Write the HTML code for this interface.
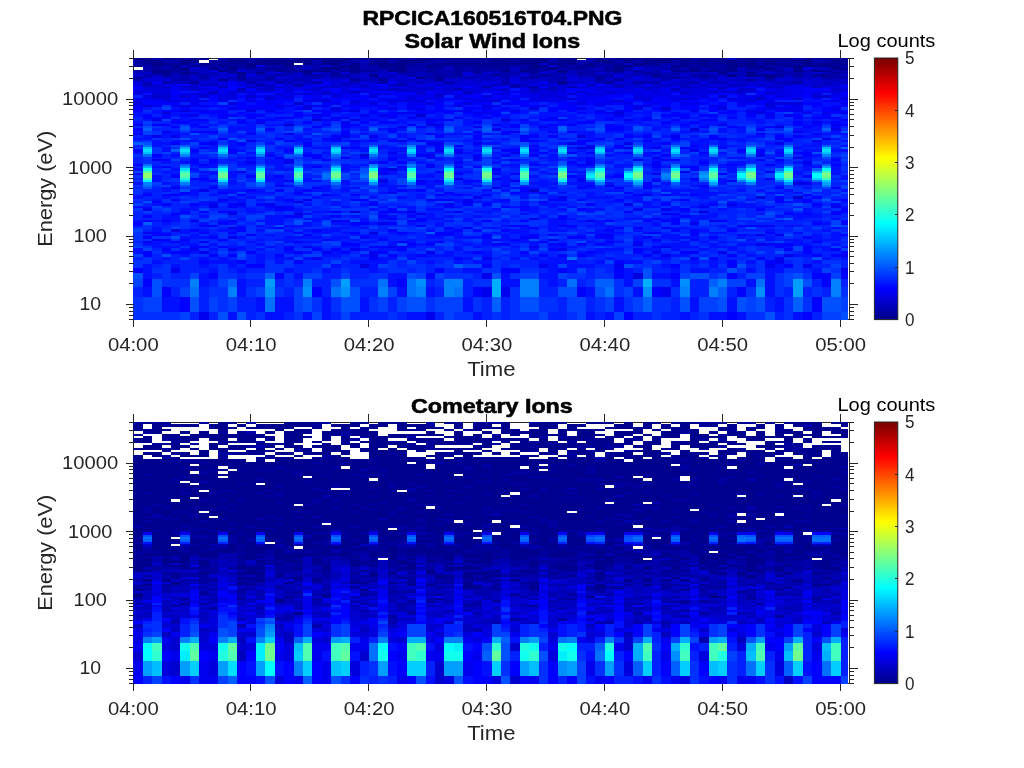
<!DOCTYPE html><html><head><meta charset="utf-8"><style>html,body{margin:0;padding:0;background:#fff;width:1024px;height:768px;overflow:hidden}svg{display:block;will-change:transform}text{font-family:"Liberation Sans",sans-serif}</style></head><body>
<svg width="1024" height="768" viewBox="0 0 1024 768">
<rect width="1024" height="768" fill="#fff"/>
<path d="M133.5 58.5H849.5V319.5H133.5z" fill="none" stroke="#262626" stroke-width="1" shape-rendering="crispEdges"/>
<g shape-rendering="crispEdges"><path fill="#00008f" d="M133 58h19v2h-19zM162 58h18v2h-18zM190 58h19v2h-19zM228 58h18v2h-18zM265 58h19v2h-19zM294 58h113v2h-113zM416 58h132v2h-132zM558 58h19v2h-19zM595 58h10v2h-10zM614 58h76v2h-76zM699 58h28v2h-28zM737 58h56v2h-56zM803 58h9v2h-9zM822 58h26v2h-26zM152 63h19v2h-19zM180 63h10v2h-10zM199 63h10v2h-10zM246 63h48v2h-48zM303 63h9v2h-9zM322 63h19v2h-19zM350 63h10v2h-10zM369 63h38v2h-38zM435 63h57v2h-57zM501 63h38v2h-38zM548 63h10v2h-10zM567 63h10v2h-10zM586 63h9v2h-9zM633 63h19v2h-19zM690 63h9v2h-9zM727 63h10v2h-10zM746 63h10v2h-10zM765 63h10v2h-10zM803 63h9v2h-9zM822 63h9v2h-9zM841 63h7v2h-7zM133 65h10v2h-10zM152 65h10v2h-10zM171 65h9v2h-9zM190 65h9v2h-9zM218 65h10v2h-10zM246 65h10v2h-10zM284 65h10v2h-10zM341 65h19v2h-19zM378 65h29v2h-29zM426 65h9v2h-9zM492 65h9v2h-9zM529 65h19v2h-19zM558 65h9v2h-9zM577 65h18v2h-18zM614 65h19v2h-19zM671 65h19v2h-19zM699 65h10v2h-10zM727 65h38v2h-38zM784 65h57v2h-57zM152 70h19v2h-19zM218 70h10v2h-10zM275 70h9v2h-9zM303 70h28v2h-28zM350 70h10v2h-10zM388 70h19v2h-19zM501 70h9v2h-9zM520 70h9v2h-9zM558 70h9v2h-9zM614 70h10v2h-10zM671 70h9v2h-9zM690 70h9v2h-9zM709 70h9v2h-9zM727 70h10v2h-10zM793 70h10v2h-10zM812 70h10v2h-10zM152 72h19v2h-19zM180 72h10v2h-10zM237 72h9v2h-9zM256 72h9v2h-9zM303 72h9v2h-9zM718 72h9v2h-9zM746 72h10v2h-10zM416 77h10v2h-10zM765 77h10v2h-10zM218 79h10v2h-10zM350 79h10v2h-10zM435 79h9v2h-9zM143 60h19v3h-19zM180 60h19v3h-19zM228 60h18v3h-18zM256 60h56v3h-56zM322 60h28v3h-28zM378 60h10v3h-10zM397 60h29v3h-29zM492 60h18v3h-18zM520 60h28v3h-28zM558 60h19v3h-19zM595 60h19v3h-19zM624 60h9v3h-9zM643 60h28v3h-28zM680 60h10v3h-10zM699 60h10v3h-10zM718 60h19v3h-19zM746 60h10v3h-10zM765 60h10v3h-10zM793 60h19v3h-19zM831 60h10v3h-10zM180 67h10v3h-10zM209 67h9v3h-9zM228 67h9v3h-9zM322 67h19v3h-19zM350 67h10v3h-10zM397 67h10v3h-10zM529 67h10v3h-10zM548 67h10v3h-10zM614 67h10v3h-10zM690 67h9v3h-9zM727 67h10v3h-10zM765 67h10v3h-10zM793 67h10v3h-10zM831 67h10v3h-10zM369 74h9v3h-9zM652 74h9v3h-9zM727 74h10v3h-10zM746 74h10v3h-10zM765 74h10v3h-10zM558 81h9v3h-9z"/><path fill="#0000af" d="M152 58h10v2h-10zM793 58h10v2h-10zM133 63h10v2h-10zM312 63h10v2h-10zM360 63h9v2h-9zM416 63h19v2h-19zM577 63h9v2h-9zM595 63h10v2h-10zM661 63h19v2h-19zM756 63h9v2h-9zM793 63h10v2h-10zM143 65h9v2h-9zM162 65h9v2h-9zM209 65h9v2h-9zM265 65h19v2h-19zM312 65h10v2h-10zM360 65h18v2h-18zM444 65h10v2h-10zM510 65h19v2h-19zM567 65h10v2h-10zM605 65h9v2h-9zM643 65h9v2h-9zM690 65h9v2h-9zM718 65h9v2h-9zM765 65h10v2h-10zM841 65h7v2h-7zM133 70h19v2h-19zM256 70h19v2h-19zM331 70h10v2h-10zM407 70h19v2h-19zM435 70h19v2h-19zM463 70h10v2h-10zM482 70h19v2h-19zM539 70h9v2h-9zM577 70h28v2h-28zM652 70h9v2h-9zM737 70h38v2h-38zM803 70h9v2h-9zM831 70h17v2h-17zM171 72h9v2h-9zM284 72h10v2h-10zM407 72h9v2h-9zM426 72h28v2h-28zM501 72h19v2h-19zM586 72h9v2h-9zM614 72h10v2h-10zM633 72h10v2h-10zM652 72h9v2h-9zM671 72h9v2h-9zM775 72h28v2h-28zM841 72h7v2h-7zM180 77h10v2h-10zM228 77h9v2h-9zM312 77h10v2h-10zM341 77h9v2h-9zM378 77h10v2h-10zM426 77h9v2h-9zM444 77h10v2h-10zM463 77h10v2h-10zM501 77h9v2h-9zM520 77h9v2h-9zM661 77h10v2h-10zM680 77h10v2h-10zM699 77h10v2h-10zM831 77h17v2h-17zM133 79h10v2h-10zM171 79h19v2h-19zM256 79h19v2h-19zM294 79h9v2h-9zM360 79h18v2h-18zM548 79h10v2h-10zM661 79h10v2h-10zM765 79h10v2h-10zM143 84h9v2h-9zM397 84h10v2h-10zM510 84h10v2h-10zM482 86h10v2h-10zM510 86h10v2h-10zM529 86h10v2h-10zM567 86h10v2h-10zM162 60h18v3h-18zM312 60h10v3h-10zM350 60h10v3h-10zM388 60h9v3h-9zM435 60h9v3h-9zM548 60h10v3h-10zM577 60h18v3h-18zM614 60h10v3h-10zM633 60h10v3h-10zM812 60h19v3h-19zM143 67h9v3h-9zM162 67h9v3h-9zM218 67h10v3h-10zM237 67h9v3h-9zM256 67h9v3h-9zM294 67h9v3h-9zM312 67h10v3h-10zM360 67h18v3h-18zM407 67h19v3h-19zM463 67h10v3h-10zM558 67h9v3h-9zM586 67h9v3h-9zM624 67h9v3h-9zM661 67h10v3h-10zM680 67h10v3h-10zM699 67h10v3h-10zM775 67h9v3h-9zM143 74h9v3h-9zM180 74h10v3h-10zM199 74h10v3h-10zM275 74h9v3h-9zM303 74h19v3h-19zM341 74h9v3h-9zM407 74h9v3h-9zM426 74h9v3h-9zM444 74h10v3h-10zM501 74h9v3h-9zM529 74h10v3h-10zM548 74h10v3h-10zM577 74h37v3h-37zM661 74h19v3h-19zM690 74h9v3h-9zM709 74h9v3h-9zM831 74h10v3h-10zM162 81h9v3h-9zM246 81h10v3h-10zM275 81h9v3h-9zM312 81h10v3h-10zM378 81h10v3h-10zM444 81h10v3h-10zM501 81h9v3h-9zM633 81h28v3h-28zM690 81h9v3h-9zM793 81h10v3h-10z"/><path fill="#00009f" d="M180 58h10v2h-10zM218 58h10v2h-10zM246 58h19v2h-19zM284 58h10v2h-10zM407 58h9v2h-9zM548 58h10v2h-10zM586 58h9v2h-9zM605 58h9v2h-9zM690 58h9v2h-9zM812 58h10v2h-10zM143 63h9v2h-9zM171 63h9v2h-9zM209 63h37v2h-37zM407 63h9v2h-9zM492 63h9v2h-9zM558 63h9v2h-9zM605 63h19v2h-19zM652 63h9v2h-9zM680 63h10v2h-10zM699 63h28v2h-28zM737 63h9v2h-9zM775 63h18v2h-18zM812 63h10v2h-10zM831 63h10v2h-10zM199 65h10v2h-10zM228 65h18v2h-18zM294 65h9v2h-9zM331 65h10v2h-10zM407 65h19v2h-19zM435 65h9v2h-9zM454 65h38v2h-38zM501 65h9v2h-9zM595 65h10v2h-10zM633 65h10v2h-10zM652 65h9v2h-9zM709 65h9v2h-9zM775 65h9v2h-9zM171 70h19v2h-19zM228 70h9v2h-9zM284 70h19v2h-19zM341 70h9v2h-9zM360 70h18v2h-18zM426 70h9v2h-9zM454 70h9v2h-9zM473 70h9v2h-9zM529 70h10v2h-10zM605 70h9v2h-9zM633 70h10v2h-10zM680 70h10v2h-10zM699 70h10v2h-10zM718 70h9v2h-9zM775 70h9v2h-9zM822 70h9v2h-9zM190 72h9v2h-9zM228 72h9v2h-9zM331 72h10v2h-10zM350 72h10v2h-10zM397 72h10v2h-10zM454 72h9v2h-9zM473 72h9v2h-9zM529 72h10v2h-10zM558 72h9v2h-9zM577 72h9v2h-9zM643 72h9v2h-9zM831 72h10v2h-10zM133 77h10v2h-10zM199 77h10v2h-10zM237 77h9v2h-9zM265 77h10v2h-10zM435 77h9v2h-9zM529 77h10v2h-10zM558 77h9v2h-9zM595 77h10v2h-10zM671 77h9v2h-9zM822 77h9v2h-9zM237 79h9v2h-9zM378 79h10v2h-10zM595 79h10v2h-10zM614 79h10v2h-10zM746 79h10v2h-10zM256 84h9v2h-9zM294 84h9v2h-9zM133 60h10v3h-10zM209 60h19v3h-19zM246 60h10v3h-10zM369 60h9v3h-9zM426 60h9v3h-9zM444 60h48v3h-48zM510 60h10v3h-10zM671 60h9v3h-9zM690 60h9v3h-9zM709 60h9v3h-9zM737 60h9v3h-9zM756 60h9v3h-9zM775 60h18v3h-18zM841 60h7v3h-7zM152 67h10v3h-10zM171 67h9v3h-9zM246 67h10v3h-10zM265 67h29v3h-29zM341 67h9v3h-9zM378 67h19v3h-19zM426 67h18v3h-18zM454 67h9v3h-9zM473 67h37v3h-37zM520 67h9v3h-9zM539 67h9v3h-9zM567 67h19v3h-19zM605 67h9v3h-9zM671 67h9v3h-9zM709 67h18v3h-18zM746 67h19v3h-19zM841 67h7v3h-7zM162 74h9v3h-9zM237 74h9v3h-9zM331 74h10v3h-10zM435 74h9v3h-9zM454 74h9v3h-9zM492 74h9v3h-9zM539 74h9v3h-9zM699 74h10v3h-10zM756 74h9v3h-9zM775 74h9v3h-9zM793 74h10v3h-10zM812 74h19v3h-19zM190 81h9v3h-9zM605 81h9v3h-9z"/><path fill="#0000bf" d="M727 58h10v2h-10zM190 63h9v2h-9zM341 63h9v2h-9zM624 63h9v2h-9zM180 65h10v2h-10zM303 65h9v2h-9zM661 65h10v2h-10zM190 70h19v2h-19zM246 70h10v2h-10zM378 70h10v2h-10zM510 70h10v2h-10zM548 70h10v2h-10zM567 70h10v2h-10zM624 70h9v2h-9zM643 70h9v2h-9zM784 70h9v2h-9zM133 72h10v2h-10zM199 72h19v2h-19zM246 72h10v2h-10zM294 72h9v2h-9zM322 72h9v2h-9zM360 72h28v2h-28zM416 72h10v2h-10zM492 72h9v2h-9zM520 72h9v2h-9zM548 72h10v2h-10zM567 72h10v2h-10zM605 72h9v2h-9zM661 72h10v2h-10zM680 72h29v2h-29zM727 72h19v2h-19zM756 72h9v2h-9zM803 72h9v2h-9zM822 72h9v2h-9zM171 77h9v2h-9zM246 77h10v2h-10zM294 77h18v2h-18zM331 77h10v2h-10zM350 77h10v2h-10zM369 77h9v2h-9zM454 77h9v2h-9zM473 77h19v2h-19zM548 77h10v2h-10zM605 77h28v2h-28zM652 77h9v2h-9zM690 77h9v2h-9zM709 77h9v2h-9zM775 77h9v2h-9zM793 77h19v2h-19zM190 79h19v2h-19zM246 79h10v2h-10zM275 79h19v2h-19zM303 79h9v2h-9zM407 79h9v2h-9zM426 79h9v2h-9zM482 79h28v2h-28zM520 79h9v2h-9zM539 79h9v2h-9zM558 79h9v2h-9zM699 79h19v2h-19zM727 79h19v2h-19zM756 79h9v2h-9zM793 79h10v2h-10zM831 79h10v2h-10zM199 84h19v2h-19zM341 84h9v2h-9zM388 84h9v2h-9zM492 84h18v2h-18zM520 84h9v2h-9zM558 84h9v2h-9zM586 84h9v2h-9zM614 84h10v2h-10zM680 84h10v2h-10zM727 84h19v2h-19zM756 84h9v2h-9zM822 84h9v2h-9zM218 86h10v2h-10zM246 86h10v2h-10zM265 86h10v2h-10zM548 86h10v2h-10zM614 86h10v2h-10zM680 86h10v2h-10zM812 86h10v2h-10zM209 91h9v2h-9zM350 91h10v2h-10zM463 91h10v2h-10zM709 91h9v2h-9zM727 91h10v2h-10zM756 98h9v2h-9zM360 60h9v3h-9zM199 67h10v3h-10zM303 67h9v3h-9zM444 67h10v3h-10zM510 67h10v3h-10zM595 67h10v3h-10zM643 67h18v3h-18zM737 67h9v3h-9zM784 67h9v3h-9zM812 67h19v3h-19zM152 74h10v3h-10zM171 74h9v3h-9zM190 74h9v3h-9zM209 74h9v3h-9zM256 74h19v3h-19zM284 74h10v3h-10zM322 74h9v3h-9zM350 74h10v3h-10zM388 74h9v3h-9zM416 74h10v3h-10zM473 74h19v3h-19zM510 74h10v3h-10zM558 74h9v3h-9zM624 74h28v3h-28zM718 74h9v3h-9zM737 74h9v3h-9zM784 74h9v3h-9zM803 74h9v3h-9zM841 74h7v3h-7zM143 81h9v3h-9zM171 81h19v3h-19zM284 81h10v3h-10zM303 81h9v3h-9zM350 81h10v3h-10zM397 81h10v3h-10zM416 81h10v3h-10zM548 81h10v3h-10zM567 81h10v3h-10zM595 81h10v3h-10zM680 81h10v3h-10zM709 81h18v3h-18zM775 81h18v3h-18zM822 81h9v3h-9zM841 81h7v3h-7zM237 88h9v3h-9zM265 88h10v3h-10zM388 88h9v3h-9zM454 88h9v3h-9zM529 88h10v3h-10zM548 88h10v3h-10zM671 88h9v3h-9z"/><path fill="#0000cf" d="M539 63h9v2h-9zM322 65h9v2h-9zM548 65h10v2h-10zM661 70h10v2h-10zM143 72h9v2h-9zM218 72h10v2h-10zM265 72h19v2h-19zM312 72h10v2h-10zM341 72h9v2h-9zM482 72h10v2h-10zM539 72h9v2h-9zM595 72h10v2h-10zM624 72h9v2h-9zM709 72h9v2h-9zM765 72h10v2h-10zM812 72h10v2h-10zM143 77h9v2h-9zM162 77h9v2h-9zM190 77h9v2h-9zM209 77h19v2h-19zM256 77h9v2h-9zM284 77h10v2h-10zM322 77h9v2h-9zM360 77h9v2h-9zM388 77h19v2h-19zM539 77h9v2h-9zM577 77h18v2h-18zM643 77h9v2h-9zM727 77h38v2h-38zM812 77h10v2h-10zM152 79h10v2h-10zM228 79h9v2h-9zM322 79h19v2h-19zM388 79h19v2h-19zM416 79h10v2h-10zM454 79h28v2h-28zM529 79h10v2h-10zM577 79h18v2h-18zM605 79h9v2h-9zM633 79h28v2h-28zM680 79h10v2h-10zM718 79h9v2h-9zM784 79h9v2h-9zM803 79h28v2h-28zM841 79h7v2h-7zM190 84h9v2h-9zM265 84h10v2h-10zM284 84h10v2h-10zM331 84h10v2h-10zM360 84h9v2h-9zM435 84h19v2h-19zM463 84h10v2h-10zM539 84h9v2h-9zM624 84h19v2h-19zM652 84h28v2h-28zM699 84h10v2h-10zM775 84h18v2h-18zM803 84h19v2h-19zM831 84h10v2h-10zM143 86h28v2h-28zM180 86h19v2h-19zM275 86h9v2h-9zM294 86h9v2h-9zM322 86h19v2h-19zM360 86h9v2h-9zM407 86h9v2h-9zM426 86h9v2h-9zM520 86h9v2h-9zM633 86h38v2h-38zM690 86h47v2h-47zM765 86h19v2h-19zM228 91h18v2h-18zM322 91h9v2h-9zM416 91h10v2h-10zM529 91h10v2h-10zM577 91h9v2h-9zM605 91h9v2h-9zM680 91h10v2h-10zM737 91h9v2h-9zM831 91h10v2h-10zM152 93h10v2h-10zM209 93h9v2h-9zM275 93h9v2h-9zM303 93h9v2h-9zM322 93h9v2h-9zM416 93h10v2h-10zM435 93h9v2h-9zM463 93h10v2h-10zM539 93h9v2h-9zM567 93h10v2h-10zM586 93h9v2h-9zM680 93h10v2h-10zM765 93h10v2h-10zM265 98h10v2h-10zM567 98h10v2h-10zM680 98h10v2h-10zM793 98h10v2h-10zM322 100h9v2h-9zM492 100h9v2h-9zM614 100h10v2h-10zM143 105h9v2h-9zM765 105h10v2h-10zM312 119h10v2h-10zM501 119h9v2h-9zM284 124h10v2h-10zM190 67h9v3h-9zM133 74h10v3h-10zM218 74h10v3h-10zM294 74h9v3h-9zM360 74h9v3h-9zM378 74h10v3h-10zM397 74h10v3h-10zM463 74h10v3h-10zM520 74h9v3h-9zM567 74h10v3h-10zM680 74h10v3h-10zM209 81h9v3h-9zM256 81h9v3h-9zM294 81h9v3h-9zM341 81h9v3h-9zM369 81h9v3h-9zM407 81h9v3h-9zM426 81h18v3h-18zM454 81h9v3h-9zM473 81h9v3h-9zM520 81h19v3h-19zM577 81h9v3h-9zM624 81h9v3h-9zM671 81h9v3h-9zM737 81h19v3h-19zM765 81h10v3h-10zM812 81h10v3h-10zM831 81h10v3h-10zM190 88h9v3h-9zM256 88h9v3h-9zM312 88h10v3h-10zM397 88h38v3h-38zM444 88h10v3h-10zM501 88h9v3h-9zM539 88h9v3h-9zM643 88h9v3h-9zM718 88h9v3h-9zM737 88h19v3h-19zM831 88h10v3h-10zM152 95h19v3h-19zM180 95h10v3h-10zM199 95h10v3h-10zM246 95h10v3h-10zM435 95h9v3h-9zM718 95h9v3h-9zM812 95h19v3h-19zM294 102h9v3h-9zM661 107h10v3h-10zM416 114h10v3h-10zM529 189h10v3h-10zM793 196h10v3h-10z"/><path fill="#0000df" d="M256 65h9v2h-9zM209 70h9v2h-9zM237 70h9v2h-9zM388 72h9v2h-9zM463 72h10v2h-10zM152 77h10v2h-10zM275 77h9v2h-9zM407 77h9v2h-9zM492 77h9v2h-9zM510 77h10v2h-10zM567 77h10v2h-10zM718 77h9v2h-9zM784 77h9v2h-9zM143 79h9v2h-9zM162 79h9v2h-9zM209 79h9v2h-9zM444 79h10v2h-10zM510 79h10v2h-10zM567 79h10v2h-10zM624 79h9v2h-9zM671 79h9v2h-9zM690 79h9v2h-9zM775 79h9v2h-9zM133 84h10v2h-10zM152 84h10v2h-10zM218 84h10v2h-10zM237 84h19v2h-19zM303 84h9v2h-9zM350 84h10v2h-10zM407 84h19v2h-19zM454 84h9v2h-9zM473 84h19v2h-19zM548 84h10v2h-10zM605 84h9v2h-9zM690 84h9v2h-9zM709 84h18v2h-18zM746 84h10v2h-10zM765 84h10v2h-10zM793 84h10v2h-10zM256 86h9v2h-9zM284 86h10v2h-10zM312 86h10v2h-10zM341 86h19v2h-19zM369 86h9v2h-9zM388 86h19v2h-19zM416 86h10v2h-10zM444 86h19v2h-19zM473 86h9v2h-9zM558 86h9v2h-9zM577 86h37v2h-37zM624 86h9v2h-9zM737 86h9v2h-9zM822 86h19v2h-19zM133 91h10v2h-10zM152 91h19v2h-19zM246 91h10v2h-10zM284 91h10v2h-10zM341 91h9v2h-9zM360 91h9v2h-9zM397 91h19v2h-19zM444 91h10v2h-10zM473 91h9v2h-9zM501 91h9v2h-9zM520 91h9v2h-9zM548 91h19v2h-19zM614 91h29v2h-29zM652 91h9v2h-9zM690 91h19v2h-19zM718 91h9v2h-9zM746 91h10v2h-10zM765 91h19v2h-19zM822 91h9v2h-9zM133 93h10v2h-10zM162 93h9v2h-9zM190 93h19v2h-19zM228 93h9v2h-9zM294 93h9v2h-9zM312 93h10v2h-10zM331 93h10v2h-10zM369 93h19v2h-19zM444 93h10v2h-10zM492 93h18v2h-18zM529 93h10v2h-10zM548 93h10v2h-10zM595 93h19v2h-19zM652 93h19v2h-19zM690 93h9v2h-9zM737 93h9v2h-9zM784 93h9v2h-9zM812 93h10v2h-10zM152 98h19v2h-19zM218 98h10v2h-10zM407 98h9v2h-9zM426 98h9v2h-9zM463 98h10v2h-10zM529 98h19v2h-19zM558 98h9v2h-9zM633 98h19v2h-19zM671 98h9v2h-9zM690 98h9v2h-9zM727 98h10v2h-10zM746 98h10v2h-10zM841 98h7v2h-7zM162 100h28v2h-28zM199 100h10v2h-10zM246 100h10v2h-10zM303 100h19v2h-19zM350 100h10v2h-10zM388 100h38v2h-38zM473 100h19v2h-19zM548 100h10v2h-10zM643 100h9v2h-9zM746 100h10v2h-10zM831 100h10v2h-10zM180 105h10v2h-10zM275 105h9v2h-9zM303 105h9v2h-9zM454 105h9v2h-9zM482 105h10v2h-10zM643 105h9v2h-9zM180 110h10v2h-10zM246 110h10v2h-10zM350 110h10v2h-10zM162 112h9v2h-9zM614 112h10v2h-10zM756 112h9v2h-9zM152 119h10v2h-10zM350 119h10v2h-10zM426 124h9v2h-9zM775 126h9v2h-9zM577 147h18v2h-18zM378 180h10v2h-10zM294 201h9v2h-9zM350 211h10v2h-10zM699 211h10v2h-10zM228 213h9v2h-9zM294 213h9v2h-9zM369 232h9v2h-9zM633 67h10v3h-10zM803 67h9v3h-9zM228 74h9v3h-9zM246 74h10v3h-10zM614 74h10v3h-10zM133 81h10v3h-10zM199 81h10v3h-10zM218 81h10v3h-10zM237 81h9v3h-9zM265 81h10v3h-10zM331 81h10v3h-10zM360 81h9v3h-9zM463 81h10v3h-10zM482 81h19v3h-19zM510 81h10v3h-10zM586 81h9v3h-9zM614 81h10v3h-10zM661 81h10v3h-10zM699 81h10v3h-10zM727 81h10v3h-10zM756 81h9v3h-9zM803 81h9v3h-9zM143 88h28v3h-28zM180 88h10v3h-10zM199 88h10v3h-10zM284 88h10v3h-10zM303 88h9v3h-9zM341 88h9v3h-9zM369 88h19v3h-19zM435 88h9v3h-9zM463 88h38v3h-38zM558 88h9v3h-9zM595 88h10v3h-10zM624 88h9v3h-9zM652 88h9v3h-9zM680 88h29v3h-29zM775 88h9v3h-9zM841 88h7v3h-7zM143 95h9v3h-9zM218 95h19v3h-19zM265 95h10v3h-10zM284 95h10v3h-10zM331 95h10v3h-10zM369 95h9v3h-9zM407 95h9v3h-9zM454 95h9v3h-9zM482 95h10v3h-10zM539 95h28v3h-28zM633 95h19v3h-19zM699 95h10v3h-10zM756 95h9v3h-9zM775 95h9v3h-9zM133 102h10v3h-10zM228 102h9v3h-9zM350 102h10v3h-10zM369 102h9v3h-9zM426 102h9v3h-9zM463 102h10v3h-10zM577 102h9v3h-9zM765 102h38v3h-38zM303 107h9v3h-9zM331 107h10v3h-10zM529 107h10v3h-10zM633 107h10v3h-10zM718 107h9v3h-9zM690 128h9v3h-9zM577 135h9v3h-9zM360 154h9v3h-9zM388 168h9v3h-9zM793 182h10v3h-10zM756 196h9v3h-9zM171 229h9v3h-9zM360 264h9v4h-9zM633 273h10v6h-10z"/><path fill="#0000ef" d="M633 77h10v2h-10zM312 79h10v2h-10zM341 79h9v2h-9zM162 84h18v2h-18zM312 84h19v2h-19zM369 84h9v2h-9zM426 84h9v2h-9zM529 84h10v2h-10zM567 84h10v2h-10zM841 84h7v2h-7zM171 86h9v2h-9zM199 86h19v2h-19zM303 86h9v2h-9zM378 86h10v2h-10zM435 86h9v2h-9zM492 86h9v2h-9zM671 86h9v2h-9zM746 86h19v2h-19zM784 86h28v2h-28zM841 86h7v2h-7zM143 91h9v2h-9zM199 91h10v2h-10zM218 91h10v2h-10zM256 91h19v2h-19zM312 91h10v2h-10zM435 91h9v2h-9zM482 91h10v2h-10zM510 91h10v2h-10zM539 91h9v2h-9zM595 91h10v2h-10zM643 91h9v2h-9zM661 91h19v2h-19zM756 91h9v2h-9zM784 91h38v2h-38zM841 91h7v2h-7zM180 93h10v2h-10zM218 93h10v2h-10zM246 93h10v2h-10zM284 93h10v2h-10zM341 93h19v2h-19zM388 93h9v2h-9zM426 93h9v2h-9zM454 93h9v2h-9zM473 93h9v2h-9zM520 93h9v2h-9zM558 93h9v2h-9zM614 93h10v2h-10zM633 93h19v2h-19zM699 93h10v2h-10zM775 93h9v2h-9zM793 93h10v2h-10zM831 93h10v2h-10zM133 98h19v2h-19zM190 98h9v2h-9zM228 98h9v2h-9zM246 98h10v2h-10zM275 98h19v2h-19zM312 98h19v2h-19zM378 98h29v2h-29zM416 98h10v2h-10zM435 98h9v2h-9zM454 98h9v2h-9zM473 98h47v2h-47zM548 98h10v2h-10zM577 98h18v2h-18zM661 98h10v2h-10zM709 98h9v2h-9zM737 98h9v2h-9zM765 98h10v2h-10zM133 100h10v2h-10zM190 100h9v2h-9zM218 100h10v2h-10zM360 100h9v2h-9zM378 100h10v2h-10zM435 100h9v2h-9zM529 100h19v2h-19zM558 100h9v2h-9zM577 100h9v2h-9zM605 100h9v2h-9zM671 100h9v2h-9zM727 100h19v2h-19zM765 100h10v2h-10zM152 105h10v2h-10zM171 105h9v2h-9zM199 105h10v2h-10zM284 105h10v2h-10zM312 105h19v2h-19zM378 105h10v2h-10zM407 105h9v2h-9zM492 105h9v2h-9zM539 105h9v2h-9zM595 105h10v2h-10zM633 105h10v2h-10zM709 105h18v2h-18zM793 105h10v2h-10zM199 110h10v2h-10zM265 110h10v2h-10zM331 110h10v2h-10zM454 110h19v2h-19zM510 110h10v2h-10zM595 110h10v2h-10zM614 110h10v2h-10zM690 110h9v2h-9zM746 110h19v2h-19zM784 110h19v2h-19zM397 112h19v2h-19zM473 112h19v2h-19zM605 112h9v2h-9zM746 112h10v2h-10zM803 112h9v2h-9zM822 112h9v2h-9zM841 112h7v2h-7zM331 117h10v2h-10zM407 117h9v2h-9zM426 119h9v2h-9zM558 119h9v2h-9zM624 119h9v2h-9zM133 124h10v2h-10zM435 124h9v2h-9zM492 124h9v2h-9zM718 124h9v2h-9zM831 124h10v2h-10zM397 126h10v2h-10zM473 126h9v2h-9zM539 126h9v2h-9zM162 131h9v2h-9zM510 131h10v2h-10zM793 131h10v2h-10zM331 138h10v2h-10zM520 138h9v2h-9zM775 138h9v2h-9zM822 138h9v2h-9zM246 140h10v2h-10zM397 140h10v2h-10zM812 140h10v2h-10zM624 147h9v2h-9zM652 147h9v2h-9zM388 152h9v2h-9zM454 152h9v2h-9zM510 152h10v2h-10zM473 157h9v2h-9zM652 157h9v2h-9zM793 157h10v2h-10zM152 159h10v2h-10zM284 159h10v2h-10zM633 159h10v2h-10zM652 164h9v2h-9zM426 166h9v2h-9zM237 171h9v2h-9zM680 171h10v2h-10zM378 173h10v2h-10zM652 173h9v2h-9zM454 178h9v2h-9zM416 180h10v2h-10zM510 180h10v2h-10zM577 180h9v2h-9zM605 185h9v2h-9zM171 187h9v2h-9zM492 187h9v2h-9zM388 192h9v2h-9zM643 194h9v2h-9zM218 199h10v2h-10zM303 199h9v2h-9zM426 199h9v2h-9zM463 199h10v2h-10zM463 201h10v2h-10zM209 206h9v2h-9zM275 206h9v2h-9zM699 206h10v2h-10zM831 206h10v2h-10zM407 211h9v2h-9zM416 213h10v2h-10zM529 218h10v2h-10zM190 220h9v2h-9zM331 220h10v2h-10zM586 220h9v2h-9zM709 220h9v2h-9zM228 227h9v2h-9zM143 232h9v2h-9zM605 234h9v2h-9zM756 234h9v2h-9zM775 234h9v2h-9zM152 239h10v2h-10zM548 239h10v2h-10zM143 241h9v2h-9zM303 246h9v2h-9zM388 246h9v2h-9zM529 246h10v2h-10zM661 246h10v2h-10zM152 81h10v3h-10zM228 81h9v3h-9zM322 81h9v3h-9zM388 81h9v3h-9zM539 81h9v3h-9zM133 88h10v3h-10zM171 88h9v3h-9zM209 88h19v3h-19zM275 88h9v3h-9zM294 88h9v3h-9zM322 88h9v3h-9zM360 88h9v3h-9zM520 88h9v3h-9zM577 88h18v3h-18zM605 88h19v3h-19zM633 88h10v3h-10zM661 88h10v3h-10zM709 88h9v3h-9zM765 88h10v3h-10zM784 88h19v3h-19zM171 95h9v3h-9zM190 95h9v3h-9zM256 95h9v3h-9zM275 95h9v3h-9zM312 95h10v3h-10zM341 95h19v3h-19zM397 95h10v3h-10zM416 95h19v3h-19zM501 95h9v3h-9zM520 95h19v3h-19zM577 95h28v3h-28zM652 95h47v3h-47zM737 95h19v3h-19zM784 95h19v3h-19zM831 95h17v3h-17zM190 102h9v3h-9zM265 102h10v3h-10zM331 102h10v3h-10zM388 102h9v3h-9zM407 102h19v3h-19zM501 102h9v3h-9zM567 102h10v3h-10zM595 102h19v3h-19zM624 102h9v3h-9zM652 102h9v3h-9zM680 102h19v3h-19zM737 102h9v3h-9zM841 102h7v3h-7zM228 107h9v3h-9zM246 107h19v3h-19zM388 107h9v3h-9zM407 107h19v3h-19zM482 107h10v3h-10zM577 107h9v3h-9zM765 107h38v3h-38zM831 107h10v3h-10zM190 114h9v3h-9zM312 114h10v3h-10zM360 114h9v3h-9zM378 114h10v3h-10zM614 114h10v3h-10zM765 114h10v3h-10zM784 114h9v3h-9zM256 121h9v3h-9zM341 121h9v3h-9zM812 121h10v3h-10zM492 128h9v3h-9zM831 128h10v3h-10zM152 135h10v3h-10zM171 135h9v3h-9zM341 135h9v3h-9zM369 135h9v3h-9zM671 135h9v3h-9zM209 142h9v3h-9zM426 142h18v3h-18zM473 142h9v3h-9zM567 142h10v3h-10zM624 142h9v3h-9zM775 142h9v3h-9zM435 149h9v3h-9zM690 149h9v3h-9zM426 154h9v3h-9zM756 154h9v3h-9zM246 161h10v3h-10zM284 161h10v3h-10zM586 161h9v3h-9zM803 161h9v3h-9zM803 182h9v3h-9zM199 189h10v3h-10zM473 196h9v3h-9zM558 196h9v3h-9zM209 203h9v3h-9zM237 203h9v3h-9zM265 203h10v3h-10zM444 203h10v3h-10zM624 203h9v3h-9zM727 203h10v3h-10zM143 208h9v3h-9zM633 208h10v3h-10zM661 208h10v3h-10zM378 222h10v3h-10zM690 222h9v3h-9zM228 236h9v3h-9zM633 243h10v3h-10zM756 243h9v3h-9zM190 248h9v3h-9zM228 248h9v3h-9zM350 248h10v3h-10zM558 248h9v3h-9zM199 251h10v3h-10zM322 251h9v3h-9zM369 251h9v3h-9zM426 251h9v3h-9zM652 251h9v3h-9zM718 251h9v3h-9zM369 254h9v3h-9zM661 254h10v3h-10zM784 254h9v3h-9zM841 254h7v3h-7zM312 257h10v3h-10zM482 257h10v3h-10zM775 257h9v3h-9zM775 260h9v4h-9zM539 264h9v4h-9zM614 264h10v4h-10zM765 264h10v4h-10zM803 264h9v4h-9zM171 268h9v5h-9zM841 268h7v5h-7zM482 273h10v6h-10zM482 287h10v10h-10zM501 287h9v10h-9zM661 287h10v10h-10zM199 312h10v8h-10zM426 312h9v8h-9z"/><path fill="#0000ff" d="M180 84h10v2h-10zM228 84h9v2h-9zM275 84h9v2h-9zM378 84h10v2h-10zM577 84h9v2h-9zM595 84h10v2h-10zM643 84h9v2h-9zM133 86h10v2h-10zM228 86h18v2h-18zM463 86h10v2h-10zM501 86h9v2h-9zM539 86h9v2h-9zM171 91h9v2h-9zM275 91h9v2h-9zM303 91h9v2h-9zM331 91h10v2h-10zM369 91h28v2h-28zM426 91h9v2h-9zM454 91h9v2h-9zM492 91h9v2h-9zM567 91h10v2h-10zM586 91h9v2h-9zM171 93h9v2h-9zM397 93h19v2h-19zM577 93h9v2h-9zM624 93h9v2h-9zM709 93h28v2h-28zM756 93h9v2h-9zM803 93h9v2h-9zM841 93h7v2h-7zM171 98h19v2h-19zM209 98h9v2h-9zM303 98h9v2h-9zM331 98h38v2h-38zM444 98h10v2h-10zM595 98h19v2h-19zM624 98h9v2h-9zM652 98h9v2h-9zM699 98h10v2h-10zM775 98h18v2h-18zM812 98h10v2h-10zM831 98h10v2h-10zM143 100h19v2h-19zM209 100h9v2h-9zM256 100h38v2h-38zM331 100h10v2h-10zM369 100h9v2h-9zM463 100h10v2h-10zM510 100h19v2h-19zM586 100h19v2h-19zM624 100h19v2h-19zM652 100h19v2h-19zM680 100h19v2h-19zM709 100h9v2h-9zM756 100h9v2h-9zM822 100h9v2h-9zM841 100h7v2h-7zM133 105h10v2h-10zM190 105h9v2h-9zM209 105h19v2h-19zM237 105h38v2h-38zM341 105h37v2h-37zM416 105h10v2h-10zM435 105h9v2h-9zM520 105h19v2h-19zM558 105h19v2h-19zM624 105h9v2h-9zM661 105h10v2h-10zM680 105h19v2h-19zM737 105h9v2h-9zM784 105h9v2h-9zM812 105h10v2h-10zM831 105h17v2h-17zM133 110h10v2h-10zM162 110h18v2h-18zM190 110h9v2h-9zM209 110h19v2h-19zM312 110h19v2h-19zM341 110h9v2h-9zM369 110h9v2h-9zM416 110h38v2h-38zM482 110h19v2h-19zM548 110h10v2h-10zM567 110h10v2h-10zM624 110h9v2h-9zM661 110h10v2h-10zM709 110h9v2h-9zM727 110h10v2h-10zM775 110h9v2h-9zM822 110h26v2h-26zM199 112h29v2h-29zM237 112h9v2h-9zM275 112h9v2h-9zM294 112h9v2h-9zM322 112h9v2h-9zM369 112h9v2h-9zM388 112h9v2h-9zM416 112h19v2h-19zM444 112h10v2h-10zM463 112h10v2h-10zM492 112h9v2h-9zM510 112h10v2h-10zM577 112h9v2h-9zM595 112h10v2h-10zM671 112h9v2h-9zM718 112h19v2h-19zM765 112h10v2h-10zM831 112h10v2h-10zM143 117h28v2h-28zM218 117h10v2h-10zM246 117h10v2h-10zM275 117h19v2h-19zM312 117h10v2h-10zM341 117h9v2h-9zM388 117h9v2h-9zM454 117h9v2h-9zM482 117h10v2h-10zM548 117h10v2h-10zM605 117h9v2h-9zM643 117h9v2h-9zM680 117h10v2h-10zM727 117h10v2h-10zM765 117h10v2h-10zM793 117h10v2h-10zM812 117h29v2h-29zM171 119h9v2h-9zM190 119h19v2h-19zM237 119h9v2h-9zM256 119h19v2h-19zM322 119h19v2h-19zM369 119h9v2h-9zM435 119h19v2h-19zM520 119h9v2h-9zM539 119h19v2h-19zM605 119h9v2h-9zM643 119h9v2h-9zM671 119h9v2h-9zM699 119h19v2h-19zM841 119h7v2h-7zM152 124h19v2h-19zM190 124h9v2h-9zM322 124h9v2h-9zM341 124h19v2h-19zM407 124h9v2h-9zM510 124h10v2h-10zM548 124h10v2h-10zM567 124h10v2h-10zM605 124h9v2h-9zM680 124h10v2h-10zM793 124h10v2h-10zM812 124h10v2h-10zM841 124h7v2h-7zM171 126h9v2h-9zM199 126h10v2h-10zM312 126h10v2h-10zM341 126h9v2h-9zM416 126h10v2h-10zM435 126h9v2h-9zM510 126h10v2h-10zM605 126h19v2h-19zM699 126h10v2h-10zM727 126h10v2h-10zM765 126h10v2h-10zM803 126h9v2h-9zM831 126h10v2h-10zM190 131h28v2h-28zM341 131h9v2h-9zM388 131h9v2h-9zM473 131h9v2h-9zM501 131h9v2h-9zM548 131h10v2h-10zM567 131h10v2h-10zM133 133h10v2h-10zM246 133h10v2h-10zM284 133h10v2h-10zM341 133h9v2h-9zM426 133h9v2h-9zM501 133h9v2h-9zM756 133h9v2h-9zM812 133h10v2h-10zM218 138h10v2h-10zM275 138h9v2h-9zM322 138h9v2h-9zM407 138h9v2h-9zM473 138h9v2h-9zM595 138h10v2h-10zM614 138h10v2h-10zM671 138h9v2h-9zM709 138h18v2h-18zM784 138h9v2h-9zM284 140h10v2h-10zM331 140h10v2h-10zM350 140h10v2h-10zM369 140h9v2h-9zM388 140h9v2h-9zM416 140h10v2h-10zM520 140h19v2h-19zM577 140h18v2h-18zM643 140h9v2h-9zM784 140h9v2h-9zM303 145h9v2h-9zM435 145h9v2h-9zM454 145h9v2h-9zM529 145h10v2h-10zM586 145h9v2h-9zM614 145h10v2h-10zM690 145h9v2h-9zM199 147h10v2h-10zM341 147h19v2h-19zM435 147h9v2h-9zM614 147h10v2h-10zM680 147h10v2h-10zM718 147h9v2h-9zM228 152h9v2h-9zM539 152h9v2h-9zM567 152h10v2h-10zM586 152h9v2h-9zM624 152h9v2h-9zM652 152h9v2h-9zM699 152h10v2h-10zM756 152h9v2h-9zM775 152h9v2h-9zM793 152h19v2h-19zM246 157h10v2h-10zM275 157h9v2h-9zM312 157h10v2h-10zM341 157h9v2h-9zM360 157h9v2h-9zM388 157h9v2h-9zM426 157h9v2h-9zM586 157h9v2h-9zM162 159h9v2h-9zM190 159h9v2h-9zM209 159h9v2h-9zM322 159h9v2h-9zM388 159h9v2h-9zM473 159h9v2h-9zM510 159h10v2h-10zM586 159h9v2h-9zM661 159h19v2h-19zM756 159h9v2h-9zM775 159h9v2h-9zM831 159h10v2h-10zM133 164h10v2h-10zM199 164h10v2h-10zM426 164h9v2h-9zM529 164h10v2h-10zM577 164h18v2h-18zM727 164h10v2h-10zM765 164h10v2h-10zM803 164h9v2h-9zM831 164h10v2h-10zM162 166h9v2h-9zM312 166h10v2h-10zM397 166h10v2h-10zM454 166h9v2h-9zM473 166h9v2h-9zM652 166h9v2h-9zM680 166h19v2h-19zM378 171h10v2h-10zM435 171h9v2h-9zM765 171h10v2h-10zM454 173h9v2h-9zM492 173h9v2h-9zM510 173h10v2h-10zM718 173h9v2h-9zM190 178h19v2h-19zM492 178h9v2h-9zM577 178h9v2h-9zM690 178h9v2h-9zM765 178h10v2h-10zM209 180h9v2h-9zM284 180h10v2h-10zM435 180h9v2h-9zM463 180h19v2h-19zM652 180h9v2h-9zM727 180h10v2h-10zM275 185h9v2h-9zM501 185h9v2h-9zM586 185h9v2h-9zM643 185h9v2h-9zM699 185h10v2h-10zM209 187h9v2h-9zM312 187h10v2h-10zM520 187h9v2h-9zM577 187h9v2h-9zM614 187h10v2h-10zM643 187h9v2h-9zM775 187h9v2h-9zM831 187h10v2h-10zM180 192h10v2h-10zM218 192h10v2h-10zM294 192h9v2h-9zM444 192h10v2h-10zM510 192h10v2h-10zM539 192h9v2h-9zM624 192h9v2h-9zM143 194h9v2h-9zM162 194h18v2h-18zM237 194h9v2h-9zM322 194h9v2h-9zM350 194h10v2h-10zM435 194h9v2h-9zM454 194h9v2h-9zM482 194h10v2h-10zM633 194h10v2h-10zM661 194h10v2h-10zM690 194h9v2h-9zM803 194h9v2h-9zM171 199h9v2h-9zM284 199h10v2h-10zM350 199h19v2h-19zM435 199h19v2h-19zM501 199h9v2h-9zM548 199h19v2h-19zM577 199h9v2h-9zM614 199h10v2h-10zM680 199h10v2h-10zM775 199h9v2h-9zM803 199h9v2h-9zM841 199h7v2h-7zM152 201h10v2h-10zM369 201h9v2h-9zM539 201h9v2h-9zM775 201h9v2h-9zM803 201h9v2h-9zM228 206h9v2h-9zM265 206h10v2h-10zM284 206h10v2h-10zM444 206h10v2h-10zM501 206h9v2h-9zM520 206h9v2h-9zM180 211h10v2h-10zM199 211h10v2h-10zM218 211h19v2h-19zM331 211h10v2h-10zM378 211h29v2h-29zM454 211h9v2h-9zM624 211h9v2h-9zM831 211h17v2h-17zM171 213h9v2h-9zM661 213h19v2h-19zM784 213h9v2h-9zM803 213h9v2h-9zM831 213h10v2h-10zM388 218h9v2h-9zM416 218h10v2h-10zM558 218h9v2h-9zM652 218h9v2h-9zM671 218h9v2h-9zM143 220h9v2h-9zM162 220h9v2h-9zM228 220h9v2h-9zM341 220h9v2h-9zM407 220h19v2h-19zM482 220h10v2h-10zM520 220h9v2h-9zM605 220h9v2h-9zM643 220h9v2h-9zM661 220h19v2h-19zM718 220h9v2h-9zM841 220h7v2h-7zM199 225h19v2h-19zM416 225h10v2h-10zM510 225h19v2h-19zM558 225h19v2h-19zM737 225h38v2h-38zM237 227h9v2h-9zM275 227h9v2h-9zM444 227h10v2h-10zM463 227h10v2h-10zM529 227h10v2h-10zM614 227h10v2h-10zM633 227h10v2h-10zM661 227h10v2h-10zM152 232h10v2h-10zM199 232h10v2h-10zM228 232h9v2h-9zM294 232h9v2h-9zM350 232h10v2h-10zM397 232h10v2h-10zM435 232h19v2h-19zM643 232h18v2h-18zM690 232h9v2h-9zM765 232h10v2h-10zM152 234h19v2h-19zM246 234h10v2h-10zM303 234h9v2h-9zM435 234h19v2h-19zM482 234h10v2h-10zM529 234h10v2h-10zM548 234h10v2h-10zM595 234h10v2h-10zM690 234h9v2h-9zM737 234h9v2h-9zM841 234h7v2h-7zM162 239h9v2h-9zM180 239h10v2h-10zM218 239h10v2h-10zM322 239h9v2h-9zM378 239h10v2h-10zM492 239h9v2h-9zM510 239h10v2h-10zM652 239h9v2h-9zM690 239h9v2h-9zM171 241h9v2h-9zM199 241h10v2h-10zM294 241h9v2h-9zM397 241h10v2h-10zM435 241h9v2h-9zM539 241h9v2h-9zM605 241h9v2h-9zM633 241h10v2h-10zM812 241h10v2h-10zM190 246h19v2h-19zM218 246h10v2h-10zM284 246h10v2h-10zM369 246h19v2h-19zM397 246h10v2h-10zM652 246h9v2h-9zM775 246h9v2h-9zM803 246h9v2h-9zM228 88h9v3h-9zM246 88h10v3h-10zM331 88h10v3h-10zM350 88h10v3h-10zM567 88h10v3h-10zM727 88h10v3h-10zM803 88h28v3h-28zM209 95h9v3h-9zM237 95h9v3h-9zM303 95h9v3h-9zM360 95h9v3h-9zM463 95h19v3h-19zM492 95h9v3h-9zM510 95h10v3h-10zM605 95h19v3h-19zM765 95h10v3h-10zM803 95h9v3h-9zM143 102h37v3h-37zM237 102h9v3h-9zM256 102h9v3h-9zM275 102h9v3h-9zM322 102h9v3h-9zM360 102h9v3h-9zM435 102h9v3h-9zM454 102h9v3h-9zM473 102h19v3h-19zM510 102h19v3h-19zM558 102h9v3h-9zM586 102h9v3h-9zM614 102h10v3h-10zM643 102h9v3h-9zM661 102h10v3h-10zM699 102h10v3h-10zM718 102h9v3h-9zM746 102h19v3h-19zM803 102h19v3h-19zM133 107h10v3h-10zM180 107h10v3h-10zM237 107h9v3h-9zM265 107h19v3h-19zM294 107h9v3h-9zM350 107h10v3h-10zM378 107h10v3h-10zM435 107h9v3h-9zM463 107h19v3h-19zM501 107h9v3h-9zM548 107h29v3h-29zM624 107h9v3h-9zM652 107h9v3h-9zM680 107h19v3h-19zM709 107h9v3h-9zM756 107h9v3h-9zM822 107h9v3h-9zM143 114h9v3h-9zM162 114h9v3h-9zM180 114h10v3h-10zM218 114h19v3h-19zM246 114h19v3h-19zM294 114h9v3h-9zM322 114h9v3h-9zM388 114h9v3h-9zM473 114h9v3h-9zM492 114h9v3h-9zM661 114h29v3h-29zM699 114h19v3h-19zM746 114h10v3h-10zM793 114h10v3h-10zM822 114h9v3h-9zM171 121h19v3h-19zM237 121h9v3h-9zM303 121h9v3h-9zM360 121h9v3h-9zM378 121h19v3h-19zM426 121h9v3h-9zM473 121h9v3h-9zM577 121h18v3h-18zM661 121h10v3h-10zM690 121h9v3h-9zM793 121h10v3h-10zM831 121h10v3h-10zM133 128h10v3h-10zM265 128h10v3h-10zM388 128h9v3h-9zM605 128h19v3h-19zM756 128h9v3h-9zM331 135h10v3h-10zM435 135h9v3h-9zM473 135h9v3h-9zM520 135h19v3h-19zM548 135h10v3h-10zM624 135h9v3h-9zM643 135h9v3h-9zM709 135h9v3h-9zM775 135h9v3h-9zM793 135h10v3h-10zM171 142h9v3h-9zM199 142h10v3h-10zM237 142h9v3h-9zM303 142h9v3h-9zM577 142h9v3h-9zM661 142h10v3h-10zM133 149h10v3h-10zM190 149h9v3h-9zM228 149h9v3h-9zM284 149h10v3h-10zM454 149h9v3h-9zM501 149h19v3h-19zM529 149h10v3h-10zM737 149h9v3h-9zM756 149h9v3h-9zM152 154h10v3h-10zM265 154h10v3h-10zM303 154h19v3h-19zM416 154h10v3h-10zM473 154h9v3h-9zM501 154h9v3h-9zM529 154h10v3h-10zM661 154h10v3h-10zM803 154h9v3h-9zM190 161h9v3h-9zM209 161h9v3h-9zM378 161h10v3h-10zM397 161h10v3h-10zM454 161h9v3h-9zM567 161h10v3h-10zM652 161h9v3h-9zM699 161h10v3h-10zM378 168h10v3h-10zM492 168h9v3h-9zM690 168h9v3h-9zM171 175h9v3h-9zM246 175h10v3h-10zM275 175h9v3h-9zM567 175h10v3h-10zM614 175h10v3h-10zM803 175h9v3h-9zM416 182h10v3h-10zM643 182h9v3h-9zM246 189h10v3h-10zM275 189h9v3h-9zM303 189h9v3h-9zM397 189h10v3h-10zM416 189h10v3h-10zM520 189h9v3h-9zM775 196h9v3h-9zM812 196h10v3h-10zM162 203h9v3h-9zM190 203h9v3h-9zM228 203h9v3h-9zM256 203h9v3h-9zM369 203h9v3h-9zM463 203h10v3h-10zM482 203h10v3h-10zM586 203h9v3h-9zM661 203h10v3h-10zM709 203h9v3h-9zM812 203h10v3h-10zM831 203h10v3h-10zM275 208h19v3h-19zM388 208h9v3h-9zM520 208h9v3h-9zM577 208h9v3h-9zM680 208h10v3h-10zM756 208h9v3h-9zM841 208h7v3h-7zM143 215h9v3h-9zM284 215h19v3h-19zM331 215h10v3h-10zM378 215h10v3h-10zM407 215h9v3h-9zM558 215h9v3h-9zM680 215h10v3h-10zM133 222h10v3h-10zM218 222h10v3h-10zM350 222h19v3h-19zM388 222h9v3h-9zM671 222h9v3h-9zM812 222h10v3h-10zM841 222h7v3h-7zM190 229h9v3h-9zM237 229h9v3h-9zM312 229h10v3h-10zM388 229h9v3h-9zM454 229h9v3h-9zM473 229h9v3h-9zM501 229h9v3h-9zM605 229h9v3h-9zM671 229h9v3h-9zM690 229h9v3h-9zM727 229h10v3h-10zM143 236h9v3h-9zM209 236h9v3h-9zM360 236h9v3h-9zM482 236h10v3h-10zM520 236h19v3h-19zM567 236h19v3h-19zM595 236h19v3h-19zM643 236h9v3h-9zM709 236h9v3h-9zM803 236h9v3h-9zM341 243h19v3h-19zM407 243h9v3h-9zM426 243h9v3h-9zM492 243h18v3h-18zM548 243h19v3h-19zM577 243h9v3h-9zM595 243h10v3h-10zM765 243h28v3h-28zM162 248h9v3h-9zM284 248h10v3h-10zM312 248h10v3h-10zM331 248h10v3h-10zM397 248h10v3h-10zM548 248h10v3h-10zM633 248h10v3h-10zM784 248h9v3h-9zM803 248h9v3h-9zM831 248h10v3h-10zM143 251h9v3h-9zM171 251h19v3h-19zM246 251h10v3h-10zM294 251h9v3h-9zM341 251h9v3h-9zM378 251h10v3h-10zM473 251h9v3h-9zM520 251h9v3h-9zM586 251h9v3h-9zM633 251h10v3h-10zM680 251h19v3h-19zM803 251h9v3h-9zM841 251h7v3h-7zM143 254h9v3h-9zM209 254h9v3h-9zM228 254h9v3h-9zM275 254h9v3h-9zM388 254h9v3h-9zM416 254h10v3h-10zM539 254h9v3h-9zM558 254h9v3h-9zM577 254h9v3h-9zM643 254h9v3h-9zM727 254h10v3h-10zM812 254h10v3h-10zM831 254h10v3h-10zM369 257h9v3h-9zM454 257h9v3h-9zM690 257h9v3h-9zM709 257h9v3h-9zM756 257h9v3h-9zM199 260h10v4h-10zM237 260h9v4h-9zM294 260h9v4h-9zM614 260h10v4h-10zM727 260h10v4h-10zM765 260h10v4h-10zM246 264h19v4h-19zM482 264h10v4h-10zM671 264h9v4h-9zM727 264h10v4h-10zM784 264h9v4h-9zM133 268h10v5h-10zM435 268h9v5h-9zM501 268h19v5h-19zM558 268h9v5h-9zM614 268h10v5h-10zM209 273h9v6h-9zM275 273h9v6h-9zM426 273h9v6h-9zM614 273h10v6h-10zM671 273h9v6h-9zM727 273h10v6h-10zM812 273h19v6h-19zM841 273h7v6h-7zM143 279h9v8h-9zM397 279h10v8h-10zM822 279h9v8h-9zM624 312h9v8h-9zM727 312h10v8h-10zM803 312h9v8h-9zM162 287h9v10h-9zM312 287h10v10h-10zM473 287h9v10h-9zM577 287h9v10h-9zM652 287h9v10h-9zM737 287h9v10h-9zM180 297h10v15h-10zM812 297h10v15h-10z"/><path fill="#0010ff" d="M510 88h10v3h-10zM756 88h9v3h-9zM294 95h9v3h-9zM322 95h9v3h-9zM378 95h19v3h-19zM567 95h10v3h-10zM624 95h9v3h-9zM709 95h9v3h-9zM727 95h10v3h-10zM199 102h19v3h-19zM246 102h10v3h-10zM284 102h10v3h-10zM303 102h9v3h-9zM341 102h9v3h-9zM378 102h10v3h-10zM397 102h10v3h-10zM529 102h10v3h-10zM548 102h10v3h-10zM671 102h9v3h-9zM709 102h9v3h-9zM822 102h19v3h-19zM143 107h9v3h-9zM171 107h9v3h-9zM190 107h19v3h-19zM218 107h10v3h-10zM284 107h10v3h-10zM322 107h9v3h-9zM341 107h9v3h-9zM360 107h18v3h-18zM397 107h10v3h-10zM426 107h9v3h-9zM492 107h9v3h-9zM510 107h10v3h-10zM586 107h9v3h-9zM605 107h9v3h-9zM671 107h9v3h-9zM699 107h10v3h-10zM746 107h10v3h-10zM812 107h10v3h-10zM133 114h10v3h-10zM171 114h9v3h-9zM209 114h9v3h-9zM237 114h9v3h-9zM303 114h9v3h-9zM341 114h19v3h-19zM369 114h9v3h-9zM397 114h19v3h-19zM435 114h9v3h-9zM463 114h10v3h-10zM482 114h10v3h-10zM501 114h9v3h-9zM539 114h38v3h-38zM595 114h19v3h-19zM624 114h9v3h-9zM643 114h9v3h-9zM727 114h10v3h-10zM812 114h10v3h-10zM133 121h10v3h-10zM190 121h19v3h-19zM218 121h10v3h-10zM246 121h10v3h-10zM284 121h10v3h-10zM322 121h9v3h-9zM397 121h10v3h-10zM435 121h9v3h-9zM463 121h10v3h-10zM501 121h9v3h-9zM520 121h19v3h-19zM558 121h19v3h-19zM624 121h19v3h-19zM671 121h19v3h-19zM699 121h28v3h-28zM756 121h9v3h-9zM803 121h9v3h-9zM822 121h9v3h-9zM841 121h7v3h-7zM228 128h28v3h-28zM303 128h9v3h-9zM341 128h9v3h-9zM360 128h9v3h-9zM378 128h10v3h-10zM397 128h10v3h-10zM435 128h9v3h-9zM539 128h19v3h-19zM624 128h9v3h-9zM652 128h9v3h-9zM718 128h9v3h-9zM737 128h9v3h-9zM793 128h29v3h-29zM143 135h9v3h-9zM162 135h9v3h-9zM237 135h9v3h-9zM294 135h9v3h-9zM350 135h10v3h-10zM397 135h10v3h-10zM586 135h9v3h-9zM633 135h10v3h-10zM661 135h10v3h-10zM690 135h9v3h-9zM746 135h19v3h-19zM803 135h19v3h-19zM152 142h19v3h-19zM228 142h9v3h-9zM265 142h10v3h-10zM350 142h10v3h-10zM482 142h19v3h-19zM558 142h9v3h-9zM643 142h18v3h-18zM690 142h19v3h-19zM718 142h9v3h-9zM765 142h10v3h-10zM812 142h10v3h-10zM162 149h9v3h-9zM237 149h9v3h-9zM360 149h9v3h-9zM388 149h19v3h-19zM416 149h10v3h-10zM473 149h9v3h-9zM548 149h10v3h-10zM577 149h9v3h-9zM605 149h9v3h-9zM661 149h10v3h-10zM775 149h9v3h-9zM803 149h19v3h-19zM831 149h17v3h-17zM171 154h9v3h-9zM388 154h19v3h-19zM548 154h10v3h-10zM605 154h9v3h-9zM643 154h9v3h-9zM699 154h10v3h-10zM775 154h9v3h-9zM812 154h10v3h-10zM162 161h9v3h-9zM180 161h10v3h-10zM237 161h9v3h-9zM265 161h19v3h-19zM369 161h9v3h-9zM416 161h10v3h-10zM492 161h9v3h-9zM529 161h10v3h-10zM605 161h9v3h-9zM727 161h19v3h-19zM775 161h9v3h-9zM793 161h10v3h-10zM831 161h10v3h-10zM133 168h10v3h-10zM171 168h9v3h-9zM190 168h9v3h-9zM275 168h19v3h-19zM341 168h9v3h-9zM397 168h10v3h-10zM529 168h10v3h-10zM652 168h9v3h-9zM727 168h10v3h-10zM803 168h9v3h-9zM831 168h10v3h-10zM152 175h10v3h-10zM199 175h10v3h-10zM228 175h9v3h-9zM265 175h10v3h-10zM416 175h19v3h-19zM501 175h9v3h-9zM529 175h10v3h-10zM577 175h9v3h-9zM605 175h9v3h-9zM841 175h7v3h-7zM133 182h10v3h-10zM162 182h9v3h-9zM228 182h9v3h-9zM275 182h9v3h-9zM341 182h9v3h-9zM378 182h10v3h-10zM426 182h18v3h-18zM463 182h10v3h-10zM501 182h9v3h-9zM529 182h29v3h-29zM567 182h28v3h-28zM605 182h9v3h-9zM661 182h10v3h-10zM718 182h9v3h-9zM162 189h9v3h-9zM190 189h9v3h-9zM218 189h28v3h-28zM256 189h9v3h-9zM294 189h9v3h-9zM312 189h19v3h-19zM341 189h9v3h-9zM388 189h9v3h-9zM407 189h9v3h-9zM435 189h9v3h-9zM482 189h10v3h-10zM501 189h9v3h-9zM605 189h19v3h-19zM661 189h48v3h-48zM737 189h9v3h-9zM756 189h9v3h-9zM784 189h9v3h-9zM841 189h7v3h-7zM133 196h10v3h-10zM162 196h9v3h-9zM228 196h9v3h-9zM246 196h10v3h-10zM275 196h9v3h-9zM312 196h10v3h-10zM369 196h9v3h-9zM397 196h10v3h-10zM416 196h10v3h-10zM520 196h9v3h-9zM548 196h10v3h-10zM586 196h28v3h-28zM624 196h19v3h-19zM699 196h10v3h-10zM152 203h10v3h-10zM199 203h10v3h-10zM303 203h9v3h-9zM331 203h10v3h-10zM360 203h9v3h-9zM435 203h9v3h-9zM520 203h9v3h-9zM539 203h28v3h-28zM643 203h9v3h-9zM699 203h10v3h-10zM737 203h19v3h-19zM180 208h19v3h-19zM246 208h10v3h-10zM265 208h10v3h-10zM294 208h9v3h-9zM369 208h9v3h-9zM407 208h9v3h-9zM426 208h18v3h-18zM492 208h9v3h-9zM529 208h10v3h-10zM558 208h9v3h-9zM586 208h19v3h-19zM671 208h9v3h-9zM718 208h9v3h-9zM803 208h9v3h-9zM162 215h18v3h-18zM199 215h10v3h-10zM265 215h19v3h-19zM322 215h9v3h-9zM350 215h10v3h-10zM388 215h9v3h-9zM426 215h9v3h-9zM444 215h10v3h-10zM473 215h9v3h-9zM539 215h9v3h-9zM671 215h9v3h-9zM690 215h28v3h-28zM775 215h9v3h-9zM793 215h29v3h-29zM162 222h9v3h-9zM199 222h10v3h-10zM228 222h9v3h-9zM265 222h19v3h-19zM303 222h9v3h-9zM331 222h19v3h-19zM369 222h9v3h-9zM407 222h9v3h-9zM435 222h9v3h-9zM473 222h9v3h-9zM548 222h19v3h-19zM595 222h10v3h-10zM652 222h9v3h-9zM822 222h9v3h-9zM152 229h10v3h-10zM180 229h10v3h-10zM199 229h10v3h-10zM218 229h19v3h-19zM256 229h9v3h-9zM284 229h10v3h-10zM303 229h9v3h-9zM322 229h19v3h-19zM426 229h9v3h-9zM444 229h10v3h-10zM510 229h19v3h-19zM548 229h19v3h-19zM595 229h10v3h-10zM633 229h10v3h-10zM699 229h10v3h-10zM765 229h10v3h-10zM822 229h9v3h-9zM180 236h29v3h-29zM237 236h9v3h-9zM284 236h38v3h-38zM331 236h19v3h-19zM369 236h19v3h-19zM426 236h18v3h-18zM454 236h28v3h-28zM501 236h9v3h-9zM633 236h10v3h-10zM661 236h38v3h-38zM737 236h9v3h-9zM765 236h10v3h-10zM812 236h10v3h-10zM831 236h10v3h-10zM143 243h19v3h-19zM180 243h19v3h-19zM209 243h9v3h-9zM256 243h9v3h-9zM388 243h9v3h-9zM416 243h10v3h-10zM463 243h10v3h-10zM482 243h10v3h-10zM529 243h10v3h-10zM605 243h9v3h-9zM661 243h29v3h-29zM709 243h9v3h-9zM737 243h19v3h-19zM793 243h19v3h-19zM831 243h10v3h-10zM133 248h10v3h-10zM180 248h10v3h-10zM209 248h9v3h-9zM237 248h9v3h-9zM256 248h9v3h-9zM360 248h9v3h-9zM378 248h19v3h-19zM454 248h9v3h-9zM529 248h10v3h-10zM595 248h29v3h-29zM643 248h18v3h-18zM671 248h9v3h-9zM699 248h10v3h-10zM727 248h10v3h-10zM822 248h9v3h-9zM133 251h10v3h-10zM162 251h9v3h-9zM190 251h9v3h-9zM284 251h10v3h-10zM303 251h9v3h-9zM331 251h10v3h-10zM444 251h10v3h-10zM463 251h10v3h-10zM482 251h10v3h-10zM577 251h9v3h-9zM595 251h10v3h-10zM737 251h9v3h-9zM180 254h10v3h-10zM256 254h9v3h-9zM322 254h19v3h-19zM360 254h9v3h-9zM407 254h9v3h-9zM426 254h28v3h-28zM482 254h10v3h-10zM520 254h9v3h-9zM586 254h9v3h-9zM671 254h19v3h-19zM746 254h10v3h-10zM793 254h19v3h-19zM162 257h9v3h-9zM199 257h10v3h-10zM218 257h10v3h-10zM256 257h9v3h-9zM275 257h19v3h-19zM303 257h9v3h-9zM378 257h19v3h-19zM407 257h9v3h-9zM463 257h10v3h-10zM510 257h10v3h-10zM529 257h10v3h-10zM548 257h19v3h-19zM605 257h9v3h-9zM652 257h19v3h-19zM822 257h9v3h-9zM841 257h7v3h-7zM180 91h19v2h-19zM294 91h9v2h-9zM143 93h9v2h-9zM237 93h9v2h-9zM256 93h19v2h-19zM510 93h10v2h-10zM671 93h9v2h-9zM237 98h9v2h-9zM256 98h9v2h-9zM369 98h9v2h-9zM614 98h10v2h-10zM718 98h9v2h-9zM803 98h9v2h-9zM237 100h9v2h-9zM341 100h9v2h-9zM426 100h9v2h-9zM444 100h19v2h-19zM567 100h10v2h-10zM699 100h10v2h-10zM803 100h19v2h-19zM228 105h9v2h-9zM294 105h9v2h-9zM388 105h19v2h-19zM426 105h9v2h-9zM444 105h10v2h-10zM463 105h19v2h-19zM577 105h18v2h-18zM652 105h9v2h-9zM671 105h9v2h-9zM756 105h9v2h-9zM775 105h9v2h-9zM822 105h9v2h-9zM152 110h10v2h-10zM275 110h19v2h-19zM388 110h9v2h-9zM407 110h9v2h-9zM473 110h9v2h-9zM501 110h9v2h-9zM520 110h9v2h-9zM577 110h18v2h-18zM643 110h18v2h-18zM718 110h9v2h-9zM737 110h9v2h-9zM765 110h10v2h-10zM803 110h19v2h-19zM133 112h10v2h-10zM152 112h10v2h-10zM171 112h28v2h-28zM246 112h10v2h-10zM265 112h10v2h-10zM284 112h10v2h-10zM331 112h10v2h-10zM350 112h10v2h-10zM378 112h10v2h-10zM435 112h9v2h-9zM520 112h9v2h-9zM539 112h28v2h-28zM586 112h9v2h-9zM624 112h28v2h-28zM680 112h19v2h-19zM793 112h10v2h-10zM180 117h10v2h-10zM265 117h10v2h-10zM294 117h9v2h-9zM360 117h28v2h-28zM416 117h28v2h-28zM473 117h9v2h-9zM501 117h9v2h-9zM529 117h19v2h-19zM567 117h19v2h-19zM595 117h10v2h-10zM614 117h10v2h-10zM633 117h10v2h-10zM661 117h10v2h-10zM690 117h9v2h-9zM709 117h9v2h-9zM746 117h10v2h-10zM803 117h9v2h-9zM143 119h9v2h-9zM180 119h10v2h-10zM228 119h9v2h-9zM275 119h9v2h-9zM360 119h9v2h-9zM378 119h10v2h-10zM397 119h29v2h-29zM463 119h19v2h-19zM510 119h10v2h-10zM567 119h10v2h-10zM586 119h19v2h-19zM614 119h10v2h-10zM633 119h10v2h-10zM652 119h9v2h-9zM746 119h19v2h-19zM793 119h10v2h-10zM812 119h10v2h-10zM831 119h10v2h-10zM209 124h9v2h-9zM246 124h10v2h-10zM265 124h19v2h-19zM369 124h9v2h-9zM463 124h10v2h-10zM501 124h9v2h-9zM529 124h19v2h-19zM558 124h9v2h-9zM614 124h10v2h-10zM643 124h9v2h-9zM661 124h10v2h-10zM699 124h19v2h-19zM775 124h9v2h-9zM803 124h9v2h-9zM190 126h9v2h-9zM228 126h28v2h-28zM350 126h19v2h-19zM501 126h9v2h-9zM548 126h10v2h-10zM624 126h9v2h-9zM652 126h19v2h-19zM680 126h10v2h-10zM737 126h9v2h-9zM756 126h9v2h-9zM812 126h10v2h-10zM133 131h10v2h-10zM171 131h9v2h-9zM228 131h9v2h-9zM246 131h10v2h-10zM577 131h18v2h-18zM605 131h19v2h-19zM680 131h29v2h-29zM718 131h9v2h-9zM737 131h9v2h-9zM803 131h9v2h-9zM831 131h10v2h-10zM162 133h28v2h-28zM209 133h9v2h-9zM303 133h9v2h-9zM360 133h9v2h-9zM397 133h10v2h-10zM435 133h57v2h-57zM529 133h10v2h-10zM577 133h18v2h-18zM624 133h9v2h-9zM643 133h9v2h-9zM671 133h9v2h-9zM775 133h9v2h-9zM822 133h26v2h-26zM133 138h19v2h-19zM294 138h18v2h-18zM369 138h28v2h-28zM482 138h10v2h-10zM501 138h9v2h-9zM558 138h9v2h-9zM586 138h9v2h-9zM643 138h18v2h-18zM680 138h10v2h-10zM699 138h10v2h-10zM727 138h19v2h-19zM831 138h10v2h-10zM152 140h10v2h-10zM171 140h28v2h-28zM209 140h9v2h-9zM228 140h9v2h-9zM294 140h18v2h-18zM322 140h9v2h-9zM341 140h9v2h-9zM360 140h9v2h-9zM426 140h18v2h-18zM463 140h19v2h-19zM539 140h9v2h-9zM671 140h9v2h-9zM690 140h19v2h-19zM718 140h9v2h-9zM737 140h9v2h-9zM841 140h7v2h-7zM152 145h10v2h-10zM209 145h9v2h-9zM228 145h18v2h-18zM350 145h10v2h-10zM378 145h10v2h-10zM416 145h19v2h-19zM473 145h9v2h-9zM643 145h18v2h-18zM699 145h10v2h-10zM718 145h19v2h-19zM803 145h19v2h-19zM841 145h7v2h-7zM162 147h9v2h-9zM209 147h9v2h-9zM228 147h9v2h-9zM275 147h19v2h-19zM312 147h19v2h-19zM360 147h9v2h-9zM378 147h29v2h-29zM416 147h10v2h-10zM492 147h9v2h-9zM510 147h10v2h-10zM529 147h19v2h-19zM567 147h10v2h-10zM643 147h9v2h-9zM690 147h19v2h-19zM793 147h10v2h-10zM133 152h10v2h-10zM190 152h9v2h-9zM246 152h10v2h-10zM265 152h10v2h-10zM284 152h10v2h-10zM303 152h9v2h-9zM322 152h9v2h-9zM416 152h28v2h-28zM463 152h10v2h-10zM492 152h9v2h-9zM529 152h10v2h-10zM614 152h10v2h-10zM643 152h9v2h-9zM718 152h9v2h-9zM737 152h9v2h-9zM152 157h10v2h-10zM190 157h19v2h-19zM237 157h9v2h-9zM397 157h10v2h-10zM435 157h9v2h-9zM454 157h9v2h-9zM492 157h9v2h-9zM539 157h19v2h-19zM567 157h19v2h-19zM727 157h19v2h-19zM765 157h10v2h-10zM803 157h9v2h-9zM831 157h10v2h-10zM228 159h9v2h-9zM246 159h10v2h-10zM265 159h19v2h-19zM407 159h9v2h-9zM435 159h9v2h-9zM454 159h9v2h-9zM501 159h9v2h-9zM548 159h10v2h-10zM577 159h9v2h-9zM652 159h9v2h-9zM699 159h10v2h-10zM803 159h9v2h-9zM190 164h9v2h-9zM209 164h9v2h-9zM237 164h19v2h-19zM275 164h9v2h-9zM303 164h19v2h-19zM341 164h9v2h-9zM360 164h9v2h-9zM454 164h9v2h-9zM501 164h19v2h-19zM539 164h9v2h-9zM567 164h10v2h-10zM614 164h19v2h-19zM643 164h9v2h-9zM699 164h10v2h-10zM718 164h9v2h-9zM737 164h9v2h-9zM152 166h10v2h-10zM199 166h19v2h-19zM275 166h9v2h-9zM303 166h9v2h-9zM341 166h19v2h-19zM510 166h10v2h-10zM577 166h9v2h-9zM614 166h10v2h-10zM661 166h10v2h-10zM718 166h19v2h-19zM803 166h19v2h-19zM831 166h10v2h-10zM162 171h9v2h-9zM199 171h19v2h-19zM228 171h9v2h-9zM388 171h9v2h-9zM454 171h19v2h-19zM492 171h9v2h-9zM539 171h9v2h-9zM567 171h19v2h-19zM727 171h10v2h-10zM793 171h10v2h-10zM831 171h10v2h-10zM133 173h10v2h-10zM171 173h9v2h-9zM209 173h9v2h-9zM228 173h9v2h-9zM388 173h9v2h-9zM426 173h9v2h-9zM548 173h10v2h-10zM614 173h10v2h-10zM793 173h10v2h-10zM831 173h10v2h-10zM152 178h10v2h-10zM265 178h19v2h-19zM303 178h9v2h-9zM378 178h10v2h-10zM501 178h9v2h-9zM652 178h9v2h-9zM718 178h9v2h-9zM841 178h7v2h-7zM152 180h10v2h-10zM199 180h10v2h-10zM228 180h9v2h-9zM265 180h19v2h-19zM303 180h19v2h-19zM341 180h9v2h-9zM426 180h9v2h-9zM501 180h9v2h-9zM539 180h9v2h-9zM690 180h9v2h-9zM718 180h9v2h-9zM793 180h10v2h-10zM171 185h9v2h-9zM209 185h9v2h-9zM284 185h10v2h-10zM322 185h9v2h-9zM378 185h29v2h-29zM426 185h9v2h-9zM473 185h9v2h-9zM539 185h9v2h-9zM577 185h9v2h-9zM652 185h9v2h-9zM690 185h9v2h-9zM775 185h9v2h-9zM162 187h9v2h-9zM322 187h9v2h-9zM341 187h19v2h-19zM388 187h9v2h-9zM426 187h9v2h-9zM463 187h10v2h-10zM510 187h10v2h-10zM529 187h10v2h-10zM548 187h10v2h-10zM586 187h9v2h-9zM699 187h10v2h-10zM803 187h9v2h-9zM143 192h9v2h-9zM190 192h9v2h-9zM228 192h9v2h-9zM246 192h29v2h-29zM378 192h10v2h-10zM520 192h19v2h-19zM558 192h9v2h-9zM586 192h9v2h-9zM643 192h9v2h-9zM671 192h9v2h-9zM690 192h37v2h-37zM765 192h19v2h-19zM793 192h10v2h-10zM180 194h19v2h-19zM209 194h9v2h-9zM294 194h18v2h-18zM331 194h10v2h-10zM416 194h10v2h-10zM444 194h10v2h-10zM463 194h10v2h-10zM520 194h9v2h-9zM586 194h9v2h-9zM671 194h19v2h-19zM699 194h19v2h-19zM152 199h10v2h-10zM228 199h18v2h-18zM256 199h9v2h-9zM275 199h9v2h-9zM454 199h9v2h-9zM492 199h9v2h-9zM633 199h10v2h-10zM652 199h9v2h-9zM671 199h9v2h-9zM746 199h10v2h-10zM793 199h10v2h-10zM831 199h10v2h-10zM199 201h29v2h-29zM237 201h9v2h-9zM284 201h10v2h-10zM331 201h10v2h-10zM454 201h9v2h-9zM473 201h37v2h-37zM520 201h9v2h-9zM605 201h19v2h-19zM633 201h19v2h-19zM661 201h10v2h-10zM709 201h9v2h-9zM727 201h10v2h-10zM784 201h19v2h-19zM841 201h7v2h-7zM133 206h19v2h-19zM190 206h9v2h-9zM237 206h9v2h-9zM341 206h9v2h-9zM378 206h10v2h-10zM397 206h19v2h-19zM454 206h9v2h-9zM510 206h10v2h-10zM529 206h10v2h-10zM548 206h10v2h-10zM567 206h10v2h-10zM643 206h18v2h-18zM671 206h9v2h-9zM690 206h9v2h-9zM727 206h48v2h-48zM812 206h10v2h-10zM841 206h7v2h-7zM246 211h19v2h-19zM294 211h9v2h-9zM312 211h19v2h-19zM444 211h10v2h-10zM473 211h19v2h-19zM529 211h10v2h-10zM586 211h9v2h-9zM680 211h10v2h-10zM784 211h9v2h-9zM803 211h9v2h-9zM180 213h10v2h-10zM303 213h9v2h-9zM378 213h10v2h-10zM407 213h9v2h-9zM426 213h9v2h-9zM520 213h9v2h-9zM709 213h9v2h-9zM756 213h9v2h-9zM793 213h10v2h-10zM812 213h10v2h-10zM162 218h18v2h-18zM237 218h9v2h-9zM265 218h19v2h-19zM303 218h28v2h-28zM360 218h9v2h-9zM378 218h10v2h-10zM426 218h18v2h-18zM463 218h10v2h-10zM548 218h10v2h-10zM567 218h10v2h-10zM624 218h28v2h-28zM661 218h10v2h-10zM690 218h19v2h-19zM793 218h10v2h-10zM831 218h10v2h-10zM133 220h10v2h-10zM152 220h10v2h-10zM171 220h9v2h-9zM218 220h10v2h-10zM256 220h28v2h-28zM312 220h10v2h-10zM360 220h9v2h-9zM444 220h10v2h-10zM463 220h10v2h-10zM501 220h9v2h-9zM548 220h19v2h-19zM577 220h9v2h-9zM595 220h10v2h-10zM690 220h9v2h-9zM775 220h9v2h-9zM812 220h10v2h-10zM133 225h10v2h-10zM237 225h9v2h-9zM256 225h9v2h-9zM284 225h28v2h-28zM350 225h10v2h-10zM435 225h9v2h-9zM501 225h9v2h-9zM548 225h10v2h-10zM586 225h28v2h-28zM652 225h9v2h-9zM718 225h9v2h-9zM784 225h19v2h-19zM152 227h10v2h-10zM265 227h10v2h-10zM331 227h19v2h-19zM360 227h9v2h-9zM482 227h19v2h-19zM520 227h9v2h-9zM548 227h10v2h-10zM567 227h10v2h-10zM605 227h9v2h-9zM671 227h19v2h-19zM727 227h10v2h-10zM831 227h10v2h-10zM162 232h9v2h-9zM180 232h10v2h-10zM312 232h19v2h-19zM341 232h9v2h-9zM388 232h9v2h-9zM407 232h9v2h-9zM454 232h9v2h-9zM492 232h9v2h-9zM510 232h19v2h-19zM586 232h38v2h-38zM709 232h18v2h-18zM793 232h10v2h-10zM831 232h10v2h-10zM190 234h9v2h-9zM209 234h9v2h-9zM265 234h10v2h-10zM350 234h28v2h-28zM397 234h10v2h-10zM426 234h9v2h-9zM454 234h9v2h-9zM501 234h9v2h-9zM520 234h9v2h-9zM577 234h9v2h-9zM661 234h19v2h-19zM746 234h10v2h-10zM812 234h10v2h-10zM831 234h10v2h-10zM256 239h9v2h-9zM275 239h19v2h-19zM331 239h10v2h-10zM350 239h10v2h-10zM407 239h9v2h-9zM482 239h10v2h-10zM501 239h9v2h-9zM520 239h9v2h-9zM605 239h9v2h-9zM633 239h10v2h-10zM671 239h9v2h-9zM709 239h9v2h-9zM746 239h10v2h-10zM765 239h10v2h-10zM784 239h19v2h-19zM812 239h29v2h-29zM152 241h19v2h-19zM180 241h10v2h-10zM246 241h10v2h-10zM284 241h10v2h-10zM303 241h19v2h-19zM341 241h9v2h-9zM360 241h18v2h-18zM388 241h9v2h-9zM407 241h9v2h-9zM426 241h9v2h-9zM454 241h9v2h-9zM482 241h10v2h-10zM510 241h29v2h-29zM586 241h9v2h-9zM614 241h10v2h-10zM652 241h9v2h-9zM680 241h10v2h-10zM699 241h10v2h-10zM718 241h9v2h-9zM793 241h10v2h-10zM152 246h28v2h-28zM228 246h18v2h-18zM265 246h10v2h-10zM312 246h10v2h-10zM341 246h19v2h-19zM407 246h9v2h-9zM454 246h9v2h-9zM473 246h9v2h-9zM510 246h10v2h-10zM548 246h29v2h-29zM671 246h28v2h-28zM709 246h28v2h-28zM784 246h9v2h-9zM812 246h19v2h-19zM841 246h7v2h-7zM152 260h10v4h-10zM209 260h28v4h-28zM256 260h9v4h-9zM275 260h9v4h-9zM350 260h38v4h-38zM426 260h9v4h-9zM454 260h9v4h-9zM473 260h19v4h-19zM539 260h38v4h-38zM595 260h10v4h-10zM624 260h19v4h-19zM690 260h9v4h-9zM709 260h9v4h-9zM746 260h10v4h-10zM812 260h10v4h-10zM143 264h9v4h-9zM171 264h9v4h-9zM199 264h10v4h-10zM228 264h9v4h-9zM331 264h10v4h-10zM369 264h9v4h-9zM548 264h10v4h-10zM567 264h28v4h-28zM661 264h10v4h-10zM709 264h9v4h-9zM775 264h9v4h-9zM143 268h9v5h-9zM209 268h9v5h-9zM237 268h9v5h-9zM284 268h10v5h-10zM322 268h9v5h-9zM369 268h9v5h-9zM463 268h19v5h-19zM548 268h10v5h-10zM567 268h10v5h-10zM624 268h9v5h-9zM671 268h9v5h-9zM690 268h19v5h-19zM746 268h10v5h-10zM765 268h19v5h-19zM812 268h10v5h-10zM143 273h9v6h-9zM199 273h10v6h-10zM294 273h9v6h-9zM388 273h19v6h-19zM501 273h9v6h-9zM539 273h19v6h-19zM624 273h9v6h-9zM652 273h19v6h-19zM765 273h10v6h-10zM199 279h10v8h-10zM237 279h9v8h-9zM388 279h9v8h-9zM501 279h19v8h-19zM548 279h10v8h-10zM624 279h9v8h-9zM671 279h9v8h-9zM746 279h10v8h-10zM765 279h10v8h-10zM228 312h9v8h-9zM265 312h19v8h-19zM303 312h9v8h-9zM322 312h9v8h-9zM407 312h19v8h-19zM473 312h9v8h-9zM586 312h9v8h-9zM605 312h9v8h-9zM680 312h10v8h-10zM709 312h18v8h-18zM737 312h9v8h-9zM793 312h10v8h-10zM143 287h9v10h-9zM237 287h9v10h-9zM397 287h10v10h-10zM426 287h9v10h-9zM586 287h9v10h-9zM633 287h10v10h-10zM765 287h10v10h-10zM162 297h18v15h-18zM256 297h9v15h-9zM275 297h19v15h-19zM322 297h9v15h-9zM360 297h9v15h-9zM463 297h10v15h-10zM614 297h10v15h-10zM690 297h9v15h-9zM727 297h10v15h-10zM775 297h9v15h-9z"/><path fill="#0020ff" d="M360 93h9v2h-9zM482 93h10v2h-10zM822 93h9v2h-9zM199 98h10v2h-10zM294 98h9v2h-9zM520 98h9v2h-9zM822 98h9v2h-9zM294 100h9v2h-9zM501 100h9v2h-9zM718 100h9v2h-9zM775 100h28v2h-28zM501 105h19v2h-19zM548 105h10v2h-10zM605 105h19v2h-19zM699 105h10v2h-10zM727 105h10v2h-10zM746 105h10v2h-10zM803 105h9v2h-9zM228 110h18v2h-18zM256 110h9v2h-9zM294 110h9v2h-9zM360 110h9v2h-9zM529 110h10v2h-10zM558 110h9v2h-9zM605 110h9v2h-9zM633 110h10v2h-10zM671 110h19v2h-19zM143 112h9v2h-9zM228 112h9v2h-9zM256 112h9v2h-9zM303 112h19v2h-19zM341 112h9v2h-9zM360 112h9v2h-9zM567 112h10v2h-10zM661 112h10v2h-10zM699 112h10v2h-10zM737 112h9v2h-9zM812 112h10v2h-10zM133 117h10v2h-10zM190 117h9v2h-9zM209 117h9v2h-9zM256 117h9v2h-9zM322 117h9v2h-9zM350 117h10v2h-10zM397 117h10v2h-10zM463 117h10v2h-10zM492 117h9v2h-9zM510 117h10v2h-10zM624 117h9v2h-9zM671 117h9v2h-9zM699 117h10v2h-10zM737 117h9v2h-9zM756 117h9v2h-9zM775 117h9v2h-9zM841 117h7v2h-7zM133 119h10v2h-10zM209 119h19v2h-19zM246 119h10v2h-10zM284 119h10v2h-10zM303 119h9v2h-9zM492 119h9v2h-9zM577 119h9v2h-9zM661 119h10v2h-10zM680 119h19v2h-19zM727 119h19v2h-19zM765 119h10v2h-10zM784 119h9v2h-9zM803 119h9v2h-9zM822 119h9v2h-9zM171 124h9v2h-9zM199 124h10v2h-10zM228 124h18v2h-18zM294 124h28v2h-28zM360 124h9v2h-9zM378 124h29v2h-29zM473 124h9v2h-9zM577 124h9v2h-9zM624 124h19v2h-19zM652 124h9v2h-9zM671 124h9v2h-9zM690 124h9v2h-9zM727 124h10v2h-10zM756 124h9v2h-9zM784 124h9v2h-9zM133 126h10v2h-10zM162 126h9v2h-9zM265 126h10v2h-10zM284 126h10v2h-10zM322 126h9v2h-9zM388 126h9v2h-9zM426 126h9v2h-9zM454 126h19v2h-19zM492 126h9v2h-9zM529 126h10v2h-10zM567 126h28v2h-28zM690 126h9v2h-9zM793 126h10v2h-10zM841 126h7v2h-7zM265 131h10v2h-10zM303 131h28v2h-28zM360 131h9v2h-9zM416 131h10v2h-10zM435 131h9v2h-9zM454 131h9v2h-9zM529 131h19v2h-19zM624 131h9v2h-9zM643 131h9v2h-9zM661 131h10v2h-10zM727 131h10v2h-10zM812 131h10v2h-10zM199 133h10v2h-10zM228 133h18v2h-18zM275 133h9v2h-9zM294 133h9v2h-9zM331 133h10v2h-10zM350 133h10v2h-10zM369 133h19v2h-19zM407 133h19v2h-19zM492 133h9v2h-9zM510 133h10v2h-10zM539 133h28v2h-28zM595 133h19v2h-19zM633 133h10v2h-10zM661 133h10v2h-10zM680 133h10v2h-10zM727 133h19v2h-19zM765 133h10v2h-10zM793 133h19v2h-19zM162 138h9v2h-9zM190 138h9v2h-9zM246 138h10v2h-10zM265 138h10v2h-10zM284 138h10v2h-10zM341 138h9v2h-9zM463 138h10v2h-10zM492 138h9v2h-9zM529 138h19v2h-19zM567 138h19v2h-19zM624 138h9v2h-9zM690 138h9v2h-9zM746 138h10v2h-10zM793 138h19v2h-19zM133 140h10v2h-10zM162 140h9v2h-9zM199 140h10v2h-10zM256 140h19v2h-19zM312 140h10v2h-10zM407 140h9v2h-9zM444 140h19v2h-19zM492 140h18v2h-18zM595 140h48v2h-48zM652 140h19v2h-19zM709 140h9v2h-9zM727 140h10v2h-10zM746 140h38v2h-38zM793 140h10v2h-10zM822 140h9v2h-9zM133 145h10v2h-10zM162 145h9v2h-9zM199 145h10v2h-10zM275 145h19v2h-19zM312 145h19v2h-19zM388 145h9v2h-9zM501 145h19v2h-19zM577 145h9v2h-9zM737 145h9v2h-9zM765 145h19v2h-19zM793 145h10v2h-10zM190 147h9v2h-9zM237 147h19v2h-19zM303 147h9v2h-9zM454 147h9v2h-9zM473 147h9v2h-9zM501 147h9v2h-9zM605 147h9v2h-9zM661 147h10v2h-10zM737 147h9v2h-9zM756 147h19v2h-19zM803 147h19v2h-19zM831 147h10v2h-10zM171 152h9v2h-9zM341 152h9v2h-9zM378 152h10v2h-10zM397 152h10v2h-10zM473 152h9v2h-9zM501 152h9v2h-9zM548 152h10v2h-10zM577 152h9v2h-9zM661 152h10v2h-10zM680 152h10v2h-10zM831 152h10v2h-10zM133 157h10v2h-10zM162 157h18v2h-18zM209 157h9v2h-9zM228 157h9v2h-9zM265 157h10v2h-10zM303 157h9v2h-9zM322 157h9v2h-9zM350 157h10v2h-10zM378 157h10v2h-10zM407 157h9v2h-9zM444 157h10v2h-10zM463 157h10v2h-10zM614 157h19v2h-19zM661 157h10v2h-10zM690 157h28v2h-28zM812 157h10v2h-10zM133 159h10v2h-10zM180 159h10v2h-10zM218 159h10v2h-10zM237 159h9v2h-9zM303 159h19v2h-19zM350 159h19v2h-19zM378 159h10v2h-10zM397 159h10v2h-10zM416 159h10v2h-10zM444 159h10v2h-10zM492 159h9v2h-9zM520 159h9v2h-9zM539 159h9v2h-9zM558 159h19v2h-19zM605 159h19v2h-19zM643 159h9v2h-9zM690 159h9v2h-9zM709 159h9v2h-9zM746 159h10v2h-10zM812 159h10v2h-10zM152 164h10v2h-10zM171 164h9v2h-9zM265 164h10v2h-10zM322 164h9v2h-9zM350 164h10v2h-10zM388 164h9v2h-9zM435 164h9v2h-9zM463 164h19v2h-19zM548 164h10v2h-10zM661 164h10v2h-10zM680 164h19v2h-19zM756 164h9v2h-9zM775 164h9v2h-9zM812 164h10v2h-10zM841 164h7v2h-7zM133 166h10v2h-10zM171 166h9v2h-9zM190 166h9v2h-9zM237 166h19v2h-19zM284 166h10v2h-10zM322 166h9v2h-9zM378 166h10v2h-10zM416 166h10v2h-10zM435 166h9v2h-9zM501 166h9v2h-9zM539 166h9v2h-9zM567 166h10v2h-10zM586 166h9v2h-9zM624 166h9v2h-9zM643 166h9v2h-9zM756 166h28v2h-28zM793 166h10v2h-10zM152 171h10v2h-10zM171 171h9v2h-9zM190 171h9v2h-9zM341 171h9v2h-9zM501 171h19v2h-19zM614 171h10v2h-10zM643 171h18v2h-18zM803 171h9v2h-9zM841 171h7v2h-7zM162 173h9v2h-9zM199 173h10v2h-10zM237 173h19v2h-19zM265 173h10v2h-10zM284 173h10v2h-10zM303 173h9v2h-9zM350 173h10v2h-10zM397 173h10v2h-10zM416 173h10v2h-10zM435 173h9v2h-9zM463 173h10v2h-10zM501 173h9v2h-9zM539 173h9v2h-9zM577 173h9v2h-9zM605 173h9v2h-9zM643 173h9v2h-9zM690 173h9v2h-9zM756 173h9v2h-9zM133 178h10v2h-10zM162 178h9v2h-9zM209 178h9v2h-9zM228 178h9v2h-9zM246 178h10v2h-10zM284 178h10v2h-10zM350 178h10v2h-10zM416 178h28v2h-28zM463 178h10v2h-10zM510 178h10v2h-10zM529 178h29v2h-29zM567 178h10v2h-10zM605 178h9v2h-9zM680 178h10v2h-10zM756 178h9v2h-9zM831 178h10v2h-10zM190 180h9v2h-9zM246 180h10v2h-10zM388 180h9v2h-9zM454 180h9v2h-9zM492 180h9v2h-9zM529 180h10v2h-10zM548 180h10v2h-10zM567 180h10v2h-10zM756 180h19v2h-19zM803 180h9v2h-9zM190 185h19v2h-19zM228 185h18v2h-18zM312 185h10v2h-10zM341 185h9v2h-9zM416 185h10v2h-10zM492 185h9v2h-9zM520 185h19v2h-19zM548 185h10v2h-10zM614 185h19v2h-19zM661 185h10v2h-10zM727 185h19v2h-19zM756 185h9v2h-9zM793 185h19v2h-19zM831 185h10v2h-10zM133 187h10v2h-10zM152 187h10v2h-10zM199 187h10v2h-10zM228 187h18v2h-18zM265 187h10v2h-10zM294 187h9v2h-9zM378 187h10v2h-10zM435 187h9v2h-9zM454 187h9v2h-9zM501 187h9v2h-9zM539 187h9v2h-9zM567 187h10v2h-10zM595 187h19v2h-19zM652 187h19v2h-19zM680 187h10v2h-10zM709 187h18v2h-18zM737 187h9v2h-9zM765 187h10v2h-10zM152 192h10v2h-10zM171 192h9v2h-9zM209 192h9v2h-9zM284 192h10v2h-10zM331 192h38v2h-38zM407 192h28v2h-28zM454 192h47v2h-47zM577 192h9v2h-9zM595 192h10v2h-10zM633 192h10v2h-10zM652 192h9v2h-9zM727 192h10v2h-10zM784 192h9v2h-9zM812 192h29v2h-29zM133 194h10v2h-10zM152 194h10v2h-10zM218 194h10v2h-10zM246 194h29v2h-29zM284 194h10v2h-10zM360 194h18v2h-18zM407 194h9v2h-9zM473 194h9v2h-9zM510 194h10v2h-10zM539 194h19v2h-19zM567 194h10v2h-10zM595 194h38v2h-38zM652 194h9v2h-9zM737 194h19v2h-19zM765 194h10v2h-10zM784 194h9v2h-9zM822 194h9v2h-9zM841 194h7v2h-7zM143 199h9v2h-9zM180 199h10v2h-10zM265 199h10v2h-10zM294 199h9v2h-9zM322 199h9v2h-9zM341 199h9v2h-9zM378 199h10v2h-10zM397 199h19v2h-19zM473 199h9v2h-9zM586 199h28v2h-28zM624 199h9v2h-9zM699 199h28v2h-28zM765 199h10v2h-10zM133 201h10v2h-10zM171 201h9v2h-9zM228 201h9v2h-9zM256 201h9v2h-9zM275 201h9v2h-9zM303 201h9v2h-9zM322 201h9v2h-9zM341 201h9v2h-9zM360 201h9v2h-9zM426 201h9v2h-9zM529 201h10v2h-10zM548 201h29v2h-29zM595 201h10v2h-10zM652 201h9v2h-9zM680 201h29v2h-29zM737 201h9v2h-9zM756 201h9v2h-9zM812 201h10v2h-10zM162 206h28v2h-28zM199 206h10v2h-10zM218 206h10v2h-10zM246 206h19v2h-19zM294 206h9v2h-9zM312 206h10v2h-10zM350 206h19v2h-19zM426 206h18v2h-18zM482 206h10v2h-10zM595 206h10v2h-10zM614 206h29v2h-29zM793 206h10v2h-10zM133 211h10v2h-10zM152 211h10v2h-10zM171 211h9v2h-9zM237 211h9v2h-9zM275 211h9v2h-9zM341 211h9v2h-9zM360 211h9v2h-9zM416 211h28v2h-28zM492 211h9v2h-9zM520 211h9v2h-9zM548 211h19v2h-19zM643 211h37v2h-37zM690 211h9v2h-9zM709 211h56v2h-56zM793 211h10v2h-10zM812 211h10v2h-10zM133 213h38v2h-38zM190 213h19v2h-19zM246 213h10v2h-10zM275 213h9v2h-9zM312 213h10v2h-10zM397 213h10v2h-10zM435 213h9v2h-9zM463 213h10v2h-10zM482 213h10v2h-10zM501 213h9v2h-9zM529 213h29v2h-29zM567 213h10v2h-10zM605 213h9v2h-9zM624 213h9v2h-9zM643 213h9v2h-9zM680 213h10v2h-10zM699 213h10v2h-10zM718 213h19v2h-19zM746 213h10v2h-10zM822 213h9v2h-9zM841 213h7v2h-7zM133 218h29v2h-29zM190 218h9v2h-9zM218 218h10v2h-10zM284 218h10v2h-10zM397 218h10v2h-10zM501 218h9v2h-9zM520 218h9v2h-9zM539 218h9v2h-9zM586 218h9v2h-9zM605 218h19v2h-19zM709 218h28v2h-28zM756 218h19v2h-19zM803 218h19v2h-19zM209 220h9v2h-9zM237 220h9v2h-9zM284 220h10v2h-10zM378 220h19v2h-19zM426 220h18v2h-18zM473 220h9v2h-9zM510 220h10v2h-10zM567 220h10v2h-10zM614 220h10v2h-10zM652 220h9v2h-9zM727 220h29v2h-29zM784 220h28v2h-28zM822 220h9v2h-9zM152 225h19v2h-19zM190 225h9v2h-9zM265 225h10v2h-10zM312 225h10v2h-10zM341 225h9v2h-9zM360 225h9v2h-9zM378 225h38v2h-38zM454 225h9v2h-9zM473 225h9v2h-9zM539 225h9v2h-9zM577 225h9v2h-9zM614 225h38v2h-38zM690 225h9v2h-9zM709 225h9v2h-9zM775 225h9v2h-9zM803 225h28v2h-28zM162 227h9v2h-9zM190 227h19v2h-19zM218 227h10v2h-10zM256 227h9v2h-9zM284 227h19v2h-19zM322 227h9v2h-9zM350 227h10v2h-10zM378 227h10v2h-10zM426 227h9v2h-9zM454 227h9v2h-9zM501 227h9v2h-9zM539 227h9v2h-9zM558 227h9v2h-9zM586 227h19v2h-19zM643 227h9v2h-9zM690 227h19v2h-19zM718 227h9v2h-9zM737 227h9v2h-9zM756 227h19v2h-19zM784 227h9v2h-9zM803 227h9v2h-9zM822 227h9v2h-9zM841 227h7v2h-7zM171 232h9v2h-9zM190 232h9v2h-9zM209 232h9v2h-9zM256 232h9v2h-9zM275 232h19v2h-19zM303 232h9v2h-9zM331 232h10v2h-10zM416 232h10v2h-10zM482 232h10v2h-10zM501 232h9v2h-9zM529 232h10v2h-10zM577 232h9v2h-9zM624 232h9v2h-9zM661 232h10v2h-10zM680 232h10v2h-10zM699 232h10v2h-10zM727 232h10v2h-10zM775 232h9v2h-9zM812 232h10v2h-10zM143 234h9v2h-9zM171 234h9v2h-9zM228 234h9v2h-9zM256 234h9v2h-9zM275 234h19v2h-19zM312 234h10v2h-10zM331 234h19v2h-19zM378 234h19v2h-19zM407 234h19v2h-19zM510 234h10v2h-10zM539 234h9v2h-9zM558 234h19v2h-19zM614 234h10v2h-10zM633 234h10v2h-10zM709 234h9v2h-9zM727 234h10v2h-10zM765 234h10v2h-10zM793 234h10v2h-10zM822 234h9v2h-9zM190 239h9v2h-9zM209 239h9v2h-9zM237 239h19v2h-19zM265 239h10v2h-10zM294 239h28v2h-28zM341 239h9v2h-9zM369 239h9v2h-9zM388 239h19v2h-19zM416 239h47v2h-47zM539 239h9v2h-9zM558 239h9v2h-9zM577 239h18v2h-18zM614 239h10v2h-10zM643 239h9v2h-9zM661 239h10v2h-10zM699 239h10v2h-10zM718 239h9v2h-9zM775 239h9v2h-9zM803 239h9v2h-9zM133 241h10v2h-10zM190 241h9v2h-9zM218 241h19v2h-19zM256 241h9v2h-9zM350 241h10v2h-10zM463 241h10v2h-10zM501 241h9v2h-9zM558 241h9v2h-9zM595 241h10v2h-10zM643 241h9v2h-9zM671 241h9v2h-9zM727 241h38v2h-38zM784 241h9v2h-9zM803 241h9v2h-9zM822 241h26v2h-26zM209 246h9v2h-9zM246 246h10v2h-10zM275 246h9v2h-9zM294 246h9v2h-9zM331 246h10v2h-10zM416 246h28v2h-28zM482 246h19v2h-19zM577 246h9v2h-9zM614 246h38v2h-38zM737 246h9v2h-9zM756 246h19v2h-19zM133 95h10v3h-10zM444 95h10v3h-10zM180 102h10v3h-10zM444 102h10v3h-10zM539 102h9v3h-9zM633 102h10v3h-10zM727 102h10v3h-10zM152 107h10v3h-10zM209 107h9v3h-9zM312 107h10v3h-10zM444 107h10v3h-10zM520 107h9v3h-9zM595 107h10v3h-10zM614 107h10v3h-10zM643 107h9v3h-9zM727 107h19v3h-19zM803 107h9v3h-9zM152 114h10v3h-10zM199 114h10v3h-10zM265 114h29v3h-29zM331 114h10v3h-10zM426 114h9v3h-9zM454 114h9v3h-9zM510 114h10v3h-10zM529 114h10v3h-10zM577 114h18v3h-18zM633 114h10v3h-10zM690 114h9v3h-9zM718 114h9v3h-9zM737 114h9v3h-9zM756 114h9v3h-9zM775 114h9v3h-9zM841 114h7v3h-7zM152 121h19v3h-19zM265 121h19v3h-19zM294 121h9v3h-9zM312 121h10v3h-10zM350 121h10v3h-10zM369 121h9v3h-9zM407 121h19v3h-19zM492 121h9v3h-9zM510 121h10v3h-10zM539 121h19v3h-19zM614 121h10v3h-10zM643 121h18v3h-18zM727 121h29v3h-29zM765 121h28v3h-28zM152 128h28v3h-28zM190 128h28v3h-28zM284 128h10v3h-10zM312 128h10v3h-10zM350 128h10v3h-10zM416 128h10v3h-10zM454 128h19v3h-19zM501 128h19v3h-19zM567 128h19v3h-19zM661 128h10v3h-10zM680 128h10v3h-10zM699 128h10v3h-10zM727 128h10v3h-10zM775 128h9v3h-9zM133 135h10v3h-10zM180 135h29v3h-29zM218 135h19v3h-19zM246 135h19v3h-19zM275 135h19v3h-19zM312 135h19v3h-19zM378 135h10v3h-10zM407 135h9v3h-9zM444 135h19v3h-19zM510 135h10v3h-10zM539 135h9v3h-9zM595 135h19v3h-19zM718 135h9v3h-9zM737 135h9v3h-9zM784 135h9v3h-9zM822 135h9v3h-9zM841 135h7v3h-7zM180 142h10v3h-10zM246 142h10v3h-10zM294 142h9v3h-9zM322 142h9v3h-9zM360 142h9v3h-9zM397 142h10v3h-10zM463 142h10v3h-10zM529 142h10v3h-10zM548 142h10v3h-10zM614 142h10v3h-10zM709 142h9v3h-9zM737 142h9v3h-9zM793 142h19v3h-19zM822 142h19v3h-19zM209 149h9v3h-9zM275 149h9v3h-9zM303 149h9v3h-9zM322 149h9v3h-9zM350 149h10v3h-10zM378 149h10v3h-10zM463 149h10v3h-10zM567 149h10v3h-10zM586 149h9v3h-9zM680 149h10v3h-10zM699 149h10v3h-10zM793 149h10v3h-10zM162 154h9v3h-9zM190 154h19v3h-19zM237 154h19v3h-19zM275 154h9v3h-9zM322 154h9v3h-9zM350 154h10v3h-10zM454 154h19v3h-19zM492 154h9v3h-9zM510 154h10v3h-10zM577 154h18v3h-18zM614 154h19v3h-19zM652 154h9v3h-9zM690 154h9v3h-9zM718 154h9v3h-9zM765 154h10v3h-10zM793 154h10v3h-10zM133 161h10v3h-10zM152 161h10v3h-10zM171 161h9v3h-9zM199 161h10v3h-10zM218 161h19v3h-19zM388 161h9v3h-9zM426 161h9v3h-9zM463 161h10v3h-10zM510 161h10v3h-10zM548 161h10v3h-10zM577 161h9v3h-9zM624 161h9v3h-9zM643 161h9v3h-9zM690 161h9v3h-9zM746 161h29v3h-29zM822 161h9v3h-9zM152 168h10v3h-10zM246 168h10v3h-10zM265 168h10v3h-10zM303 168h9v3h-9zM350 168h10v3h-10zM416 168h10v3h-10zM454 168h19v3h-19zM510 168h10v3h-10zM548 168h10v3h-10zM567 168h10v3h-10zM605 168h19v3h-19zM756 168h9v3h-9zM793 168h10v3h-10zM162 175h9v3h-9zM284 175h10v3h-10zM303 175h19v3h-19zM397 175h10v3h-10zM435 175h9v3h-9zM454 175h9v3h-9zM727 175h10v3h-10zM793 175h10v3h-10zM171 182h9v3h-9zM190 182h19v3h-19zM237 182h9v3h-9zM350 182h19v3h-19zM388 182h9v3h-9zM454 182h9v3h-9zM473 182h9v3h-9zM492 182h9v3h-9zM680 182h29v3h-29zM756 182h19v3h-19zM812 182h10v3h-10zM831 182h17v3h-17zM143 189h19v3h-19zM171 189h9v3h-9zM209 189h9v3h-9zM331 189h10v3h-10zM360 189h9v3h-9zM378 189h10v3h-10zM548 189h57v3h-57zM633 189h19v3h-19zM718 189h19v3h-19zM775 189h9v3h-9zM822 189h9v3h-9zM143 196h19v3h-19zM171 196h9v3h-9zM190 196h9v3h-9zM218 196h10v3h-10zM237 196h9v3h-9zM284 196h10v3h-10zM322 196h38v3h-38zM407 196h9v3h-9zM435 196h28v3h-28zM482 196h10v3h-10zM539 196h9v3h-9zM567 196h19v3h-19zM614 196h10v3h-10zM690 196h9v3h-9zM718 196h19v3h-19zM746 196h10v3h-10zM765 196h10v3h-10zM784 196h9v3h-9zM803 196h9v3h-9zM831 196h17v3h-17zM143 203h9v3h-9zM171 203h19v3h-19zM275 203h19v3h-19zM322 203h9v3h-9zM341 203h9v3h-9zM378 203h29v3h-29zM454 203h9v3h-9zM501 203h9v3h-9zM567 203h19v3h-19zM595 203h19v3h-19zM652 203h9v3h-9zM680 203h19v3h-19zM756 203h9v3h-9zM775 203h9v3h-9zM822 203h9v3h-9zM841 203h7v3h-7zM171 208h9v3h-9zM209 208h37v3h-37zM256 208h9v3h-9zM303 208h28v3h-28zM378 208h10v3h-10zM463 208h29v3h-29zM539 208h19v3h-19zM614 208h10v3h-10zM699 208h19v3h-19zM727 208h10v3h-10zM746 208h10v3h-10zM765 208h28v3h-28zM812 208h19v3h-19zM133 215h10v3h-10zM152 215h10v3h-10zM228 215h18v3h-18zM312 215h10v3h-10zM341 215h9v3h-9zM360 215h9v3h-9zM416 215h10v3h-10zM435 215h9v3h-9zM454 215h19v3h-19zM482 215h19v3h-19zM510 215h10v3h-10zM567 215h19v3h-19zM595 215h10v3h-10zM624 215h19v3h-19zM652 215h19v3h-19zM727 215h10v3h-10zM746 215h10v3h-10zM784 215h9v3h-9zM822 215h26v3h-26zM152 222h10v3h-10zM171 222h9v3h-9zM190 222h9v3h-9zM246 222h10v3h-10zM312 222h10v3h-10zM416 222h19v3h-19zM492 222h18v3h-18zM567 222h28v3h-28zM633 222h19v3h-19zM727 222h10v3h-10zM746 222h57v3h-57zM143 229h9v3h-9zM209 229h9v3h-9zM341 229h19v3h-19zM369 229h19v3h-19zM529 229h10v3h-10zM567 229h19v3h-19zM614 229h10v3h-10zM643 229h18v3h-18zM680 229h10v3h-10zM737 229h28v3h-28zM775 229h18v3h-18zM803 229h19v3h-19zM841 229h7v3h-7zM256 236h28v3h-28zM322 236h9v3h-9zM388 236h19v3h-19zM416 236h10v3h-10zM510 236h10v3h-10zM586 236h9v3h-9zM652 236h9v3h-9zM699 236h10v3h-10zM718 236h9v3h-9zM746 236h19v3h-19zM775 236h9v3h-9zM793 236h10v3h-10zM822 236h9v3h-9zM841 236h7v3h-7zM162 243h18v3h-18zM228 243h9v3h-9zM246 243h10v3h-10zM275 243h9v3h-9zM294 243h18v3h-18zM360 243h9v3h-9zM454 243h9v3h-9zM473 243h9v3h-9zM510 243h10v3h-10zM586 243h9v3h-9zM652 243h9v3h-9zM699 243h10v3h-10zM718 243h9v3h-9zM812 243h10v3h-10zM152 248h10v3h-10zM246 248h10v3h-10zM275 248h9v3h-9zM322 248h9v3h-9zM341 248h9v3h-9zM369 248h9v3h-9zM416 248h10v3h-10zM435 248h9v3h-9zM482 248h10v3h-10zM501 248h19v3h-19zM567 248h10v3h-10zM586 248h9v3h-9zM680 248h19v3h-19zM709 248h9v3h-9zM737 248h9v3h-9zM756 248h19v3h-19zM812 248h10v3h-10zM209 251h9v3h-9zM228 251h9v3h-9zM256 251h28v3h-28zM350 251h10v3h-10zM397 251h19v3h-19zM454 251h9v3h-9zM510 251h10v3h-10zM539 251h19v3h-19zM605 251h19v3h-19zM643 251h9v3h-9zM661 251h10v3h-10zM709 251h9v3h-9zM746 251h10v3h-10zM765 251h10v3h-10zM793 251h10v3h-10zM812 251h29v3h-29zM152 254h10v3h-10zM171 254h9v3h-9zM246 254h10v3h-10zM265 254h10v3h-10zM294 254h9v3h-9zM341 254h9v3h-9zM397 254h10v3h-10zM454 254h28v3h-28zM501 254h19v3h-19zM529 254h10v3h-10zM548 254h10v3h-10zM595 254h10v3h-10zM614 254h29v3h-29zM652 254h9v3h-9zM699 254h10v3h-10zM718 254h9v3h-9zM756 254h28v3h-28zM822 254h9v3h-9zM133 257h10v3h-10zM152 257h10v3h-10zM171 257h9v3h-9zM190 257h9v3h-9zM209 257h9v3h-9zM228 257h9v3h-9zM246 257h10v3h-10zM265 257h10v3h-10zM322 257h19v3h-19zM350 257h19v3h-19zM416 257h38v3h-38zM492 257h9v3h-9zM539 257h9v3h-9zM577 257h9v3h-9zM595 257h10v3h-10zM614 257h19v3h-19zM643 257h9v3h-9zM718 257h28v3h-28zM765 257h10v3h-10zM803 257h9v3h-9zM831 257h10v3h-10zM162 260h37v4h-37zM246 260h10v4h-10zM303 260h28v4h-28zM341 260h9v4h-9zM397 260h10v4h-10zM416 260h10v4h-10zM435 260h9v4h-9zM463 260h10v4h-10zM501 260h38v4h-38zM577 260h18v4h-18zM661 260h10v4h-10zM680 260h10v4h-10zM699 260h10v4h-10zM718 260h9v4h-9zM784 260h9v4h-9zM803 260h9v4h-9zM841 260h7v4h-7zM152 264h10v4h-10zM180 264h19v4h-19zM209 264h9v4h-9zM237 264h9v4h-9zM294 264h28v4h-28zM341 264h19v4h-19zM397 264h10v4h-10zM426 264h9v4h-9zM501 264h9v4h-9zM520 264h19v4h-19zM595 264h19v4h-19zM652 264h9v4h-9zM690 264h9v4h-9zM746 264h10v4h-10zM812 264h19v4h-19zM841 264h7v4h-7zM180 268h29v5h-29zM228 268h9v5h-9zM246 268h19v5h-19zM294 268h18v5h-18zM331 268h10v5h-10zM350 268h19v5h-19zM378 268h10v5h-10zM407 268h9v5h-9zM426 268h9v5h-9zM444 268h19v5h-19zM539 268h9v5h-9zM586 268h9v5h-9zM605 268h9v5h-9zM633 268h10v5h-10zM652 268h19v5h-19zM709 268h18v5h-18zM803 268h9v5h-9zM152 273h10v6h-10zM171 273h19v6h-19zM237 273h9v6h-9zM322 273h19v6h-19zM350 273h19v6h-19zM473 273h9v6h-9zM586 273h9v6h-9zM737 273h9v6h-9zM209 279h9v8h-9zM246 279h19v8h-19zM275 279h9v8h-9zM294 279h9v8h-9zM312 279h19v8h-19zM426 279h9v8h-9zM463 279h10v8h-10zM539 279h9v8h-9zM558 279h9v8h-9zM577 279h9v8h-9zM690 279h19v8h-19zM812 279h10v8h-10zM841 279h7v8h-7zM190 312h9v8h-9zM209 312h9v8h-9zM246 312h10v8h-10zM284 312h10v8h-10zM331 312h10v8h-10zM350 312h38v8h-38zM397 312h10v8h-10zM435 312h9v8h-9zM482 312h10v8h-10zM501 312h9v8h-9zM548 312h19v8h-19zM595 312h10v8h-10zM633 312h19v8h-19zM661 312h19v8h-19zM690 312h9v8h-9zM775 312h9v8h-9zM812 312h10v8h-10zM133 287h10v10h-10zM171 287h9v10h-9zM199 287h10v10h-10zM284 287h10v10h-10zM322 287h9v10h-9zM360 287h18v10h-18zM435 287h9v10h-9zM463 287h10v10h-10zM539 287h19v10h-19zM690 287h19v10h-19zM727 287h10v10h-10zM784 287h9v10h-9zM803 287h9v10h-9zM822 287h9v10h-9zM199 297h10v15h-10zM237 297h19v15h-19zM388 297h9v15h-9zM482 297h10v15h-10zM501 297h9v15h-9zM558 297h9v15h-9zM586 297h9v15h-9zM671 297h9v15h-9zM765 297h10v15h-10z"/><path fill="#0030ff" d="M746 93h10v2h-10zM228 100h9v2h-9zM162 105h9v2h-9zM331 105h10v2h-10zM143 110h9v2h-9zM378 110h10v2h-10zM397 110h10v2h-10zM539 110h9v2h-9zM699 110h10v2h-10zM454 112h9v2h-9zM652 112h9v2h-9zM775 112h9v2h-9zM171 117h9v2h-9zM199 117h10v2h-10zM237 117h9v2h-9zM303 117h9v2h-9zM444 117h10v2h-10zM520 117h9v2h-9zM586 117h9v2h-9zM718 117h9v2h-9zM784 117h9v2h-9zM294 119h9v2h-9zM341 119h9v2h-9zM388 119h9v2h-9zM454 119h9v2h-9zM482 119h10v2h-10zM529 119h10v2h-10zM718 119h9v2h-9zM775 119h9v2h-9zM143 124h9v2h-9zM180 124h10v2h-10zM218 124h10v2h-10zM256 124h9v2h-9zM416 124h10v2h-10zM444 124h19v2h-19zM586 124h9v2h-9zM737 124h19v2h-19zM765 124h10v2h-10zM822 124h9v2h-9zM152 126h10v2h-10zM209 126h9v2h-9zM275 126h9v2h-9zM303 126h9v2h-9zM378 126h10v2h-10zM643 126h9v2h-9zM718 126h9v2h-9zM152 131h10v2h-10zM180 131h10v2h-10zM275 131h9v2h-9zM331 131h10v2h-10zM369 131h19v2h-19zM397 131h10v2h-10zM426 131h9v2h-9zM633 131h10v2h-10zM652 131h9v2h-9zM671 131h9v2h-9zM756 131h9v2h-9zM822 131h9v2h-9zM152 133h10v2h-10zM218 133h10v2h-10zM256 133h19v2h-19zM322 133h9v2h-9zM388 133h9v2h-9zM567 133h10v2h-10zM614 133h10v2h-10zM652 133h9v2h-9zM690 133h9v2h-9zM718 133h9v2h-9zM746 133h10v2h-10zM784 133h9v2h-9zM152 138h10v2h-10zM171 138h9v2h-9zM199 138h19v2h-19zM237 138h9v2h-9zM256 138h9v2h-9zM312 138h10v2h-10zM350 138h19v2h-19zM397 138h10v2h-10zM416 138h10v2h-10zM435 138h28v2h-28zM510 138h10v2h-10zM548 138h10v2h-10zM605 138h9v2h-9zM661 138h10v2h-10zM756 138h9v2h-9zM841 138h7v2h-7zM143 140h9v2h-9zM218 140h10v2h-10zM275 140h9v2h-9zM378 140h10v2h-10zM482 140h10v2h-10zM510 140h10v2h-10zM548 140h29v2h-29zM680 140h10v2h-10zM803 140h9v2h-9zM831 140h10v2h-10zM190 145h9v2h-9zM246 145h10v2h-10zM265 145h10v2h-10zM341 145h9v2h-9zM360 145h9v2h-9zM463 145h10v2h-10zM539 145h19v2h-19zM567 145h10v2h-10zM605 145h9v2h-9zM624 145h9v2h-9zM661 145h10v2h-10zM831 145h10v2h-10zM133 147h10v2h-10zM152 147h10v2h-10zM171 147h9v2h-9zM265 147h10v2h-10zM426 147h9v2h-9zM463 147h10v2h-10zM548 147h10v2h-10zM727 147h10v2h-10zM775 147h9v2h-9zM152 152h10v2h-10zM275 152h9v2h-9zM312 152h10v2h-10zM360 152h9v2h-9zM605 152h9v2h-9zM841 152h7v2h-7zM143 157h9v2h-9zM180 157h10v2h-10zM256 157h9v2h-9zM294 157h9v2h-9zM416 157h10v2h-10zM482 157h10v2h-10zM510 157h10v2h-10zM529 157h10v2h-10zM558 157h9v2h-9zM605 157h9v2h-9zM633 157h19v2h-19zM680 157h10v2h-10zM718 157h9v2h-9zM746 157h19v2h-19zM841 157h7v2h-7zM143 159h9v2h-9zM199 159h10v2h-10zM256 159h9v2h-9zM331 159h19v2h-19zM369 159h9v2h-9zM529 159h10v2h-10zM595 159h10v2h-10zM624 159h9v2h-9zM680 159h10v2h-10zM737 159h9v2h-9zM765 159h10v2h-10zM784 159h19v2h-19zM822 159h9v2h-9zM162 164h9v2h-9zM228 164h9v2h-9zM284 164h10v2h-10zM378 164h10v2h-10zM397 164h10v2h-10zM416 164h10v2h-10zM492 164h9v2h-9zM605 164h9v2h-9zM793 164h10v2h-10zM228 166h9v2h-9zM265 166h10v2h-10zM360 166h9v2h-9zM492 166h9v2h-9zM529 166h10v2h-10zM605 166h9v2h-9zM699 166h10v2h-10zM737 166h9v2h-9zM841 166h7v2h-7zM246 171h10v2h-10zM265 171h10v2h-10zM284 171h10v2h-10zM312 171h10v2h-10zM397 171h10v2h-10zM416 171h19v2h-19zM473 171h9v2h-9zM529 171h10v2h-10zM548 171h10v2h-10zM605 171h9v2h-9zM756 171h9v2h-9zM152 173h10v2h-10zM275 173h9v2h-9zM473 173h9v2h-9zM529 173h10v2h-10zM680 173h10v2h-10zM727 173h10v2h-10zM803 173h9v2h-9zM841 173h7v2h-7zM171 178h9v2h-9zM237 178h9v2h-9zM388 178h9v2h-9zM473 178h9v2h-9zM614 178h10v2h-10zM643 178h9v2h-9zM727 178h10v2h-10zM793 178h10v2h-10zM133 180h10v2h-10zM162 180h18v2h-18zM322 180h9v2h-9zM614 180h10v2h-10zM643 180h9v2h-9zM680 180h10v2h-10zM831 180h10v2h-10zM133 185h10v2h-10zM152 185h10v2h-10zM265 185h10v2h-10zM303 185h9v2h-9zM350 185h19v2h-19zM454 185h19v2h-19zM558 185h19v2h-19zM595 185h10v2h-10zM680 185h10v2h-10zM718 185h9v2h-9zM746 185h10v2h-10zM765 185h10v2h-10zM812 185h10v2h-10zM180 187h19v2h-19zM246 187h19v2h-19zM275 187h19v2h-19zM303 187h9v2h-9zM369 187h9v2h-9zM397 187h10v2h-10zM416 187h10v2h-10zM558 187h9v2h-9zM624 187h9v2h-9zM671 187h9v2h-9zM690 187h9v2h-9zM727 187h10v2h-10zM746 187h19v2h-19zM793 187h10v2h-10zM812 187h10v2h-10zM133 192h10v2h-10zM162 192h9v2h-9zM199 192h10v2h-10zM275 192h9v2h-9zM303 192h9v2h-9zM322 192h9v2h-9zM369 192h9v2h-9zM397 192h10v2h-10zM435 192h9v2h-9zM567 192h10v2h-10zM680 192h10v2h-10zM737 192h28v2h-28zM199 194h10v2h-10zM275 194h9v2h-9zM312 194h10v2h-10zM341 194h9v2h-9zM378 194h10v2h-10zM397 194h10v2h-10zM426 194h9v2h-9zM492 194h9v2h-9zM558 194h9v2h-9zM577 194h9v2h-9zM727 194h10v2h-10zM793 194h10v2h-10zM812 194h10v2h-10zM133 199h10v2h-10zM162 199h9v2h-9zM190 199h9v2h-9zM209 199h9v2h-9zM246 199h10v2h-10zM312 199h10v2h-10zM416 199h10v2h-10zM482 199h10v2h-10zM520 199h9v2h-9zM567 199h10v2h-10zM690 199h9v2h-9zM737 199h9v2h-9zM756 199h9v2h-9zM812 199h10v2h-10zM162 201h9v2h-9zM190 201h9v2h-9zM246 201h10v2h-10zM265 201h10v2h-10zM312 201h10v2h-10zM388 201h28v2h-28zM510 201h10v2h-10zM586 201h9v2h-9zM624 201h9v2h-9zM671 201h9v2h-9zM822 201h9v2h-9zM303 206h9v2h-9zM322 206h9v2h-9zM388 206h9v2h-9zM416 206h10v2h-10zM463 206h19v2h-19zM539 206h9v2h-9zM558 206h9v2h-9zM577 206h18v2h-18zM605 206h9v2h-9zM661 206h10v2h-10zM680 206h10v2h-10zM709 206h9v2h-9zM775 206h18v2h-18zM803 206h9v2h-9zM162 211h9v2h-9zM190 211h9v2h-9zM209 211h9v2h-9zM265 211h10v2h-10zM284 211h10v2h-10zM303 211h9v2h-9zM463 211h10v2h-10zM501 211h19v2h-19zM539 211h9v2h-9zM567 211h19v2h-19zM605 211h19v2h-19zM633 211h10v2h-10zM775 211h9v2h-9zM209 213h19v2h-19zM237 213h9v2h-9zM256 213h9v2h-9zM284 213h10v2h-10zM322 213h19v2h-19zM360 213h18v2h-18zM388 213h9v2h-9zM444 213h19v2h-19zM473 213h9v2h-9zM492 213h9v2h-9zM510 213h10v2h-10zM614 213h10v2h-10zM633 213h10v2h-10zM737 213h9v2h-9zM775 213h9v2h-9zM180 218h10v2h-10zM199 218h10v2h-10zM228 218h9v2h-9zM256 218h9v2h-9zM294 218h9v2h-9zM331 218h29v2h-29zM407 218h9v2h-9zM444 218h10v2h-10zM473 218h19v2h-19zM510 218h10v2h-10zM577 218h9v2h-9zM595 218h10v2h-10zM680 218h10v2h-10zM822 218h9v2h-9zM841 218h7v2h-7zM180 220h10v2h-10zM246 220h10v2h-10zM369 220h9v2h-9zM454 220h9v2h-9zM492 220h9v2h-9zM529 220h19v2h-19zM624 220h9v2h-9zM765 220h10v2h-10zM143 225h9v2h-9zM171 225h19v2h-19zM218 225h19v2h-19zM246 225h10v2h-10zM331 225h10v2h-10zM369 225h9v2h-9zM426 225h9v2h-9zM444 225h10v2h-10zM463 225h10v2h-10zM482 225h19v2h-19zM529 225h10v2h-10zM661 225h29v2h-29zM699 225h10v2h-10zM727 225h10v2h-10zM133 227h19v2h-19zM180 227h10v2h-10zM209 227h9v2h-9zM246 227h10v2h-10zM303 227h19v2h-19zM407 227h9v2h-9zM435 227h9v2h-9zM510 227h10v2h-10zM577 227h9v2h-9zM652 227h9v2h-9zM709 227h9v2h-9zM775 227h9v2h-9zM133 232h10v2h-10zM218 232h10v2h-10zM237 232h19v2h-19zM265 232h10v2h-10zM360 232h9v2h-9zM378 232h10v2h-10zM473 232h9v2h-9zM539 232h28v2h-28zM633 232h10v2h-10zM671 232h9v2h-9zM737 232h28v2h-28zM784 232h9v2h-9zM803 232h9v2h-9zM822 232h9v2h-9zM841 232h7v2h-7zM133 234h10v2h-10zM180 234h10v2h-10zM199 234h10v2h-10zM218 234h10v2h-10zM237 234h9v2h-9zM463 234h19v2h-19zM492 234h9v2h-9zM624 234h9v2h-9zM718 234h9v2h-9zM803 234h9v2h-9zM133 239h19v2h-19zM171 239h9v2h-9zM199 239h10v2h-10zM228 239h9v2h-9zM360 239h9v2h-9zM463 239h10v2h-10zM567 239h10v2h-10zM595 239h10v2h-10zM680 239h10v2h-10zM727 239h10v2h-10zM841 239h7v2h-7zM209 241h9v2h-9zM237 241h9v2h-9zM265 241h10v2h-10zM378 241h10v2h-10zM416 241h10v2h-10zM444 241h10v2h-10zM473 241h9v2h-9zM548 241h10v2h-10zM567 241h10v2h-10zM624 241h9v2h-9zM661 241h10v2h-10zM690 241h9v2h-9zM709 241h9v2h-9zM765 241h10v2h-10zM143 246h9v2h-9zM180 246h10v2h-10zM256 246h9v2h-9zM322 246h9v2h-9zM360 246h9v2h-9zM444 246h10v2h-10zM463 246h10v2h-10zM501 246h9v2h-9zM520 246h9v2h-9zM539 246h9v2h-9zM586 246h9v2h-9zM605 246h9v2h-9zM699 246h10v2h-10zM746 246h10v2h-10zM312 102h10v3h-10zM492 102h9v3h-9zM454 107h9v3h-9zM539 107h9v3h-9zM841 107h7v3h-7zM444 114h10v3h-10zM520 114h9v3h-9zM652 114h9v3h-9zM803 114h9v3h-9zM831 114h10v3h-10zM209 121h9v3h-9zM228 121h9v3h-9zM331 121h10v3h-10zM444 121h19v3h-19zM482 121h10v3h-10zM595 121h19v3h-19zM275 128h9v3h-9zM426 128h9v3h-9zM473 128h9v3h-9zM529 128h10v3h-10zM643 128h9v3h-9zM765 128h10v3h-10zM841 128h7v3h-7zM265 135h10v3h-10zM303 135h9v3h-9zM416 135h10v3h-10zM463 135h10v3h-10zM492 135h18v3h-18zM558 135h19v3h-19zM614 135h10v3h-10zM680 135h10v3h-10zM699 135h10v3h-10zM727 135h10v3h-10zM765 135h10v3h-10zM218 142h10v3h-10zM284 142h10v3h-10zM312 142h10v3h-10zM331 142h10v3h-10zM369 142h28v3h-28zM501 142h9v3h-9zM539 142h9v3h-9zM586 142h19v3h-19zM671 142h9v3h-9zM727 142h10v3h-10zM756 142h9v3h-9zM784 142h9v3h-9zM841 142h7v3h-7zM152 149h10v3h-10zM199 149h10v3h-10zM246 149h10v3h-10zM265 149h10v3h-10zM312 149h10v3h-10zM341 149h9v3h-9zM492 149h9v3h-9zM539 149h9v3h-9zM624 149h9v3h-9zM643 149h9v3h-9zM727 149h10v3h-10zM765 149h10v3h-10zM133 154h10v3h-10zM209 154h9v3h-9zM228 154h9v3h-9zM341 154h9v3h-9zM378 154h10v3h-10zM539 154h9v3h-9zM727 154h19v3h-19zM831 154h10v3h-10zM143 161h9v3h-9zM256 161h9v3h-9zM303 161h9v3h-9zM322 161h9v3h-9zM341 161h28v3h-28zM435 161h19v3h-19zM473 161h9v3h-9zM520 161h9v3h-9zM539 161h9v3h-9zM595 161h10v3h-10zM614 161h10v3h-10zM661 161h29v3h-29zM709 161h18v3h-18zM784 161h9v3h-9zM841 161h7v3h-7zM162 168h9v3h-9zM228 168h9v3h-9zM312 168h19v3h-19zM426 168h18v3h-18zM501 168h9v3h-9zM539 168h9v3h-9zM577 168h9v3h-9zM643 168h9v3h-9zM699 168h10v3h-10zM718 168h9v3h-9zM765 168h10v3h-10zM841 168h7v3h-7zM133 175h10v3h-10zM209 175h9v3h-9zM237 175h9v3h-9zM350 175h10v3h-10zM378 175h19v3h-19zM463 175h19v3h-19zM492 175h9v3h-9zM510 175h10v3h-10zM539 175h9v3h-9zM643 175h18v3h-18zM680 175h19v3h-19zM756 175h9v3h-9zM831 175h10v3h-10zM209 182h9v3h-9zM265 182h10v3h-10zM284 182h10v3h-10zM303 182h28v3h-28zM510 182h10v3h-10zM614 182h19v3h-19zM775 182h9v3h-9zM133 189h10v3h-10zM265 189h10v3h-10zM284 189h10v3h-10zM350 189h10v3h-10zM426 189h9v3h-9zM444 189h38v3h-38zM539 189h9v3h-9zM624 189h9v3h-9zM709 189h9v3h-9zM746 189h10v3h-10zM765 189h10v3h-10zM793 189h19v3h-19zM831 189h10v3h-10zM180 196h10v3h-10zM199 196h19v3h-19zM256 196h9v3h-9zM294 196h18v3h-18zM378 196h19v3h-19zM463 196h10v3h-10zM492 196h9v3h-9zM529 196h10v3h-10zM652 196h9v3h-9zM680 196h10v3h-10zM709 196h9v3h-9zM822 196h9v3h-9zM218 203h10v3h-10zM246 203h10v3h-10zM294 203h9v3h-9zM312 203h10v3h-10zM350 203h10v3h-10zM407 203h9v3h-9zM426 203h9v3h-9zM510 203h10v3h-10zM529 203h10v3h-10zM614 203h10v3h-10zM718 203h9v3h-9zM765 203h10v3h-10zM784 203h9v3h-9zM803 203h9v3h-9zM133 208h10v3h-10zM152 208h10v3h-10zM331 208h38v3h-38zM416 208h10v3h-10zM444 208h19v3h-19zM510 208h10v3h-10zM605 208h9v3h-9zM624 208h9v3h-9zM643 208h18v3h-18zM690 208h9v3h-9zM737 208h9v3h-9zM831 208h10v3h-10zM190 215h9v3h-9zM397 215h10v3h-10zM520 215h19v3h-19zM548 215h10v3h-10zM586 215h9v3h-9zM605 215h19v3h-19zM718 215h9v3h-9zM737 215h9v3h-9zM180 222h10v3h-10zM209 222h9v3h-9zM237 222h9v3h-9zM284 222h10v3h-10zM444 222h29v3h-29zM482 222h10v3h-10zM510 222h38v3h-38zM614 222h19v3h-19zM661 222h10v3h-10zM680 222h10v3h-10zM709 222h18v3h-18zM737 222h9v3h-9zM803 222h9v3h-9zM162 229h9v3h-9zM246 229h10v3h-10zM294 229h9v3h-9zM360 229h9v3h-9zM397 229h29v3h-29zM435 229h9v3h-9zM463 229h10v3h-10zM492 229h9v3h-9zM539 229h9v3h-9zM586 229h9v3h-9zM661 229h10v3h-10zM709 229h18v3h-18zM793 229h10v3h-10zM831 229h10v3h-10zM133 236h10v3h-10zM152 236h19v3h-19zM218 236h10v3h-10zM246 236h10v3h-10zM407 236h9v3h-9zM444 236h10v3h-10zM539 236h9v3h-9zM558 236h9v3h-9zM614 236h19v3h-19zM727 236h10v3h-10zM784 236h9v3h-9zM133 243h10v3h-10zM199 243h10v3h-10zM218 243h10v3h-10zM237 243h9v3h-9zM265 243h10v3h-10zM284 243h10v3h-10zM312 243h19v3h-19zM369 243h19v3h-19zM520 243h9v3h-9zM539 243h9v3h-9zM567 243h10v3h-10zM614 243h19v3h-19zM643 243h9v3h-9zM690 243h9v3h-9zM727 243h10v3h-10zM822 243h9v3h-9zM841 243h7v3h-7zM171 248h9v3h-9zM199 248h10v3h-10zM218 248h10v3h-10zM265 248h10v3h-10zM294 248h18v3h-18zM407 248h9v3h-9zM444 248h10v3h-10zM463 248h19v3h-19zM577 248h9v3h-9zM624 248h9v3h-9zM661 248h10v3h-10zM718 248h9v3h-9zM746 248h10v3h-10zM775 248h9v3h-9zM152 251h10v3h-10zM312 251h10v3h-10zM388 251h9v3h-9zM416 251h10v3h-10zM435 251h9v3h-9zM492 251h9v3h-9zM558 251h9v3h-9zM671 251h9v3h-9zM699 251h10v3h-10zM727 251h10v3h-10zM784 251h9v3h-9zM190 254h19v3h-19zM218 254h10v3h-10zM284 254h10v3h-10zM350 254h10v3h-10zM378 254h10v3h-10zM492 254h9v3h-9zM567 254h10v3h-10zM605 254h9v3h-9zM690 254h9v3h-9zM709 254h9v3h-9zM737 254h9v3h-9zM143 257h9v3h-9zM341 257h9v3h-9zM501 257h9v3h-9zM520 257h9v3h-9zM586 257h9v3h-9zM633 257h10v3h-10zM671 257h9v3h-9zM746 257h10v3h-10zM784 257h19v3h-19zM133 260h19v4h-19zM265 260h10v4h-10zM284 260h10v4h-10zM388 260h9v4h-9zM444 260h10v4h-10zM492 260h9v4h-9zM643 260h9v4h-9zM671 260h9v4h-9zM737 260h9v4h-9zM756 260h9v4h-9zM793 260h10v4h-10zM822 260h19v4h-19zM133 264h10v4h-10zM162 264h9v4h-9zM218 264h10v4h-10zM265 264h29v4h-29zM388 264h9v4h-9zM407 264h19v4h-19zM435 264h19v4h-19zM492 264h9v4h-9zM510 264h10v4h-10zM633 264h19v4h-19zM680 264h10v4h-10zM699 264h10v4h-10zM718 264h9v4h-9zM756 264h9v4h-9zM793 264h10v4h-10zM152 268h19v5h-19zM218 268h10v5h-10zM265 268h19v5h-19zM312 268h10v5h-10zM341 268h9v5h-9zM388 268h19v5h-19zM416 268h10v5h-10zM482 268h19v5h-19zM520 268h19v5h-19zM595 268h10v5h-10zM680 268h10v5h-10zM737 268h9v5h-9zM756 268h9v5h-9zM784 268h19v5h-19zM831 268h10v5h-10zM162 273h9v6h-9zM218 273h19v6h-19zM246 273h19v6h-19zM284 273h10v6h-10zM369 273h19v6h-19zM444 273h29v6h-29zM510 273h10v6h-10zM567 273h19v6h-19zM595 273h19v6h-19zM709 273h9v6h-9zM775 273h9v6h-9zM803 273h9v6h-9zM162 279h28v8h-28zM284 279h10v8h-10zM350 279h28v8h-28zM435 279h9v8h-9zM473 279h19v8h-19zM586 279h9v8h-9zM614 279h10v8h-10zM652 279h19v8h-19zM775 279h9v8h-9zM133 312h47v8h-47zM256 312h9v8h-9zM294 312h9v8h-9zM388 312h9v8h-9zM454 312h19v8h-19zM492 312h9v8h-9zM510 312h29v8h-29zM567 312h10v8h-10zM652 312h9v8h-9zM699 312h10v8h-10zM746 312h19v8h-19zM784 312h9v8h-9zM209 287h19v10h-19zM246 287h10v10h-10zM275 287h9v10h-9zM510 287h10v10h-10zM614 287h10v10h-10zM671 287h9v10h-9zM746 287h10v10h-10zM775 287h9v10h-9zM812 287h10v10h-10zM841 287h7v10h-7zM133 297h10v15h-10zM218 297h10v15h-10zM312 297h10v15h-10zM331 297h10v15h-10zM369 297h9v15h-9zM426 297h9v15h-9zM473 297h9v15h-9zM510 297h10v15h-10zM539 297h19v15h-19zM595 297h10v15h-10zM624 297h9v15h-9zM652 297h19v15h-19zM784 297h9v15h-9zM803 297h9v15h-9z"/><path fill="#0040ff" d="M218 102h10v3h-10zM162 107h9v3h-9zM143 121h9v3h-9zM322 128h9v3h-9zM586 128h9v3h-9zM209 135h9v3h-9zM360 135h9v3h-9zM388 135h9v3h-9zM426 135h9v3h-9zM482 135h10v3h-10zM652 135h9v3h-9zM831 135h10v3h-10zM190 142h9v3h-9zM256 142h9v3h-9zM275 142h9v3h-9zM341 142h9v3h-9zM407 142h19v3h-19zM444 142h19v3h-19zM510 142h10v3h-10zM605 142h9v3h-9zM633 142h10v3h-10zM680 142h10v3h-10zM746 142h10v3h-10zM426 149h9v3h-9zM614 149h10v3h-10zM652 149h9v3h-9zM718 149h9v3h-9zM435 154h9v3h-9zM841 154h7v3h-7zM312 161h10v3h-10zM331 161h10v3h-10zM407 161h9v3h-9zM482 161h10v3h-10zM501 161h9v3h-9zM812 161h10v3h-10zM199 168h10v3h-10zM473 168h9v3h-9zM661 168h10v3h-10zM190 175h9v3h-9zM341 175h9v3h-9zM548 175h10v3h-10zM718 175h9v3h-9zM765 175h10v3h-10zM152 182h10v3h-10zM246 182h10v3h-10zM397 182h10v3h-10zM652 182h9v3h-9zM727 182h19v3h-19zM492 189h9v3h-9zM510 189h10v3h-10zM652 189h9v3h-9zM265 196h10v3h-10zM360 196h9v3h-9zM426 196h9v3h-9zM501 196h19v3h-19zM643 196h9v3h-9zM661 196h19v3h-19zM737 196h9v3h-9zM133 203h10v3h-10zM416 203h10v3h-10zM473 203h9v3h-9zM492 203h9v3h-9zM633 203h10v3h-10zM671 203h9v3h-9zM162 208h9v3h-9zM199 208h10v3h-10zM397 208h10v3h-10zM501 208h9v3h-9zM567 208h10v3h-10zM209 215h19v3h-19zM246 215h19v3h-19zM303 215h9v3h-9zM501 215h9v3h-9zM643 215h9v3h-9zM756 215h19v3h-19zM256 222h9v3h-9zM397 222h10v3h-10zM605 222h9v3h-9zM699 222h10v3h-10zM831 222h10v3h-10zM133 229h10v3h-10zM265 229h19v3h-19zM482 229h10v3h-10zM624 229h9v3h-9zM350 236h10v3h-10zM548 236h10v3h-10zM331 243h10v3h-10zM435 243h19v3h-19zM143 248h9v3h-9zM426 248h9v3h-9zM492 248h9v3h-9zM520 248h9v3h-9zM539 248h9v3h-9zM793 248h10v3h-10zM841 248h7v3h-7zM218 251h10v3h-10zM237 251h9v3h-9zM360 251h9v3h-9zM501 251h9v3h-9zM529 251h10v3h-10zM567 251h10v3h-10zM624 251h9v3h-9zM756 251h9v3h-9zM133 254h10v3h-10zM303 254h19v3h-19zM180 257h10v3h-10zM237 257h9v3h-9zM294 257h9v3h-9zM397 257h10v3h-10zM473 257h9v3h-9zM680 257h10v3h-10zM303 110h9v2h-9zM501 112h9v2h-9zM529 112h10v2h-10zM709 112h9v2h-9zM784 112h9v2h-9zM228 117h9v2h-9zM558 117h9v2h-9zM652 117h9v2h-9zM162 119h9v2h-9zM331 124h10v2h-10zM482 124h10v2h-10zM520 124h9v2h-9zM595 124h10v2h-10zM218 126h10v2h-10zM256 126h9v2h-9zM331 126h10v2h-10zM369 126h9v2h-9zM407 126h9v2h-9zM520 126h9v2h-9zM595 126h10v2h-10zM671 126h9v2h-9zM709 126h9v2h-9zM746 126h10v2h-10zM784 126h9v2h-9zM822 126h9v2h-9zM143 131h9v2h-9zM218 131h10v2h-10zM237 131h9v2h-9zM256 131h9v2h-9zM284 131h19v2h-19zM350 131h10v2h-10zM407 131h9v2h-9zM463 131h10v2h-10zM492 131h9v2h-9zM520 131h9v2h-9zM558 131h9v2h-9zM595 131h10v2h-10zM709 131h9v2h-9zM746 131h10v2h-10zM765 131h28v2h-28zM143 133h9v2h-9zM520 133h9v2h-9zM699 133h19v2h-19zM426 138h9v2h-9zM633 138h10v2h-10zM765 138h10v2h-10zM812 138h10v2h-10zM171 145h9v2h-9zM397 145h10v2h-10zM492 145h9v2h-9zM680 145h10v2h-10zM756 145h9v2h-9zM162 152h9v2h-9zM199 152h10v2h-10zM237 152h9v2h-9zM350 152h10v2h-10zM690 152h9v2h-9zM727 152h10v2h-10zM218 157h10v2h-10zM284 157h10v2h-10zM369 157h9v2h-9zM501 157h9v2h-9zM520 157h9v2h-9zM671 157h9v2h-9zM775 157h9v2h-9zM822 157h9v2h-9zM171 159h9v2h-9zM294 159h9v2h-9zM426 159h9v2h-9zM463 159h10v2h-10zM482 159h10v2h-10zM718 159h19v2h-19zM841 159h7v2h-7zM482 164h10v2h-10zM388 166h9v2h-9zM463 166h10v2h-10zM548 166h10v2h-10zM133 171h10v2h-10zM275 171h9v2h-9zM303 171h9v2h-9zM350 171h10v2h-10zM690 171h9v2h-9zM718 171h9v2h-9zM312 173h10v2h-10zM567 173h10v2h-10zM765 173h10v2h-10zM312 178h10v2h-10zM341 178h9v2h-9zM397 178h10v2h-10zM803 178h9v2h-9zM237 180h9v2h-9zM350 180h19v2h-19zM397 180h10v2h-10zM605 180h9v2h-9zM661 180h10v2h-10zM841 180h7v2h-7zM162 185h9v2h-9zM246 185h10v2h-10zM294 185h9v2h-9zM331 185h10v2h-10zM369 185h9v2h-9zM407 185h9v2h-9zM435 185h19v2h-19zM482 185h10v2h-10zM510 185h10v2h-10zM671 185h9v2h-9zM784 185h9v2h-9zM841 185h7v2h-7zM218 187h10v2h-10zM331 187h10v2h-10zM360 187h9v2h-9zM407 187h9v2h-9zM444 187h10v2h-10zM473 187h19v2h-19zM633 187h10v2h-10zM784 187h9v2h-9zM822 187h9v2h-9zM841 187h7v2h-7zM237 192h9v2h-9zM312 192h10v2h-10zM501 192h9v2h-9zM548 192h10v2h-10zM605 192h19v2h-19zM803 192h9v2h-9zM841 192h7v2h-7zM228 194h9v2h-9zM388 194h9v2h-9zM529 194h10v2h-10zM718 194h9v2h-9zM831 194h10v2h-10zM199 199h10v2h-10zM331 199h10v2h-10zM369 199h9v2h-9zM510 199h10v2h-10zM539 199h9v2h-9zM643 199h9v2h-9zM661 199h10v2h-10zM727 199h10v2h-10zM784 199h9v2h-9zM180 201h10v2h-10zM350 201h10v2h-10zM378 201h10v2h-10zM416 201h10v2h-10zM435 201h19v2h-19zM577 201h9v2h-9zM746 201h10v2h-10zM765 201h10v2h-10zM831 201h10v2h-10zM152 206h10v2h-10zM331 206h10v2h-10zM369 206h9v2h-9zM492 206h9v2h-9zM718 206h9v2h-9zM822 206h9v2h-9zM143 211h9v2h-9zM369 211h9v2h-9zM595 211h10v2h-10zM765 211h10v2h-10zM822 211h9v2h-9zM265 213h10v2h-10zM341 213h19v2h-19zM558 213h9v2h-9zM586 213h19v2h-19zM652 213h9v2h-9zM690 213h9v2h-9zM209 218h9v2h-9zM246 218h10v2h-10zM369 218h9v2h-9zM454 218h9v2h-9zM492 218h9v2h-9zM737 218h19v2h-19zM775 218h9v2h-9zM199 220h10v2h-10zM303 220h9v2h-9zM322 220h9v2h-9zM397 220h10v2h-10zM633 220h10v2h-10zM699 220h10v2h-10zM756 220h9v2h-9zM831 220h10v2h-10zM322 225h9v2h-9zM841 225h7v2h-7zM171 227h9v2h-9zM369 227h9v2h-9zM388 227h19v2h-19zM416 227h10v2h-10zM473 227h9v2h-9zM624 227h9v2h-9zM793 227h10v2h-10zM812 227h10v2h-10zM463 232h10v2h-10zM567 232h10v2h-10zM294 234h9v2h-9zM322 234h9v2h-9zM586 234h9v2h-9zM643 234h18v2h-18zM680 234h10v2h-10zM699 234h10v2h-10zM473 239h9v2h-9zM624 239h9v2h-9zM756 239h9v2h-9zM275 241h9v2h-9zM322 241h19v2h-19zM492 241h9v2h-9zM775 241h9v2h-9zM133 246h10v2h-10zM595 246h10v2h-10zM793 246h10v2h-10zM831 246h10v2h-10zM331 260h10v4h-10zM407 260h9v4h-9zM605 260h9v4h-9zM652 260h9v4h-9zM322 264h9v4h-9zM378 264h10v4h-10zM463 264h19v4h-19zM558 264h9v4h-9zM831 264h10v4h-10zM577 268h9v5h-9zM822 268h9v5h-9zM190 273h9v6h-9zM303 273h19v6h-19zM341 273h9v6h-9zM416 273h10v6h-10zM435 273h9v6h-9zM520 273h19v6h-19zM558 273h9v6h-9zM680 273h10v6h-10zM718 273h9v6h-9zM746 273h19v6h-19zM784 273h9v6h-9zM831 273h10v6h-10zM133 279h10v8h-10zM218 279h10v8h-10zM633 279h10v8h-10zM727 279h19v8h-19zM784 279h9v8h-9zM180 312h10v8h-10zM312 312h10v8h-10zM341 312h9v8h-9zM444 312h10v8h-10zM539 312h9v8h-9zM577 312h9v8h-9zM614 312h10v8h-10zM822 312h19v8h-19zM180 287h10v10h-10zM256 287h9v10h-9zM294 287h9v10h-9zM388 287h9v10h-9zM624 287h9v10h-9zM143 297h19v15h-19zM209 297h9v15h-9zM228 297h9v15h-9zM294 297h9v15h-9zM378 297h10v15h-10zM397 297h10v15h-10zM435 297h28v15h-28zM567 297h19v15h-19zM605 297h9v15h-9zM633 297h10v15h-10zM699 297h19v15h-19zM746 297h10v15h-10zM841 297h7v15h-7z"/><path fill="#0050ff" d="M143 126h9v2h-9zM180 126h10v2h-10zM294 126h9v2h-9zM444 126h10v2h-10zM482 126h10v2h-10zM633 126h10v2h-10zM444 131h10v2h-10zM482 131h10v2h-10zM841 131h7v2h-7zM190 133h9v2h-9zM312 133h10v2h-10zM180 138h10v2h-10zM228 138h9v2h-9zM237 140h9v2h-9zM294 145h9v2h-9zM209 152h9v2h-9zM765 152h10v2h-10zM812 152h10v2h-10zM331 157h10v2h-10zM595 157h10v2h-10zM784 157h9v2h-9zM256 164h9v2h-9zM294 164h9v2h-9zM784 164h9v2h-9zM322 171h9v2h-9zM360 171h9v2h-9zM661 171h10v2h-10zM190 173h9v2h-9zM341 173h9v2h-9zM360 178h9v2h-9zM586 180h9v2h-9zM180 185h10v2h-10zM218 185h10v2h-10zM143 187h9v2h-9zM661 192h10v2h-10zM501 194h9v2h-9zM756 194h9v2h-9zM775 194h9v2h-9zM388 199h9v2h-9zM529 199h10v2h-10zM143 201h9v2h-9zM718 201h9v2h-9zM577 213h9v2h-9zM765 213h10v2h-10zM294 220h9v2h-9zM350 220h10v2h-10zM680 220h10v2h-10zM275 225h9v2h-9zM831 225h10v2h-10zM746 227h10v2h-10zM784 234h9v2h-9zM529 239h10v2h-10zM737 239h9v2h-9zM577 241h9v2h-9zM180 128h10v3h-10zM331 128h10v3h-10zM595 128h10v3h-10zM633 128h10v3h-10zM709 128h9v3h-9zM746 128h10v3h-10zM143 142h9v3h-9zM520 142h9v3h-9zM284 154h10v3h-10zM567 154h10v3h-10zM680 154h10v3h-10zM294 161h9v3h-9zM558 161h9v3h-9zM633 161h10v3h-10zM237 168h9v3h-9zM360 168h9v3h-9zM680 168h10v3h-10zM180 189h10v3h-10zM369 189h9v3h-9zM812 189h10v3h-10zM793 203h10v3h-10zM793 208h10v3h-10zM180 215h10v3h-10zM369 215h9v3h-9zM294 222h9v3h-9zM322 222h9v3h-9zM171 236h9v3h-9zM492 236h9v3h-9zM397 243h10v3h-10zM775 251h9v3h-9zM162 254h9v3h-9zM237 254h9v3h-9zM699 257h10v3h-10zM812 257h10v3h-10zM624 264h9v4h-9zM737 264h9v4h-9zM643 268h9v5h-9zM727 268h10v5h-10zM133 273h10v6h-10zM407 273h9v6h-9zM492 273h9v6h-9zM643 273h9v6h-9zM690 273h19v6h-19zM793 273h10v6h-10zM152 279h10v8h-10zM331 279h10v8h-10zM803 279h9v8h-9zM218 312h10v8h-10zM237 312h9v8h-9zM765 312h10v8h-10zM841 312h7v8h-7zM152 287h10v10h-10zM350 287h10v10h-10zM558 287h19v10h-19zM595 287h10v10h-10zM190 297h9v15h-9zM303 297h9v15h-9zM341 297h19v15h-19zM407 297h19v15h-19zM520 297h19v15h-19zM680 297h10v15h-10zM718 297h9v15h-9zM737 297h9v15h-9zM756 297h9v15h-9zM822 297h19v15h-19z"/><path fill="#0060ff" d="M558 126h9v2h-9zM180 145h10v2h-10zM331 145h10v2h-10zM369 145h9v2h-9zM482 145h10v2h-10zM520 145h9v2h-9zM595 145h10v2h-10zM633 145h10v2h-10zM709 145h9v2h-9zM746 145h10v2h-10zM822 145h9v2h-9zM841 147h7v2h-7zM180 164h10v2h-10zM218 164h10v2h-10zM331 164h10v2h-10zM444 164h10v2h-10zM558 164h9v2h-9zM633 164h10v2h-10zM709 164h9v2h-9zM822 164h9v2h-9zM360 173h9v2h-9zM322 178h9v2h-9zM699 180h10v2h-10zM256 185h9v2h-9zM633 185h10v2h-10zM709 185h9v2h-9zM822 199h9v2h-9zM784 218h9v2h-9zM426 232h9v2h-9zM143 128h9v3h-9zM218 128h10v3h-10zM256 128h9v3h-9zM294 128h9v3h-9zM369 128h9v3h-9zM407 128h9v3h-9zM444 128h10v3h-10zM482 128h10v3h-10zM520 128h9v3h-9zM558 128h9v3h-9zM671 128h9v3h-9zM784 128h9v3h-9zM822 128h9v3h-9zM133 142h10v3h-10zM171 149h9v3h-9zM294 154h9v3h-9zM558 154h9v3h-9zM595 154h10v3h-10zM633 154h10v3h-10zM209 168h9v3h-9zM624 168h9v3h-9zM812 168h10v3h-10zM671 182h9v3h-9zM143 222h9v3h-9zM454 264h9v4h-9zM265 273h10v6h-10zM228 279h9v8h-9zM595 279h19v8h-19zM709 279h9v8h-9zM718 287h9v10h-9zM492 297h9v15h-9zM643 297h9v15h-9zM793 297h10v15h-10z"/><path fill="#0070ff" d="M143 145h9v2h-9zM218 145h10v2h-10zM256 145h9v2h-9zM444 145h10v2h-10zM558 145h9v2h-9zM671 145h9v2h-9zM784 145h9v2h-9zM143 164h9v2h-9zM520 164h9v2h-9zM595 164h10v2h-10zM671 164h9v2h-9zM322 173h9v2h-9zM661 178h10v2h-10zM624 180h9v2h-9zM775 180h9v2h-9zM812 180h10v2h-10zM143 185h9v2h-9zM143 154h9v3h-9zM218 154h10v3h-10zM331 154h10v3h-10zM369 154h9v3h-9zM407 154h9v3h-9zM444 154h10v3h-10zM482 154h10v3h-10zM520 154h9v3h-9zM671 154h9v3h-9zM709 154h9v3h-9zM746 154h10v3h-10zM784 154h9v3h-9zM586 168h9v3h-9zM737 168h9v3h-9zM775 168h9v3h-9zM322 175h9v3h-9zM360 175h9v3h-9zM256 182h9v3h-9zM331 182h10v3h-10zM407 182h9v3h-9zM567 257h10v3h-10zM378 279h10v8h-10zM407 279h9v8h-9zM567 279h10v8h-10zM756 279h9v8h-9zM190 287h9v10h-9zM331 287h10v10h-10zM407 287h9v10h-9zM454 287h9v10h-9zM605 287h9v10h-9zM265 297h10v15h-10z"/><path fill="#0080ff" d="M407 145h9v2h-9zM369 164h9v2h-9zM407 164h9v2h-9zM746 164h10v2h-10zM407 166h9v2h-9zM699 171h10v2h-10zM661 173h10v2h-10zM699 178h10v2h-10zM737 180h9v2h-9zM822 185h9v2h-9zM180 154h10v3h-10zM256 154h9v3h-9zM822 154h9v3h-9zM661 175h10v3h-10zM143 182h9v3h-9zM180 182h10v3h-10zM218 182h10v3h-10zM294 182h9v3h-9zM482 182h10v3h-10zM558 182h9v3h-9zM595 182h10v3h-10zM746 182h10v3h-10zM190 279h9v8h-9zM303 279h9v8h-9zM444 279h19v8h-19zM520 279h19v8h-19zM718 279h9v8h-9zM831 279h10v8h-10zM228 287h9v10h-9zM378 287h10v10h-10zM416 287h10v10h-10zM444 287h10v10h-10zM520 287h19v10h-19zM680 287h10v10h-10zM709 287h9v10h-9zM831 287h10v10h-10z"/><path fill="#00bfff" d="M143 147h9v2h-9zM218 147h10v2h-10zM256 147h9v2h-9zM331 147h10v2h-10zM369 147h9v2h-9zM482 147h10v2h-10zM520 147h9v2h-9zM558 147h9v2h-9zM595 147h10v2h-10zM633 147h10v2h-10zM709 147h9v2h-9zM746 147h10v2h-10zM822 147h9v2h-9zM143 152h9v2h-9zM180 152h10v2h-10zM218 152h10v2h-10zM256 152h9v2h-9zM294 152h9v2h-9zM331 152h10v2h-10zM369 152h9v2h-9zM407 152h9v2h-9zM444 152h10v2h-10zM482 152h10v2h-10zM520 152h9v2h-9zM558 152h9v2h-9zM595 152h10v2h-10zM633 152h10v2h-10zM671 152h9v2h-9zM709 152h9v2h-9zM746 152h10v2h-10zM784 152h9v2h-9zM822 152h9v2h-9zM633 166h10v2h-10zM624 171h9v2h-9zM737 171h9v2h-9zM586 178h9v2h-9zM775 178h9v2h-9zM595 180h10v2h-10z"/><path fill="#00afff" d="M180 147h10v2h-10zM294 147h9v2h-9zM407 147h9v2h-9zM444 147h10v2h-10zM671 147h9v2h-9zM784 147h9v2h-9zM143 166h9v2h-9zM218 166h10v2h-10zM331 166h10v2h-10zM558 166h9v2h-9zM784 166h9v2h-9zM586 171h9v2h-9zM775 171h9v2h-9zM812 171h10v2h-10zM492 279h9v8h-9zM643 279h9v8h-9zM492 287h9v10h-9z"/><path fill="#00dfff" d="M143 149h9v3h-9zM180 149h10v3h-10zM218 149h10v3h-10zM256 149h9v3h-9zM294 149h9v3h-9zM331 149h10v3h-10zM369 149h9v3h-9zM407 149h9v3h-9zM444 149h10v3h-10zM482 149h10v3h-10zM520 149h9v3h-9zM558 149h9v3h-9zM595 149h10v3h-10zM633 149h10v3h-10zM671 149h9v3h-9zM709 149h9v3h-9zM746 149h10v3h-10zM784 149h9v3h-9zM822 149h9v3h-9zM180 168h10v3h-10zM586 173h9v2h-9zM218 180h10v2h-10zM256 180h9v2h-9zM369 180h9v2h-9zM444 180h10v2h-10zM482 180h10v2h-10zM671 180h9v2h-9zM709 180h9v2h-9zM746 180h10v2h-10zM784 180h9v2h-9z"/><path fill="#008fff" d="M180 166h10v2h-10zM294 166h9v2h-9zM671 166h9v2h-9zM699 173h10v2h-10zM369 182h9v3h-9zM520 182h9v3h-9zM784 182h9v3h-9zM416 279h10v8h-10zM680 279h10v8h-10zM265 287h10v10h-10zM303 287h9v10h-9zM341 287h9v10h-9zM643 287h9v10h-9zM756 287h9v10h-9z"/><path fill="#009fff" d="M256 166h9v2h-9zM369 166h9v2h-9zM444 166h10v2h-10zM482 166h10v2h-10zM520 166h9v2h-9zM595 166h10v2h-10zM709 166h9v2h-9zM746 166h10v2h-10zM822 166h9v2h-9zM699 175h10v3h-10zM444 182h10v3h-10zM633 182h10v3h-10zM709 182h9v3h-9zM822 182h9v3h-9zM265 279h10v8h-10zM341 279h9v8h-9zM793 279h10v8h-10zM793 287h10v10h-10z"/><path fill="#10ffef" d="M143 168h9v3h-9zM482 168h10v3h-10zM558 168h9v3h-9zM633 168h10v3h-10z"/><path fill="#00ffff" d="M218 168h10v3h-10zM369 168h9v3h-9zM407 168h9v3h-9zM444 168h10v3h-10zM595 168h10v3h-10zM709 168h9v3h-9zM746 168h10v3h-10zM784 168h9v3h-9zM822 168h9v3h-9zM624 175h9v3h-9zM737 175h9v3h-9zM812 175h10v3h-10zM624 173h9v2h-9zM737 173h9v2h-9zM812 173h10v2h-10z"/><path fill="#00efff" d="M256 168h9v3h-9zM294 168h9v3h-9zM331 168h10v3h-10zM520 168h9v3h-9zM671 168h9v3h-9zM586 175h9v3h-9zM775 175h9v3h-9zM775 173h9v2h-9zM143 180h9v2h-9zM558 180h9v2h-9z"/><path fill="#60ff9f" d="M143 171h9v2h-9zM369 171h9v2h-9zM180 173h10v2h-10zM256 173h9v2h-9zM294 173h9v2h-9zM407 173h9v2h-9zM520 173h9v2h-9zM595 173h10v2h-10zM709 173h9v2h-9zM256 175h9v3h-9zM709 175h9v3h-9z"/><path fill="#30ffcf" d="M180 171h10v2h-10zM294 171h9v2h-9zM407 171h9v2h-9zM595 171h10v2h-10zM218 178h10v2h-10zM256 178h9v2h-9zM331 178h10v2h-10zM444 178h10v2h-10zM520 178h9v2h-9zM558 178h9v2h-9zM671 178h9v2h-9zM709 178h9v2h-9z"/><path fill="#40ffbf" d="M218 171h10v2h-10zM256 171h9v2h-9zM520 171h9v2h-9zM709 171h9v2h-9zM369 178h9v2h-9zM482 178h10v2h-10zM633 178h10v2h-10zM746 178h10v2h-10zM784 178h9v2h-9zM822 178h9v2h-9z"/><path fill="#50ffaf" d="M331 171h10v2h-10zM444 171h10v2h-10zM482 171h10v2h-10zM558 171h9v2h-9zM633 171h10v2h-10zM671 171h9v2h-9zM746 171h10v2h-10zM784 171h9v2h-9zM822 171h9v2h-9zM143 178h9v2h-9zM180 175h10v3h-10zM294 175h9v3h-9zM407 175h9v3h-9zM520 175h9v3h-9zM595 175h10v3h-10z"/><path fill="#8fff70" d="M143 173h9v2h-9zM143 175h9v3h-9z"/><path fill="#70ff8f" d="M218 173h10v2h-10zM331 173h10v2h-10zM444 173h10v2h-10zM671 173h9v2h-9zM218 175h10v3h-10zM331 175h10v3h-10zM444 175h10v3h-10zM482 175h10v3h-10zM558 175h9v3h-9zM633 175h10v3h-10zM671 175h9v3h-9zM746 175h10v3h-10zM784 175h9v3h-9zM822 175h9v3h-9z"/><path fill="#80ff80" d="M369 173h9v2h-9zM482 173h10v2h-10zM558 173h9v2h-9zM633 173h10v2h-10zM746 173h10v2h-10zM784 173h9v2h-9zM822 173h9v2h-9zM369 175h9v3h-9z"/><path fill="#20ffdf" d="M180 178h10v2h-10zM294 178h9v2h-9zM407 178h9v2h-9zM595 178h10v2h-10z"/><path fill="#00cfff" d="M624 178h9v2h-9zM737 178h9v2h-9zM812 178h10v2h-10zM180 180h10v2h-10zM294 180h9v2h-9zM331 180h10v2h-10zM407 180h9v2h-9zM520 180h9v2h-9zM633 180h10v2h-10zM822 180h9v2h-9z"/></g>
<g stroke="#262626" stroke-width="1" fill="none" shape-rendering="crispEdges">
<path d="M849.5 58.0V319.6M133.5 319.5h-4.5M849.5 319.5h4.5M133.5 315.5h-4.5M849.5 315.5h4.5M133.5 311.5h-4.5M849.5 311.5h4.5M133.5 307.5h-4.5M849.5 307.5h4.5M133.5 304.5h-8.0M849.5 304.5h8.0M133.5 283.5h-4.5M849.5 283.5h4.5M133.5 271.5h-4.5M849.5 271.5h4.5M133.5 263.5h-4.5M849.5 263.5h4.5M133.5 256.5h-4.5M849.5 256.5h4.5M133.5 251.5h-4.5M849.5 251.5h4.5M133.5 246.5h-4.5M849.5 246.5h4.5M133.5 242.5h-4.5M849.5 242.5h4.5M133.5 239.5h-4.5M849.5 239.5h4.5M133.5 236.5h-8.0M849.5 236.5h8.0M133.5 215.5h-4.5M849.5 215.5h4.5M133.5 203.5h-4.5M849.5 203.5h4.5M133.5 194.5h-4.5M849.5 194.5h4.5M133.5 188.5h-4.5M849.5 188.5h4.5M133.5 182.5h-4.5M849.5 182.5h4.5M133.5 178.5h-4.5M849.5 178.5h4.5M133.5 174.5h-4.5M849.5 174.5h4.5M133.5 170.5h-4.5M849.5 170.5h4.5M133.5 167.5h-8.0M849.5 167.5h8.0M133.5 147.5h-4.5M849.5 147.5h4.5M133.5 135.5h-4.5M849.5 135.5h4.5M133.5 126.5h-4.5M849.5 126.5h4.5M133.5 119.5h-4.5M849.5 119.5h4.5M133.5 114.5h-4.5M849.5 114.5h4.5M133.5 109.5h-4.5M849.5 109.5h4.5M133.5 105.5h-4.5M849.5 105.5h4.5M133.5 102.5h-4.5M849.5 102.5h4.5M133.5 99.5h-8.0M849.5 99.5h8.0M133.5 78.5h-4.5M849.5 78.5h4.5M133.5 66.5h-4.5M849.5 66.5h4.5M133.5 58.5h-4.5M849.5 58.5h4.5M133.5 58.0v-8.2M133.5 319.6v7.8M250.5 58.0v-8.2M250.5 319.6v7.8M368.5 58.0v-8.2M368.5 319.6v7.8M486.5 58.0v-8.2M486.5 319.6v7.8M604.5 58.0v-8.2M604.5 319.6v7.8M722.5 58.0v-8.2M722.5 319.6v7.8M840.5 58.0v-8.2M840.5 319.6v7.8"/>
</g>
<text x="90.2" y="105.1" font-size="17.50" textLength="56.2" lengthAdjust="spacingAndGlyphs" text-anchor="middle" fill="#262626">10000</text>
<text x="90.2" y="173.6" font-size="17.50" textLength="44.2" lengthAdjust="spacingAndGlyphs" text-anchor="middle" fill="#262626">1000</text>
<text x="90.2" y="241.8" font-size="17.50" textLength="33.4" lengthAdjust="spacingAndGlyphs" text-anchor="middle" fill="#262626">100</text>
<text x="90.2" y="310.3" font-size="17.50" textLength="21.6" lengthAdjust="spacingAndGlyphs" text-anchor="middle" fill="#262626">10</text>
<text x="133.3" y="351.2" font-size="17.50" textLength="50.8" lengthAdjust="spacingAndGlyphs" text-anchor="middle" fill="#262626">04:00</text>
<text x="251.2" y="351.2" font-size="17.50" textLength="50.8" lengthAdjust="spacingAndGlyphs" text-anchor="middle" fill="#262626">04:10</text>
<text x="369.1" y="351.2" font-size="17.50" textLength="50.8" lengthAdjust="spacingAndGlyphs" text-anchor="middle" fill="#262626">04:20</text>
<text x="486.9" y="351.2" font-size="17.50" textLength="50.8" lengthAdjust="spacingAndGlyphs" text-anchor="middle" fill="#262626">04:30</text>
<text x="604.8" y="351.2" font-size="17.50" textLength="50.8" lengthAdjust="spacingAndGlyphs" text-anchor="middle" fill="#262626">04:40</text>
<text x="722.7" y="351.2" font-size="17.50" textLength="50.8" lengthAdjust="spacingAndGlyphs" text-anchor="middle" fill="#262626">04:50</text>
<text x="840.6" y="351.2" font-size="17.50" textLength="50.8" lengthAdjust="spacingAndGlyphs" text-anchor="middle" fill="#262626">05:00</text>
<text x="491.3" y="375.9" font-size="19.50" textLength="48.3" lengthAdjust="spacingAndGlyphs" text-anchor="middle" fill="#262626">Time</text>
<text x="52.2" y="188.8" font-size="19.50" textLength="116.0" lengthAdjust="spacingAndGlyphs" text-anchor="middle" fill="#262626" transform="rotate(-90 52.2 188.8)">Energy (eV)</text>
<text x="837.5" y="46.8" font-size="17.50" textLength="97.8" lengthAdjust="spacingAndGlyphs" text-anchor="start" fill="#000">Log counts</text>
<defs><linearGradient id="jet0" x1="0" y1="1" x2="0" y2="0"><stop offset="0.0078" stop-color="#00008f"/><stop offset="0.0234" stop-color="#00009f"/><stop offset="0.0391" stop-color="#0000af"/><stop offset="0.0547" stop-color="#0000bf"/><stop offset="0.0703" stop-color="#0000cf"/><stop offset="0.0859" stop-color="#0000df"/><stop offset="0.1016" stop-color="#0000ef"/><stop offset="0.1172" stop-color="#0000ff"/><stop offset="0.1328" stop-color="#0010ff"/><stop offset="0.1484" stop-color="#0020ff"/><stop offset="0.1641" stop-color="#0030ff"/><stop offset="0.1797" stop-color="#0040ff"/><stop offset="0.1953" stop-color="#0050ff"/><stop offset="0.2109" stop-color="#0060ff"/><stop offset="0.2266" stop-color="#0070ff"/><stop offset="0.2422" stop-color="#0080ff"/><stop offset="0.2578" stop-color="#008fff"/><stop offset="0.2734" stop-color="#009fff"/><stop offset="0.2891" stop-color="#00afff"/><stop offset="0.3047" stop-color="#00bfff"/><stop offset="0.3203" stop-color="#00cfff"/><stop offset="0.3359" stop-color="#00dfff"/><stop offset="0.3516" stop-color="#00efff"/><stop offset="0.3672" stop-color="#00ffff"/><stop offset="0.3828" stop-color="#10ffef"/><stop offset="0.3984" stop-color="#20ffdf"/><stop offset="0.4141" stop-color="#30ffcf"/><stop offset="0.4297" stop-color="#40ffbf"/><stop offset="0.4453" stop-color="#50ffaf"/><stop offset="0.4609" stop-color="#60ff9f"/><stop offset="0.4766" stop-color="#70ff8f"/><stop offset="0.4922" stop-color="#80ff80"/><stop offset="0.5078" stop-color="#8fff70"/><stop offset="0.5234" stop-color="#9fff60"/><stop offset="0.5391" stop-color="#afff50"/><stop offset="0.5547" stop-color="#bfff40"/><stop offset="0.5703" stop-color="#cfff30"/><stop offset="0.5859" stop-color="#dfff20"/><stop offset="0.6016" stop-color="#efff10"/><stop offset="0.6172" stop-color="#ffff00"/><stop offset="0.6328" stop-color="#ffef00"/><stop offset="0.6484" stop-color="#ffdf00"/><stop offset="0.6641" stop-color="#ffcf00"/><stop offset="0.6797" stop-color="#ffbf00"/><stop offset="0.6953" stop-color="#ffaf00"/><stop offset="0.7109" stop-color="#ff9f00"/><stop offset="0.7266" stop-color="#ff8f00"/><stop offset="0.7422" stop-color="#ff8000"/><stop offset="0.7578" stop-color="#ff7000"/><stop offset="0.7734" stop-color="#ff6000"/><stop offset="0.7891" stop-color="#ff5000"/><stop offset="0.8047" stop-color="#ff4000"/><stop offset="0.8203" stop-color="#ff3000"/><stop offset="0.8359" stop-color="#ff2000"/><stop offset="0.8516" stop-color="#ff1000"/><stop offset="0.8672" stop-color="#ff0000"/><stop offset="0.8828" stop-color="#ef0000"/><stop offset="0.8984" stop-color="#df0000"/><stop offset="0.9141" stop-color="#cf0000"/><stop offset="0.9297" stop-color="#bf0000"/><stop offset="0.9453" stop-color="#af0000"/><stop offset="0.9609" stop-color="#9f0000"/><stop offset="0.9766" stop-color="#8f0000"/><stop offset="0.9922" stop-color="#800000"/></linearGradient></defs><rect x="874.4" y="58.0" width="23.4" height="261.6" fill="url(#jet0)"/>
<rect x="874.4" y="58.0" width="23.4" height="261.6" fill="none" stroke="#262626" stroke-width="1"/>
<path d="M897.8 267.5h-3M897.8 214.5h-3M897.8 162.5h-3M897.8 110.5h-3" stroke="#262626" stroke-width="1" shape-rendering="crispEdges"/>
<text x="905.0" y="325.9" font-size="17.50" textLength="9.5" lengthAdjust="spacingAndGlyphs" text-anchor="start" fill="#262626">0</text>
<text x="905.0" y="273.6" font-size="17.50" textLength="9.5" lengthAdjust="spacingAndGlyphs" text-anchor="start" fill="#262626">1</text>
<text x="905.0" y="221.3" font-size="17.50" textLength="9.5" lengthAdjust="spacingAndGlyphs" text-anchor="start" fill="#262626">2</text>
<text x="905.0" y="168.9" font-size="17.50" textLength="9.5" lengthAdjust="spacingAndGlyphs" text-anchor="start" fill="#262626">3</text>
<text x="905.0" y="116.6" font-size="17.50" textLength="9.5" lengthAdjust="spacingAndGlyphs" text-anchor="start" fill="#262626">4</text>
<text x="905.0" y="64.3" font-size="17.50" textLength="9.5" lengthAdjust="spacingAndGlyphs" text-anchor="start" fill="#262626">5</text>
<path d="M133.5 422.5H849.5V683.5H133.5z" fill="none" stroke="#262626" stroke-width="1" shape-rendering="crispEdges"/>
<g shape-rendering="crispEdges"><path fill="#00009f" d="M133 422h10v2h-10zM152 422h10v2h-10zM199 422h10v2h-10zM246 422h10v2h-10zM322 422h9v2h-9zM426 422h9v2h-9zM482 422h19v2h-19zM529 422h10v2h-10zM699 422h19v2h-19zM746 422h10v2h-10zM463 429h10v2h-10zM727 429h10v2h-10zM775 429h9v2h-9zM341 434h9v2h-9zM492 434h9v2h-9zM718 434h9v2h-9zM171 436h9v2h-9zM360 436h9v2h-9zM539 436h9v2h-9zM558 436h9v2h-9zM171 441h9v2h-9zM218 441h10v2h-10zM256 441h9v2h-9zM341 441h9v2h-9zM388 441h9v2h-9zM426 441h9v2h-9zM501 441h9v2h-9zM529 441h10v2h-10zM567 441h10v2h-10zM152 443h10v2h-10zM190 443h9v2h-9zM407 443h9v2h-9zM492 443h9v2h-9zM548 443h10v2h-10zM784 443h9v2h-9zM162 448h9v2h-9zM294 448h9v2h-9zM426 448h9v2h-9zM737 448h9v2h-9zM784 448h19v2h-19zM294 450h9v2h-9zM529 450h10v2h-10zM586 450h9v2h-9zM624 450h9v2h-9zM162 455h9v2h-9zM218 455h10v2h-10zM322 455h9v2h-9zM520 455h9v2h-9zM567 455h10v2h-10zM718 455h9v2h-9zM756 455h9v2h-9zM162 457h9v2h-9zM218 457h10v2h-10zM265 457h10v2h-10zM322 457h9v2h-9zM435 457h9v2h-9zM671 457h9v2h-9zM699 457h10v2h-10zM199 462h10v2h-10zM312 462h10v2h-10zM341 462h9v2h-9zM727 462h10v2h-10zM756 462h9v2h-9zM454 464h9v2h-9zM482 464h10v2h-10zM548 464h10v2h-10zM567 464h10v2h-10zM680 464h10v2h-10zM756 464h9v2h-9zM209 469h9v2h-9zM237 469h9v2h-9zM256 469h19v2h-19zM284 469h10v2h-10zM312 469h10v2h-10zM378 469h10v2h-10zM463 469h10v2h-10zM548 469h10v2h-10zM586 469h9v2h-9zM680 469h19v2h-19zM143 474h9v2h-9zM294 474h9v2h-9zM322 474h9v2h-9zM350 474h38v2h-38zM416 474h10v2h-10zM482 474h10v2h-10zM501 474h9v2h-9zM643 474h9v2h-9zM756 474h9v2h-9zM180 476h10v2h-10zM360 476h9v2h-9zM463 476h10v2h-10zM529 476h19v2h-19zM727 476h10v2h-10zM812 476h10v2h-10zM303 481h9v2h-9zM444 481h10v2h-10zM473 481h19v2h-19zM718 481h9v2h-9zM803 481h9v2h-9zM237 483h9v2h-9zM331 483h10v2h-10zM388 483h9v2h-9zM407 483h9v2h-9zM510 483h19v2h-19zM595 483h10v2h-10zM614 483h19v2h-19zM643 483h9v2h-9zM690 483h9v2h-9zM718 483h9v2h-9zM775 483h9v2h-9zM180 488h19v2h-19zM312 488h10v2h-10zM369 488h9v2h-9zM520 488h9v2h-9zM539 488h9v2h-9zM595 488h10v2h-10zM793 488h19v2h-19zM841 488h7v2h-7zM218 490h19v2h-19zM265 490h10v2h-10zM322 490h9v2h-9zM388 490h9v2h-9zM407 490h9v2h-9zM426 490h9v2h-9zM444 490h19v2h-19zM501 490h9v2h-9zM539 490h9v2h-9zM558 490h9v2h-9zM643 490h9v2h-9zM812 490h10v2h-10zM265 495h19v2h-19zM369 495h9v2h-9zM426 495h9v2h-9zM444 495h10v2h-10zM661 495h10v2h-10zM775 495h9v2h-9zM162 497h9v2h-9zM322 497h9v2h-9zM407 497h9v2h-9zM463 497h10v2h-10zM558 497h28v2h-28zM605 497h9v2h-9zM812 497h10v2h-10zM275 502h9v2h-9zM312 502h10v2h-10zM378 502h10v2h-10zM454 502h9v2h-9zM501 502h9v2h-9zM152 504h10v2h-10zM228 504h9v2h-9zM303 504h9v2h-9zM350 504h10v2h-10zM369 504h9v2h-9zM416 504h19v2h-19zM520 504h9v2h-9zM605 504h9v2h-9zM709 504h9v2h-9zM803 504h9v2h-9zM841 504h7v2h-7zM143 509h9v2h-9zM209 509h9v2h-9zM228 509h9v2h-9zM369 509h9v2h-9zM397 509h10v2h-10zM482 509h38v2h-38zM577 509h9v2h-9zM652 509h9v2h-9zM671 509h9v2h-9zM746 509h10v2h-10zM803 509h9v2h-9zM822 509h9v2h-9zM143 511h9v2h-9zM171 511h19v2h-19zM294 511h18v2h-18zM350 511h10v2h-10zM388 511h9v2h-9zM416 511h10v2h-10zM520 511h9v2h-9zM699 511h10v2h-10zM775 511h9v2h-9zM143 516h9v2h-9zM162 516h9v2h-9zM190 516h9v2h-9zM265 516h10v2h-10zM294 516h9v2h-9zM397 516h10v2h-10zM463 516h10v2h-10zM529 516h10v2h-10zM586 516h9v2h-9zM624 516h9v2h-9zM671 516h9v2h-9zM709 516h9v2h-9zM727 516h10v2h-10zM746 516h10v2h-10zM775 516h9v2h-9zM803 516h9v2h-9zM841 516h7v2h-7zM162 518h18v2h-18zM218 518h10v2h-10zM275 518h9v2h-9zM416 518h10v2h-10zM435 518h19v2h-19zM539 518h9v2h-9zM605 518h19v2h-19zM643 518h9v2h-9zM690 518h9v2h-9zM228 523h9v2h-9zM275 523h9v2h-9zM294 523h9v2h-9zM435 523h9v2h-9zM463 523h10v2h-10zM482 523h10v2h-10zM548 523h10v2h-10zM614 523h10v2h-10zM822 523h9v2h-9zM190 528h19v2h-19zM228 528h9v2h-9zM265 528h10v2h-10zM331 528h10v2h-10zM397 528h29v2h-29zM510 528h10v2h-10zM529 528h10v2h-10zM595 528h10v2h-10zM633 528h10v2h-10zM652 528h38v2h-38zM709 528h9v2h-9zM737 528h19v2h-19zM803 528h9v2h-9zM831 528h10v2h-10zM152 530h10v2h-10zM171 530h9v2h-9zM190 530h9v2h-9zM209 530h19v2h-19zM407 530h9v2h-9zM444 530h10v2h-10zM520 530h9v2h-9zM558 530h28v2h-28zM595 530h10v2h-10zM633 530h10v2h-10zM652 530h19v2h-19zM746 530h29v2h-29zM784 530h9v2h-9zM812 530h19v2h-19zM190 535h9v2h-9zM228 535h9v2h-9zM435 535h9v2h-9zM454 535h9v2h-9zM577 535h9v2h-9zM690 535h9v2h-9zM718 535h9v2h-9zM765 535h10v2h-10zM803 535h9v2h-9zM841 535h7v2h-7zM133 537h10v2h-10zM162 537h9v2h-9zM190 537h28v2h-28zM228 537h9v2h-9zM246 537h10v2h-10zM303 537h9v2h-9zM341 537h9v2h-9zM378 537h10v2h-10zM416 537h19v2h-19zM548 537h10v2h-10zM614 537h10v2h-10zM727 537h10v2h-10zM765 537h10v2h-10zM133 542h10v2h-10zM171 542h9v2h-9zM199 542h10v2h-10zM228 542h9v2h-9zM312 542h19v2h-19zM378 542h29v2h-29zM416 542h19v2h-19zM492 542h9v2h-9zM510 542h10v2h-10zM727 542h10v2h-10zM756 542h9v2h-9zM190 544h9v2h-9zM237 544h9v2h-9zM322 544h9v2h-9zM388 544h9v2h-9zM426 544h9v2h-9zM454 544h9v2h-9zM473 544h19v2h-19zM529 544h10v2h-10zM643 544h9v2h-9zM661 544h10v2h-10zM680 544h10v2h-10zM699 544h10v2h-10zM737 544h28v2h-28zM143 549h9v2h-9zM180 549h10v2h-10zM199 549h19v2h-19zM265 549h10v2h-10zM284 549h10v2h-10zM303 549h19v2h-19zM341 549h9v2h-9zM369 549h9v2h-9zM397 549h10v2h-10zM444 549h10v2h-10zM463 549h10v2h-10zM482 549h28v2h-28zM548 549h10v2h-10zM567 549h10v2h-10zM586 549h9v2h-9zM605 549h9v2h-9zM633 549h38v2h-38zM680 549h10v2h-10zM709 549h9v2h-9zM784 549h9v2h-9zM822 549h9v2h-9zM841 549h7v2h-7zM133 551h29v2h-29zM180 551h10v2h-10zM237 551h9v2h-9zM265 551h10v2h-10zM294 551h18v2h-18zM350 551h19v2h-19zM378 551h10v2h-10zM463 551h19v2h-19zM501 551h9v2h-9zM539 551h9v2h-9zM577 551h9v2h-9zM614 551h10v2h-10zM643 551h9v2h-9zM661 551h29v2h-29zM699 551h10v2h-10zM718 551h9v2h-9zM803 551h28v2h-28zM143 556h9v2h-9zM162 556h9v2h-9zM312 556h19v2h-19zM341 556h9v2h-9zM397 556h19v2h-19zM426 556h18v2h-18zM501 556h9v2h-9zM529 556h19v2h-19zM567 556h19v2h-19zM614 556h29v2h-29zM680 556h10v2h-10zM709 556h9v2h-9zM756 556h19v2h-19zM784 556h19v2h-19zM831 556h17v2h-17zM133 558h10v2h-10zM209 558h9v2h-9zM237 558h9v2h-9zM294 558h9v2h-9zM341 558h19v2h-19zM369 558h9v2h-9zM426 558h18v2h-18zM463 558h19v2h-19zM492 558h9v2h-9zM529 558h10v2h-10zM558 558h47v2h-47zM614 558h19v2h-19zM671 558h9v2h-9zM718 558h28v2h-28zM765 558h10v2h-10zM784 558h9v2h-9zM803 558h9v2h-9zM822 558h9v2h-9zM841 558h7v2h-7zM162 563h9v2h-9zM180 563h10v2h-10zM209 563h9v2h-9zM237 563h9v2h-9zM256 563h19v2h-19zM294 563h9v2h-9zM322 563h9v2h-9zM369 563h9v2h-9zM388 563h9v2h-9zM473 563h28v2h-28zM510 563h19v2h-19zM548 563h10v2h-10zM567 563h10v2h-10zM633 563h10v2h-10zM671 563h19v2h-19zM784 563h9v2h-9zM803 563h9v2h-9zM831 563h10v2h-10zM162 565h9v2h-9zM246 565h19v2h-19zM275 565h28v2h-28zM426 565h9v2h-9zM510 565h10v2h-10zM605 565h9v2h-9zM643 565h28v2h-28zM680 565h19v2h-19zM775 565h9v2h-9zM793 565h10v2h-10zM841 565h7v2h-7zM199 570h19v2h-19zM256 570h9v2h-9zM275 570h28v2h-28zM312 570h19v2h-19zM444 570h10v2h-10zM482 570h10v2h-10zM510 570h10v2h-10zM539 570h9v2h-9zM558 570h19v2h-19zM633 570h10v2h-10zM671 570h9v2h-9zM793 570h10v2h-10zM831 570h10v2h-10zM143 575h9v2h-9zM180 575h29v2h-29zM294 575h9v2h-9zM322 575h9v2h-9zM360 575h9v2h-9zM482 575h10v2h-10zM501 575h9v2h-9zM520 575h9v2h-9zM539 575h9v2h-9zM595 575h19v2h-19zM661 575h10v2h-10zM680 575h19v2h-19zM737 575h9v2h-9zM171 577h9v2h-9zM199 577h10v2h-10zM256 577h9v2h-9zM284 577h10v2h-10zM312 577h10v2h-10zM407 577h9v2h-9zM444 577h10v2h-10zM473 577h9v2h-9zM548 577h19v2h-19zM586 577h9v2h-9zM633 577h19v2h-19zM699 577h10v2h-10zM199 582h10v2h-10zM246 582h10v2h-10zM407 582h9v2h-9zM435 582h19v2h-19zM520 582h9v2h-9zM586 582h9v2h-9zM718 582h9v2h-9zM765 582h10v2h-10zM831 582h10v2h-10zM162 584h18v2h-18zM237 584h19v2h-19zM492 584h9v2h-9zM529 584h10v2h-10zM624 584h9v2h-9zM661 584h19v2h-19zM699 584h10v2h-10zM746 584h10v2h-10zM162 589h9v2h-9zM209 589h9v2h-9zM237 589h9v2h-9zM322 589h9v2h-9zM492 589h9v2h-9zM529 589h10v2h-10zM586 589h19v2h-19zM699 589h10v2h-10zM746 589h10v2h-10zM775 589h9v2h-9zM237 591h9v2h-9zM294 591h9v2h-9zM388 591h28v2h-28zM595 591h10v2h-10zM284 596h10v2h-10zM671 596h9v2h-9zM746 596h10v2h-10zM822 596h9v2h-9zM180 598h10v2h-10zM237 598h9v2h-9zM275 598h9v2h-9zM312 598h10v2h-10zM435 598h9v2h-9zM558 598h19v2h-19zM746 598h10v2h-10zM812 598h10v2h-10zM180 603h10v2h-10zM199 603h10v2h-10zM397 603h10v2h-10zM473 603h9v2h-9zM633 603h10v2h-10zM756 603h9v2h-9zM171 605h9v2h-9zM463 605h10v2h-10zM529 605h10v2h-10zM680 610h10v2h-10zM162 424h9v3h-9zM312 424h10v3h-10zM426 424h9v3h-9zM699 424h10v3h-10zM143 431h9v3h-9zM218 431h10v3h-10zM341 431h9v3h-9zM680 431h10v3h-10zM162 438h9v3h-9zM350 438h10v3h-10zM492 438h9v3h-9zM586 438h9v3h-9zM633 438h10v3h-10zM699 438h10v3h-10zM718 438h9v3h-9zM246 445h10v3h-10zM426 445h9v3h-9zM529 445h10v3h-10zM577 445h18v3h-18zM605 445h19v3h-19zM718 445h9v3h-9zM784 445h19v3h-19zM218 452h19v3h-19zM388 452h9v3h-9zM444 452h10v3h-10zM567 452h10v3h-10zM605 452h9v3h-9zM661 452h10v3h-10zM171 459h28v3h-28zM369 459h9v3h-9zM426 459h9v3h-9zM454 459h9v3h-9zM595 459h10v3h-10zM680 459h10v3h-10zM737 459h9v3h-9zM180 466h10v3h-10zM275 466h9v3h-9zM331 466h10v3h-10zM369 466h9v3h-9zM463 466h10v3h-10zM482 466h10v3h-10zM586 466h9v3h-9zM680 466h10v3h-10zM718 466h9v3h-9zM841 466h7v3h-7zM199 471h10v3h-10zM294 471h9v3h-9zM510 471h19v3h-19zM586 471h9v3h-9zM746 471h10v3h-10zM841 471h7v3h-7zM171 478h9v3h-9zM256 478h9v3h-9zM501 478h9v3h-9zM548 478h10v3h-10zM577 478h28v3h-28zM671 478h9v3h-9zM690 478h9v3h-9zM718 478h9v3h-9zM831 478h10v3h-10zM275 485h9v3h-9zM331 485h10v3h-10zM388 485h9v3h-9zM416 485h10v3h-10zM463 485h10v3h-10zM614 485h10v3h-10zM633 485h10v3h-10zM680 485h10v3h-10zM775 485h9v3h-9zM831 485h10v3h-10zM143 492h9v3h-9zM180 492h10v3h-10zM209 492h9v3h-9zM256 492h9v3h-9zM275 492h9v3h-9zM341 492h9v3h-9zM482 492h10v3h-10zM567 492h10v3h-10zM624 492h9v3h-9zM690 492h9v3h-9zM737 492h9v3h-9zM756 492h9v3h-9zM812 492h10v3h-10zM199 499h10v3h-10zM218 499h10v3h-10zM237 499h9v3h-9zM312 499h10v3h-10zM331 499h10v3h-10zM407 499h9v3h-9zM605 499h9v3h-9zM671 499h19v3h-19zM143 506h9v3h-9zM162 506h9v3h-9zM190 506h9v3h-9zM218 506h10v3h-10zM331 506h10v3h-10zM360 506h9v3h-9zM397 506h10v3h-10zM435 506h9v3h-9zM482 506h10v3h-10zM595 506h10v3h-10zM643 506h18v3h-18zM727 506h10v3h-10zM775 506h9v3h-9zM793 506h10v3h-10zM152 513h10v3h-10zM190 513h9v3h-9zM388 513h9v3h-9zM444 513h10v3h-10zM482 513h10v3h-10zM614 513h19v3h-19zM709 513h9v3h-9zM727 513h10v3h-10zM746 513h10v3h-10zM143 520h9v3h-9zM199 520h10v3h-10zM322 520h9v3h-9zM416 520h10v3h-10zM444 520h10v3h-10zM510 520h10v3h-10zM539 520h19v3h-19zM595 520h10v3h-10zM633 520h10v3h-10zM661 520h10v3h-10zM690 520h9v3h-9zM727 520h10v3h-10zM793 520h19v3h-19zM133 525h10v3h-10zM180 525h10v3h-10zM246 525h10v3h-10zM312 525h10v3h-10zM350 525h10v3h-10zM388 525h19v3h-19zM416 525h10v3h-10zM482 525h10v3h-10zM520 525h9v3h-9zM548 525h10v3h-10zM671 525h9v3h-9zM718 525h9v3h-9zM765 525h10v3h-10zM171 532h9v3h-9zM237 532h9v3h-9zM312 532h19v3h-19zM341 532h9v3h-9zM360 532h9v3h-9zM388 532h19v3h-19zM426 532h9v3h-9zM454 532h19v3h-19zM529 532h10v3h-10zM643 532h9v3h-9zM718 532h19v3h-19zM831 532h17v3h-17zM228 539h9v3h-9zM246 539h10v3h-10zM275 539h9v3h-9zM322 539h9v3h-9zM350 539h10v3h-10zM397 539h10v3h-10zM529 539h10v3h-10zM548 539h10v3h-10zM605 539h9v3h-9zM690 539h9v3h-9zM765 539h10v3h-10zM803 539h9v3h-9zM831 539h10v3h-10zM171 546h19v3h-19zM209 546h19v3h-19zM237 546h9v3h-9zM275 546h19v3h-19zM350 546h10v3h-10zM369 546h19v3h-19zM397 546h19v3h-19zM426 546h9v3h-9zM454 546h9v3h-9zM473 546h28v3h-28zM520 546h9v3h-9zM539 546h9v3h-9zM558 546h9v3h-9zM577 546h9v3h-9zM595 546h19v3h-19zM624 546h9v3h-9zM643 546h9v3h-9zM756 546h19v3h-19zM784 546h19v3h-19zM133 553h10v3h-10zM190 553h9v3h-9zM237 553h9v3h-9zM256 553h19v3h-19zM350 553h10v3h-10zM397 553h10v3h-10zM416 553h10v3h-10zM454 553h9v3h-9zM492 553h18v3h-18zM539 553h9v3h-9zM671 553h9v3h-9zM690 553h9v3h-9zM727 553h10v3h-10zM756 553h19v3h-19zM803 553h9v3h-9zM822 553h19v3h-19zM237 560h9v3h-9zM265 560h19v3h-19zM322 560h9v3h-9zM360 560h9v3h-9zM388 560h9v3h-9zM407 560h9v3h-9zM435 560h19v3h-19zM510 560h19v3h-19zM539 560h28v3h-28zM614 560h19v3h-19zM661 560h10v3h-10zM709 560h9v3h-9zM737 560h9v3h-9zM784 560h19v3h-19zM812 560h10v3h-10zM831 560h10v3h-10zM152 567h10v3h-10zM180 567h38v3h-38zM228 567h9v3h-9zM275 567h19v3h-19zM426 567h9v3h-9zM529 567h10v3h-10zM548 567h10v3h-10zM605 567h9v3h-9zM624 567h9v3h-9zM709 567h9v3h-9zM737 567h9v3h-9zM756 567h19v3h-19zM793 567h29v3h-29zM162 572h18v3h-18zM275 572h9v3h-9zM322 572h9v3h-9zM350 572h10v3h-10zM407 572h9v3h-9zM492 572h9v3h-9zM510 572h29v3h-29zM624 572h9v3h-9zM643 572h9v3h-9zM661 572h19v3h-19zM709 572h9v3h-9zM756 572h9v3h-9zM822 572h9v3h-9zM199 579h19v3h-19zM237 579h19v3h-19zM294 579h9v3h-9zM350 579h10v3h-10zM369 579h9v3h-9zM407 579h9v3h-9zM444 579h10v3h-10zM463 579h38v3h-38zM595 579h10v3h-10zM699 579h10v3h-10zM812 579h10v3h-10zM831 579h10v3h-10zM133 586h10v3h-10zM275 586h9v3h-9zM350 586h10v3h-10zM435 586h9v3h-9zM492 586h9v3h-9zM586 586h9v3h-9zM605 586h19v3h-19zM661 586h10v3h-10zM709 586h18v3h-18zM784 586h9v3h-9zM199 593h10v3h-10zM322 593h9v3h-9zM360 593h9v3h-9zM435 593h9v3h-9zM510 593h10v3h-10zM567 593h10v3h-10zM709 593h9v3h-9zM775 593h9v3h-9zM407 600h9v3h-9zM426 600h9v3h-9zM492 600h9v3h-9zM680 600h10v3h-10zM699 600h10v3h-10zM209 607h9v3h-9zM407 612h9v3h-9zM633 612h10v3h-10zM699 612h10v3h-10zM388 615h9v3h-9zM775 615h9v3h-9zM510 618h10v3h-10zM558 618h9v3h-9z"/><path fill="#00008f" d="M143 422h9v2h-9zM162 422h9v2h-9zM218 422h19v2h-19zM284 422h38v2h-38zM350 422h19v2h-19zM378 422h29v2h-29zM444 422h19v2h-19zM473 422h9v2h-9zM501 422h9v2h-9zM539 422h28v2h-28zM586 422h28v2h-28zM624 422h9v2h-9zM643 422h18v2h-18zM671 422h28v2h-28zM718 422h9v2h-9zM737 422h9v2h-9zM765 422h10v2h-10zM784 422h38v2h-38zM831 422h17v2h-17zM133 427h10v2h-10zM152 427h10v2h-10zM209 427h28v2h-28zM246 427h48v2h-48zM312 427h10v2h-10zM341 427h9v2h-9zM360 427h18v2h-18zM397 427h10v2h-10zM416 427h28v2h-28zM454 427h9v2h-9zM473 427h37v2h-37zM539 427h19v2h-19zM567 427h10v2h-10zM605 427h47v2h-47zM661 427h29v2h-29zM718 427h19v2h-19zM746 427h19v2h-19zM775 427h9v2h-9zM803 427h38v2h-38zM133 429h38v2h-38zM218 429h10v2h-10zM275 429h9v2h-9zM294 429h18v2h-18zM331 429h38v2h-38zM397 429h29v2h-29zM444 429h10v2h-10zM473 429h9v2h-9zM501 429h19v2h-19zM529 429h19v2h-19zM558 429h47v2h-47zM633 429h10v2h-10zM652 429h9v2h-9zM671 429h28v2h-28zM718 429h9v2h-9zM746 429h10v2h-10zM784 429h9v2h-9zM803 429h45v2h-45zM133 434h10v2h-10zM162 434h18v2h-18zM190 434h75v2h-75zM284 434h19v2h-19zM322 434h19v2h-19zM350 434h28v2h-28zM388 434h56v2h-56zM454 434h9v2h-9zM473 434h9v2h-9zM510 434h10v2h-10zM529 434h38v2h-38zM577 434h28v2h-28zM614 434h19v2h-19zM643 434h9v2h-9zM661 434h19v2h-19zM690 434h19v2h-19zM727 434h19v2h-19zM756 434h9v2h-9zM775 434h9v2h-9zM793 434h29v2h-29zM841 434h7v2h-7zM143 436h9v2h-9zM162 436h9v2h-9zM180 436h95v2h-95zM284 436h28v2h-28zM322 436h9v2h-9zM341 436h9v2h-9zM369 436h38v2h-38zM444 436h38v2h-38zM492 436h9v2h-9zM529 436h10v2h-10zM567 436h28v2h-28zM605 436h19v2h-19zM633 436h10v2h-10zM652 436h28v2h-28zM690 436h37v2h-37zM737 436h66v2h-66zM812 436h36v2h-36zM133 441h19v2h-19zM180 441h10v2h-10zM228 441h28v2h-28zM284 441h19v2h-19zM312 441h10v2h-10zM360 441h28v2h-28zM397 441h10v2h-10zM416 441h10v2h-10zM435 441h57v2h-57zM520 441h9v2h-9zM539 441h19v2h-19zM586 441h28v2h-28zM624 441h9v2h-9zM643 441h18v2h-18zM671 441h28v2h-28zM709 441h28v2h-28zM765 441h28v2h-28zM803 441h9v2h-9zM822 441h19v2h-19zM162 443h18v2h-18zM209 443h19v2h-19zM256 443h38v2h-38zM322 443h9v2h-9zM341 443h19v2h-19zM369 443h38v2h-38zM426 443h47v2h-47zM482 443h10v2h-10zM510 443h38v2h-38zM558 443h75v2h-75zM643 443h18v2h-18zM671 443h47v2h-47zM727 443h19v2h-19zM765 443h10v2h-10zM793 443h10v2h-10zM133 448h29v2h-29zM171 448h9v2h-9zM190 448h9v2h-9zM209 448h37v2h-37zM256 448h9v2h-9zM275 448h9v2h-9zM303 448h9v2h-9zM322 448h19v2h-19zM360 448h18v2h-18zM388 448h9v2h-9zM407 448h19v2h-19zM435 448h47v2h-47zM501 448h38v2h-38zM548 448h19v2h-19zM577 448h9v2h-9zM595 448h19v2h-19zM643 448h9v2h-9zM661 448h19v2h-19zM699 448h10v2h-10zM727 448h10v2h-10zM765 448h10v2h-10zM803 448h38v2h-38zM162 450h9v2h-9zM199 450h10v2h-10zM218 450h10v2h-10zM246 450h29v2h-29zM303 450h9v2h-9zM322 450h28v2h-28zM360 450h47v2h-47zM416 450h10v2h-10zM454 450h9v2h-9zM482 450h10v2h-10zM520 450h9v2h-9zM548 450h10v2h-10zM567 450h19v2h-19zM595 450h10v2h-10zM633 450h28v2h-28zM680 450h10v2h-10zM718 450h47v2h-47zM775 450h47v2h-47zM831 450h10v2h-10zM133 455h10v2h-10zM152 455h10v2h-10zM180 455h29v2h-29zM265 455h10v2h-10zM294 455h9v2h-9zM331 455h10v2h-10zM369 455h38v2h-38zM426 455h28v2h-28zM463 455h10v2h-10zM529 455h10v2h-10zM558 455h9v2h-9zM586 455h9v2h-9zM605 455h56v2h-56zM671 455h28v2h-28zM709 455h9v2h-9zM746 455h10v2h-10zM765 455h10v2h-10zM803 455h19v2h-19zM831 455h17v2h-17zM133 457h10v2h-10zM171 457h9v2h-9zM256 457h9v2h-9zM275 457h19v2h-19zM312 457h10v2h-10zM331 457h19v2h-19zM369 457h57v2h-57zM454 457h75v2h-75zM548 457h10v2h-10zM567 457h28v2h-28zM605 457h9v2h-9zM624 457h19v2h-19zM652 457h19v2h-19zM680 457h19v2h-19zM718 457h9v2h-9zM737 457h28v2h-28zM775 457h18v2h-18zM803 457h9v2h-9zM822 457h26v2h-26zM133 462h66v2h-66zM209 462h103v2h-103zM322 462h19v2h-19zM350 462h57v2h-57zM416 462h19v2h-19zM444 462h283v2h-283zM737 462h19v2h-19zM765 462h83v2h-83zM133 464h57v2h-57zM199 464h227v2h-227zM435 464h19v2h-19zM463 464h19v2h-19zM492 464h47v2h-47zM558 464h9v2h-9zM577 464h94v2h-94zM690 464h66v2h-66zM765 464h28v2h-28zM812 464h36v2h-36zM133 469h76v2h-76zM218 469h10v2h-10zM246 469h10v2h-10zM275 469h9v2h-9zM294 469h18v2h-18zM322 469h38v2h-38zM369 469h9v2h-9zM388 469h75v2h-75zM473 469h66v2h-66zM558 469h28v2h-28zM595 469h85v2h-85zM699 469h149v2h-149zM133 474h10v2h-10zM152 474h142v2h-142zM303 474h19v2h-19zM331 474h19v2h-19zM388 474h28v2h-28zM426 474h28v2h-28zM463 474h19v2h-19zM492 474h9v2h-9zM510 474h133v2h-133zM652 474h104v2h-104zM765 474h83v2h-83zM133 476h47v2h-47zM190 476h28v2h-28zM228 476h75v2h-75zM312 476h48v2h-48zM369 476h94v2h-94zM473 476h56v2h-56zM548 476h66v2h-66zM624 476h9v2h-9zM643 476h37v2h-37zM690 476h37v2h-37zM737 476h75v2h-75zM822 476h26v2h-26zM133 481h47v2h-47zM190 481h9v2h-9zM209 481h94v2h-94zM312 481h132v2h-132zM454 481h19v2h-19zM492 481h226v2h-226zM727 481h76v2h-76zM812 481h36v2h-36zM133 483h57v2h-57zM199 483h38v2h-38zM246 483h10v2h-10zM265 483h66v2h-66zM341 483h47v2h-47zM397 483h10v2h-10zM416 483h94v2h-94zM529 483h66v2h-66zM605 483h9v2h-9zM633 483h10v2h-10zM652 483h38v2h-38zM699 483h19v2h-19zM727 483h48v2h-48zM784 483h9v2h-9zM803 483h45v2h-45zM133 488h47v2h-47zM199 488h113v2h-113zM322 488h9v2h-9zM350 488h19v2h-19zM378 488h29v2h-29zM416 488h104v2h-104zM529 488h10v2h-10zM548 488h19v2h-19zM577 488h18v2h-18zM605 488h188v2h-188zM812 488h29v2h-29zM133 490h66v2h-66zM209 490h9v2h-9zM237 490h28v2h-28zM275 490h47v2h-47zM331 490h57v2h-57zM416 490h10v2h-10zM435 490h9v2h-9zM463 490h38v2h-38zM510 490h29v2h-29zM548 490h10v2h-10zM567 490h76v2h-76zM652 490h160v2h-160zM822 490h26v2h-26zM133 495h132v2h-132zM284 495h38v2h-38zM331 495h38v2h-38zM378 495h48v2h-48zM435 495h9v2h-9zM454 495h47v2h-47zM510 495h19v2h-19zM539 495h75v2h-75zM624 495h37v2h-37zM671 495h66v2h-66zM746 495h29v2h-29zM784 495h9v2h-9zM803 495h45v2h-45zM133 497h29v2h-29zM171 497h19v2h-19zM199 497h123v2h-123zM331 497h76v2h-76zM416 497h47v2h-47zM473 497h85v2h-85zM586 497h19v2h-19zM614 497h198v2h-198zM822 497h26v2h-26zM133 502h142v2h-142zM284 502h28v2h-28zM322 502h56v2h-56zM388 502h66v2h-66zM463 502h38v2h-38zM510 502h95v2h-95zM614 502h29v2h-29zM661 502h187v2h-187zM133 504h19v2h-19zM162 504h66v2h-66zM237 504h57v2h-57zM312 504h38v2h-38zM360 504h9v2h-9zM378 504h38v2h-38zM435 504h85v2h-85zM529 504h76v2h-76zM614 504h19v2h-19zM643 504h66v2h-66zM718 504h85v2h-85zM812 504h10v2h-10zM831 504h10v2h-10zM133 509h10v2h-10zM152 509h57v2h-57zM218 509h10v2h-10zM237 509h132v2h-132zM378 509h19v2h-19zM407 509h75v2h-75zM520 509h57v2h-57zM586 509h47v2h-47zM643 509h9v2h-9zM661 509h10v2h-10zM680 509h10v2h-10zM699 509h47v2h-47zM756 509h47v2h-47zM812 509h10v2h-10zM831 509h17v2h-17zM133 511h10v2h-10zM152 511h19v2h-19zM190 511h9v2h-9zM209 511h85v2h-85zM312 511h38v2h-38zM360 511h28v2h-28zM397 511h19v2h-19zM426 511h94v2h-94zM529 511h38v2h-38zM577 511h122v2h-122zM709 511h66v2h-66zM784 511h64v2h-64zM133 516h10v2h-10zM171 516h19v2h-19zM199 516h10v2h-10zM218 516h47v2h-47zM275 516h19v2h-19zM303 516h9v2h-9zM322 516h75v2h-75zM407 516h56v2h-56zM473 516h56v2h-56zM539 516h47v2h-47zM595 516h29v2h-29zM633 516h38v2h-38zM680 516h29v2h-29zM718 516h9v2h-9zM737 516h9v2h-9zM756 516h19v2h-19zM784 516h19v2h-19zM812 516h29v2h-29zM133 518h29v2h-29zM180 518h38v2h-38zM228 518h28v2h-28zM265 518h10v2h-10zM284 518h94v2h-94zM388 518h28v2h-28zM426 518h9v2h-9zM454 518h85v2h-85zM548 518h57v2h-57zM624 518h19v2h-19zM652 518h38v2h-38zM699 518h57v2h-57zM765 518h83v2h-83zM133 523h95v2h-95zM237 523h38v2h-38zM284 523h10v2h-10zM303 523h19v2h-19zM331 523h104v2h-104zM444 523h19v2h-19zM473 523h9v2h-9zM492 523h56v2h-56zM558 523h56v2h-56zM624 523h198v2h-198zM831 523h17v2h-17zM133 528h57v2h-57zM209 528h19v2h-19zM237 528h28v2h-28zM275 528h56v2h-56zM341 528h47v2h-47zM426 528h84v2h-84zM520 528h9v2h-9zM539 528h56v2h-56zM605 528h28v2h-28zM690 528h19v2h-19zM718 528h19v2h-19zM756 528h47v2h-47zM812 528h19v2h-19zM133 530h19v2h-19zM162 530h9v2h-9zM199 530h10v2h-10zM228 530h103v2h-103zM341 530h28v2h-28zM378 530h29v2h-29zM416 530h28v2h-28zM454 530h19v2h-19zM492 530h28v2h-28zM529 530h29v2h-29zM586 530h9v2h-9zM605 530h28v2h-28zM643 530h9v2h-9zM680 530h66v2h-66zM793 530h19v2h-19zM831 530h17v2h-17zM133 535h10v2h-10zM152 535h28v2h-28zM209 535h9v2h-9zM237 535h19v2h-19zM265 535h29v2h-29zM312 535h19v2h-19zM341 535h28v2h-28zM378 535h29v2h-29zM416 535h19v2h-19zM463 535h19v2h-19zM492 535h28v2h-28zM529 535h29v2h-29zM567 535h10v2h-10zM605 535h19v2h-19zM643 535h9v2h-9zM661 535h10v2h-10zM680 535h10v2h-10zM699 535h10v2h-10zM727 535h10v2h-10zM756 535h9v2h-9zM793 535h10v2h-10zM831 535h10v2h-10zM152 537h10v2h-10zM237 537h9v2h-9zM265 537h29v2h-29zM312 537h19v2h-19zM350 537h19v2h-19zM388 537h19v2h-19zM435 537h9v2h-9zM454 537h19v2h-19zM492 537h28v2h-28zM529 537h19v2h-19zM567 537h19v2h-19zM605 537h9v2h-9zM643 537h9v2h-9zM661 537h10v2h-10zM680 537h29v2h-29zM718 537h9v2h-9zM756 537h9v2h-9zM793 537h19v2h-19zM831 537h17v2h-17zM152 542h19v2h-19zM190 542h9v2h-9zM209 542h9v2h-9zM237 542h19v2h-19zM275 542h19v2h-19zM303 542h9v2h-9zM341 542h28v2h-28zM435 542h9v2h-9zM454 542h28v2h-28zM501 542h9v2h-9zM529 542h29v2h-29zM567 542h19v2h-19zM605 542h19v2h-19zM643 542h28v2h-28zM690 542h19v2h-19zM718 542h9v2h-9zM765 542h10v2h-10zM793 542h19v2h-19zM831 542h17v2h-17zM133 544h10v2h-10zM152 544h19v2h-19zM199 544h10v2h-10zM228 544h9v2h-9zM246 544h10v2h-10zM265 544h10v2h-10zM284 544h10v2h-10zM303 544h19v2h-19zM341 544h19v2h-19zM378 544h10v2h-10zM416 544h10v2h-10zM435 544h9v2h-9zM463 544h10v2h-10zM492 544h28v2h-28zM539 544h19v2h-19zM567 544h19v2h-19zM605 544h9v2h-9zM652 544h9v2h-9zM690 544h9v2h-9zM718 544h19v2h-19zM765 544h10v2h-10zM793 544h19v2h-19zM831 544h17v2h-17zM133 549h10v2h-10zM152 549h28v2h-28zM190 549h9v2h-9zM218 549h47v2h-47zM275 549h9v2h-9zM294 549h9v2h-9zM322 549h9v2h-9zM350 549h19v2h-19zM378 549h19v2h-19zM407 549h37v2h-37zM454 549h9v2h-9zM473 549h9v2h-9zM510 549h38v2h-38zM558 549h9v2h-9zM577 549h9v2h-9zM595 549h10v2h-10zM614 549h10v2h-10zM671 549h9v2h-9zM690 549h19v2h-19zM718 549h66v2h-66zM793 549h29v2h-29zM831 549h10v2h-10zM162 551h18v2h-18zM190 551h47v2h-47zM246 551h19v2h-19zM275 551h9v2h-9zM312 551h19v2h-19zM341 551h9v2h-9zM369 551h9v2h-9zM388 551h75v2h-75zM482 551h19v2h-19zM510 551h29v2h-29zM548 551h29v2h-29zM586 551h28v2h-28zM624 551h9v2h-9zM690 551h9v2h-9zM727 551h19v2h-19zM756 551h9v2h-9zM775 551h9v2h-9zM793 551h10v2h-10zM831 551h17v2h-17zM133 556h10v2h-10zM180 556h10v2h-10zM199 556h19v2h-19zM237 556h28v2h-28zM275 556h28v2h-28zM350 556h10v2h-10zM369 556h9v2h-9zM388 556h9v2h-9zM444 556h10v2h-10zM463 556h38v2h-38zM510 556h19v2h-19zM548 556h19v2h-19zM586 556h28v2h-28zM643 556h37v2h-37zM699 556h10v2h-10zM718 556h19v2h-19zM746 556h10v2h-10zM775 556h9v2h-9zM803 556h28v2h-28zM143 558h9v2h-9zM162 558h9v2h-9zM180 558h10v2h-10zM246 558h10v2h-10zM275 558h19v2h-19zM312 558h10v2h-10zM388 558h9v2h-9zM407 558h9v2h-9zM444 558h10v2h-10zM482 558h10v2h-10zM510 558h19v2h-19zM605 558h9v2h-9zM633 558h10v2h-10zM680 558h10v2h-10zM699 558h19v2h-19zM746 558h19v2h-19zM775 558h9v2h-9zM793 558h10v2h-10zM831 558h10v2h-10zM133 563h19v2h-19zM199 563h10v2h-10zM275 563h9v2h-9zM312 563h10v2h-10zM350 563h19v2h-19zM397 563h19v2h-19zM444 563h10v2h-10zM529 563h10v2h-10zM558 563h9v2h-9zM595 563h19v2h-19zM661 563h10v2h-10zM699 563h28v2h-28zM746 563h19v2h-19zM812 563h19v2h-19zM133 565h19v2h-19zM171 565h19v2h-19zM199 565h10v2h-10zM237 565h9v2h-9zM322 565h9v2h-9zM350 565h10v2h-10zM369 565h9v2h-9zM388 565h9v2h-9zM407 565h9v2h-9zM463 565h10v2h-10zM482 565h10v2h-10zM529 565h10v2h-10zM548 565h29v2h-29zM586 565h19v2h-19zM624 565h9v2h-9zM671 565h9v2h-9zM709 565h9v2h-9zM727 565h29v2h-29zM784 565h9v2h-9zM812 565h19v2h-19zM133 570h19v2h-19zM246 570h10v2h-10zM360 570h9v2h-9zM426 570h9v2h-9zM492 570h9v2h-9zM520 570h19v2h-19zM661 570h10v2h-10zM680 570h10v2h-10zM709 570h9v2h-9zM746 570h19v2h-19zM775 570h9v2h-9zM171 575h9v2h-9zM256 575h9v2h-9zM275 575h9v2h-9zM369 575h9v2h-9zM435 575h19v2h-19zM463 575h10v2h-10zM492 575h9v2h-9zM510 575h10v2h-10zM567 575h10v2h-10zM746 575h10v2h-10zM775 575h9v2h-9zM237 577h19v2h-19zM294 577h9v2h-9zM397 577h10v2h-10zM435 577h9v2h-9zM463 577h10v2h-10zM482 577h10v2h-10zM595 577h10v2h-10zM671 577h9v2h-9zM746 577h10v2h-10zM822 577h9v2h-9zM171 582h9v2h-9zM237 582h9v2h-9zM284 582h10v2h-10zM350 582h19v2h-19zM388 582h9v2h-9zM463 582h10v2h-10zM529 582h10v2h-10zM143 584h9v2h-9zM407 584h9v2h-9zM426 584h9v2h-9zM463 584h10v2h-10zM595 584h10v2h-10zM643 584h9v2h-9zM812 584h19v2h-19zM133 589h10v2h-10zM360 589h9v2h-9zM680 589h10v2h-10zM199 591h10v2h-10zM737 591h9v2h-9zM133 596h10v2h-10zM322 596h9v2h-9zM586 596h9v2h-9zM709 596h18v2h-18zM133 424h10v3h-10zM152 424h10v3h-10zM171 424h28v3h-28zM209 424h19v3h-19zM237 424h9v3h-9zM256 424h56v3h-56zM331 424h29v3h-29zM369 424h19v3h-19zM397 424h29v3h-29zM454 424h9v3h-9zM473 424h19v3h-19zM501 424h9v3h-9zM529 424h29v3h-29zM567 424h19v3h-19zM614 424h19v3h-19zM643 424h9v3h-9zM661 424h10v3h-10zM680 424h10v3h-10zM709 424h9v3h-9zM727 424h10v3h-10zM756 424h9v3h-9zM775 424h9v3h-9zM793 424h10v3h-10zM812 424h10v3h-10zM841 424h7v3h-7zM152 431h10v3h-10zM180 431h10v3h-10zM199 431h10v3h-10zM237 431h9v3h-9zM265 431h10v3h-10zM284 431h28v3h-28zM322 431h19v3h-19zM350 431h28v3h-28zM426 431h9v3h-9zM454 431h9v3h-9zM482 431h10v3h-10zM501 431h47v3h-47zM558 431h9v3h-9zM577 431h18v3h-18zM614 431h29v3h-29zM661 431h19v3h-19zM690 431h9v3h-9zM709 431h9v3h-9zM727 431h19v3h-19zM756 431h9v3h-9zM775 431h28v3h-28zM812 431h10v3h-10zM831 431h17v3h-17zM133 438h19v3h-19zM171 438h28v3h-28zM209 438h19v3h-19zM237 438h19v3h-19zM265 438h10v3h-10zM284 438h19v3h-19zM322 438h9v3h-9zM341 438h9v3h-9zM369 438h19v3h-19zM407 438h37v3h-37zM454 438h38v3h-38zM501 438h28v3h-28zM539 438h9v3h-9zM558 438h28v3h-28zM595 438h19v3h-19zM624 438h9v3h-9zM652 438h9v3h-9zM690 438h9v3h-9zM746 438h19v3h-19zM784 438h9v3h-9zM803 438h9v3h-9zM143 445h19v3h-19zM171 445h19v3h-19zM209 445h9v3h-9zM228 445h18v3h-18zM265 445h10v3h-10zM284 445h19v3h-19zM312 445h29v3h-29zM350 445h10v3h-10zM369 445h19v3h-19zM397 445h29v3h-29zM473 445h19v3h-19zM510 445h19v3h-19zM539 445h38v3h-38zM595 445h10v3h-10zM633 445h19v3h-19zM671 445h9v3h-9zM690 445h28v3h-28zM756 445h28v3h-28zM812 445h29v3h-29zM143 452h19v3h-19zM171 452h19v3h-19zM199 452h10v3h-10zM237 452h28v3h-28zM275 452h19v3h-19zM303 452h28v3h-28zM341 452h9v3h-9zM369 452h19v3h-19zM397 452h10v3h-10zM435 452h9v3h-9zM454 452h28v3h-28zM492 452h9v3h-9zM510 452h10v3h-10zM539 452h19v3h-19zM577 452h18v3h-18zM614 452h19v3h-19zM643 452h18v3h-18zM680 452h29v3h-29zM718 452h19v3h-19zM746 452h38v3h-38zM793 452h29v3h-29zM831 452h17v3h-17zM133 459h38v3h-38zM199 459h47v3h-47zM256 459h9v3h-9zM275 459h94v3h-94zM378 459h48v3h-48zM435 459h19v3h-19zM463 459h132v3h-132zM605 459h19v3h-19zM633 459h47v3h-47zM690 459h47v3h-47zM746 459h19v3h-19zM775 459h73v3h-73zM133 466h47v3h-47zM190 466h28v3h-28zM228 466h47v3h-47zM284 466h47v3h-47zM350 466h19v3h-19zM378 466h48v3h-48zM435 466h28v3h-28zM473 466h9v3h-9zM492 466h28v3h-28zM529 466h57v3h-57zM595 466h85v3h-85zM690 466h28v3h-28zM737 466h47v3h-47zM793 466h48v3h-48zM133 471h57v3h-57zM209 471h9v3h-9zM228 471h66v3h-66zM303 471h207v3h-207zM529 471h57v3h-57zM595 471h151v3h-151zM756 471h85v3h-85zM133 478h38v3h-38zM180 478h76v3h-76zM265 478h104v3h-104zM378 478h123v3h-123zM510 478h38v3h-38zM558 478h19v3h-19zM605 478h38v3h-38zM652 478h19v3h-19zM699 478h19v3h-19zM727 478h19v3h-19zM756 478h28v3h-28zM793 478h38v3h-38zM841 478h7v3h-7zM133 485h142v3h-142zM284 485h47v3h-47zM341 485h47v3h-47zM397 485h19v3h-19zM426 485h37v3h-37zM473 485h132v3h-132zM624 485h9v3h-9zM643 485h37v3h-37zM690 485h85v3h-85zM784 485h47v3h-47zM841 485h7v3h-7zM133 492h10v3h-10zM152 492h28v3h-28zM190 492h19v3h-19zM218 492h38v3h-38zM265 492h10v3h-10zM284 492h57v3h-57zM350 492h132v3h-132zM492 492h18v3h-18zM520 492h47v3h-47zM577 492h47v3h-47zM633 492h57v3h-57zM699 492h38v3h-38zM746 492h10v3h-10zM765 492h47v3h-47zM822 492h26v3h-26zM133 499h38v3h-38zM180 499h19v3h-19zM209 499h9v3h-9zM228 499h9v3h-9zM246 499h66v3h-66zM322 499h9v3h-9zM341 499h66v3h-66zM416 499h189v3h-189zM614 499h57v3h-57zM690 499h141v3h-141zM841 499h7v3h-7zM133 506h10v3h-10zM152 506h10v3h-10zM171 506h19v3h-19zM199 506h19v3h-19zM228 506h103v3h-103zM341 506h19v3h-19zM369 506h28v3h-28zM407 506h19v3h-19zM444 506h38v3h-38zM492 506h103v3h-103zM605 506h38v3h-38zM661 506h66v3h-66zM737 506h9v3h-9zM756 506h19v3h-19zM784 506h9v3h-9zM803 506h45v3h-45zM133 513h19v3h-19zM162 513h28v3h-28zM199 513h189v3h-189zM397 513h47v3h-47zM454 513h28v3h-28zM501 513h113v3h-113zM633 513h76v3h-76zM718 513h9v3h-9zM756 513h19v3h-19zM784 513h64v3h-64zM133 520h10v3h-10zM152 520h47v3h-47zM209 520h113v3h-113zM331 520h85v3h-85zM426 520h18v3h-18zM463 520h29v3h-29zM501 520h9v3h-9zM520 520h19v3h-19zM558 520h37v3h-37zM605 520h19v3h-19zM643 520h18v3h-18zM671 520h19v3h-19zM699 520h28v3h-28zM746 520h47v3h-47zM812 520h36v3h-36zM143 525h37v3h-37zM190 525h56v3h-56zM256 525h56v3h-56zM322 525h28v3h-28zM360 525h28v3h-28zM407 525h9v3h-9zM426 525h56v3h-56zM492 525h18v3h-18zM529 525h19v3h-19zM558 525h75v3h-75zM643 525h28v3h-28zM680 525h38v3h-38zM727 525h38v3h-38zM775 525h9v3h-9zM793 525h55v3h-55zM133 532h10v3h-10zM152 532h19v3h-19zM190 532h28v3h-28zM228 532h9v3h-9zM246 532h10v3h-10zM265 532h29v3h-29zM303 532h9v3h-9zM350 532h10v3h-10zM378 532h10v3h-10zM435 532h9v3h-9zM473 532h9v3h-9zM501 532h19v3h-19zM539 532h19v3h-19zM567 532h10v3h-10zM605 532h19v3h-19zM652 532h19v3h-19zM680 532h29v3h-29zM756 532h19v3h-19zM793 532h10v3h-10zM133 539h10v3h-10zM152 539h28v3h-28zM190 539h28v3h-28zM237 539h9v3h-9zM265 539h10v3h-10zM284 539h10v3h-10zM303 539h19v3h-19zM341 539h9v3h-9zM360 539h9v3h-9zM378 539h19v3h-19zM416 539h28v3h-28zM454 539h28v3h-28zM492 539h28v3h-28zM539 539h9v3h-9zM567 539h19v3h-19zM643 539h28v3h-28zM680 539h10v3h-10zM699 539h10v3h-10zM718 539h19v3h-19zM793 539h10v3h-10zM841 539h7v3h-7zM133 546h10v3h-10zM152 546h19v3h-19zM190 546h19v3h-19zM228 546h9v3h-9zM246 546h29v3h-29zM303 546h47v3h-47zM360 546h9v3h-9zM388 546h9v3h-9zM416 546h10v3h-10zM435 546h19v3h-19zM463 546h10v3h-10zM501 546h19v3h-19zM548 546h10v3h-10zM567 546h10v3h-10zM586 546h9v3h-9zM614 546h10v3h-10zM652 546h104v3h-104zM775 546h9v3h-9zM803 546h45v3h-45zM143 553h47v3h-47zM199 553h19v3h-19zM246 553h10v3h-10zM275 553h75v3h-75zM369 553h28v3h-28zM407 553h9v3h-9zM426 553h28v3h-28zM463 553h29v3h-29zM510 553h29v3h-29zM548 553h29v3h-29zM595 553h10v3h-10zM614 553h29v3h-29zM661 553h10v3h-10zM699 553h28v3h-28zM737 553h19v3h-19zM775 553h28v3h-28zM841 553h7v3h-7zM133 560h19v3h-19zM162 560h28v3h-28zM199 560h10v3h-10zM256 560h9v3h-9zM284 560h19v3h-19zM312 560h10v3h-10zM350 560h10v3h-10zM369 560h9v3h-9zM397 560h10v3h-10zM426 560h9v3h-9zM463 560h29v3h-29zM529 560h10v3h-10zM567 560h10v3h-10zM595 560h19v3h-19zM633 560h19v3h-19zM671 560h9v3h-9zM699 560h10v3h-10zM718 560h9v3h-9zM746 560h19v3h-19zM775 560h9v3h-9zM822 560h9v3h-9zM133 567h10v3h-10zM237 567h28v3h-28zM294 567h9v3h-9zM322 567h9v3h-9zM397 567h19v3h-19zM444 567h38v3h-38zM558 567h19v3h-19zM595 567h10v3h-10zM643 567h9v3h-9zM671 567h9v3h-9zM699 567h10v3h-10zM718 567h9v3h-9zM746 567h10v3h-10zM775 567h9v3h-9zM822 567h19v3h-19zM199 572h10v3h-10zM237 572h28v3h-28zM369 572h9v3h-9zM388 572h9v3h-9zM426 572h9v3h-9zM463 572h29v3h-29zM548 572h10v3h-10zM595 572h10v3h-10zM718 572h9v3h-9zM737 572h9v3h-9zM784 572h9v3h-9zM812 572h10v3h-10zM143 579h9v3h-9zM162 579h9v3h-9zM256 579h9v3h-9zM312 579h10v3h-10zM510 579h10v3h-10zM624 579h9v3h-9zM643 579h9v3h-9zM661 579h10v3h-10zM680 579h10v3h-10zM793 579h10v3h-10zM463 586h19v3h-19zM529 586h10v3h-10zM595 586h10v3h-10zM133 593h10v3h-10zM275 600h9v3h-9zM294 612h9v3h-9z"/><path fill="#0000af" d="M803 424h9v3h-9zM246 431h10v3h-10zM256 445h9v3h-9zM746 478h10v3h-10zM746 506h10v3h-10zM492 513h9v3h-9zM624 520h9v3h-9zM784 525h9v3h-9zM416 532h10v3h-10zM577 532h9v3h-9zM614 539h10v3h-10zM756 539h9v3h-9zM143 546h9v3h-9zM529 546h10v3h-10zM218 553h19v3h-19zM360 553h9v3h-9zM577 553h18v3h-18zM605 553h9v3h-9zM643 553h9v3h-9zM680 553h10v3h-10zM812 553h10v3h-10zM152 560h10v3h-10zM190 560h9v3h-9zM209 560h9v3h-9zM228 560h9v3h-9zM341 560h9v3h-9zM492 560h18v3h-18zM577 560h18v3h-18zM652 560h9v3h-9zM680 560h19v3h-19zM727 560h10v3h-10zM765 560h10v3h-10zM803 560h9v3h-9zM841 560h7v3h-7zM143 567h9v3h-9zM162 567h18v3h-18zM312 567h10v3h-10zM350 567h10v3h-10zM369 567h9v3h-9zM388 567h9v3h-9zM416 567h10v3h-10zM520 567h9v3h-9zM577 567h18v3h-18zM633 567h10v3h-10zM652 567h9v3h-9zM680 567h10v3h-10zM727 567h10v3h-10zM784 567h9v3h-9zM180 572h19v3h-19zM209 572h9v3h-9zM228 572h9v3h-9zM284 572h19v3h-19zM312 572h10v3h-10zM435 572h9v3h-9zM558 572h19v3h-19zM586 572h9v3h-9zM633 572h10v3h-10zM652 572h9v3h-9zM680 572h10v3h-10zM746 572h10v3h-10zM775 572h9v3h-9zM831 572h10v3h-10zM133 579h10v3h-10zM180 579h19v3h-19zM322 579h9v3h-9zM360 579h9v3h-9zM435 579h9v3h-9zM529 579h10v3h-10zM605 579h9v3h-9zM709 579h18v3h-18zM737 579h9v3h-9zM756 579h9v3h-9zM784 579h9v3h-9zM822 579h9v3h-9zM143 586h9v3h-9zM162 586h9v3h-9zM199 586h10v3h-10zM246 586h10v3h-10zM284 586h10v3h-10zM322 586h9v3h-9zM388 586h9v3h-9zM444 586h10v3h-10zM482 586h10v3h-10zM520 586h9v3h-9zM699 586h10v3h-10zM765 586h19v3h-19zM812 586h10v3h-10zM209 593h9v3h-9zM237 593h9v3h-9zM256 593h9v3h-9zM284 593h19v3h-19zM312 593h10v3h-10zM369 593h9v3h-9zM388 593h9v3h-9zM426 593h9v3h-9zM473 593h19v3h-19zM529 593h10v3h-10zM548 593h10v3h-10zM605 593h9v3h-9zM699 593h10v3h-10zM746 593h10v3h-10zM784 593h19v3h-19zM831 593h10v3h-10zM209 600h9v3h-9zM284 600h10v3h-10zM312 600h10v3h-10zM350 600h10v3h-10zM388 600h9v3h-9zM444 600h10v3h-10zM473 600h9v3h-9zM548 600h10v3h-10zM661 600h19v3h-19zM709 600h9v3h-9zM812 600h10v3h-10zM831 600h10v3h-10zM162 607h9v3h-9zM256 607h9v3h-9zM294 607h9v3h-9zM397 607h10v3h-10zM558 607h9v3h-9zM633 607h10v3h-10zM661 607h10v3h-10zM709 607h9v3h-9zM784 607h9v3h-9zM473 612h9v3h-9zM586 612h9v3h-9zM737 612h9v3h-9zM831 612h10v3h-10zM284 615h10v3h-10zM680 615h10v3h-10zM237 618h9v3h-9zM275 618h19v3h-19zM388 618h9v3h-9zM643 618h9v3h-9zM171 621h9v3h-9zM388 621h9v3h-9zM492 621h9v3h-9zM595 621h19v3h-19zM633 621h10v3h-10zM661 621h10v3h-10zM407 436h9v2h-9zM595 457h10v2h-10zM435 462h9v2h-9zM793 464h10v2h-10zM360 469h9v2h-9zM614 476h10v2h-10zM199 481h10v2h-10zM407 488h9v2h-9zM567 488h10v2h-10zM322 495h9v2h-9zM529 495h10v2h-10zM614 495h10v2h-10zM652 502h9v2h-9zM633 504h10v2h-10zM633 509h10v2h-10zM152 516h10v2h-10zM312 516h10v2h-10zM256 518h9v2h-9zM378 518h10v2h-10zM643 528h9v2h-9zM841 528h7v2h-7zM180 530h10v2h-10zM369 530h9v2h-9zM482 530h10v2h-10zM671 530h9v2h-9zM775 530h9v2h-9zM199 535h10v2h-10zM303 535h9v2h-9zM652 535h9v2h-9zM680 542h10v2h-10zM209 544h19v2h-19zM256 544h9v2h-9zM275 544h9v2h-9zM294 544h9v2h-9zM397 544h10v2h-10zM558 544h9v2h-9zM586 544h19v2h-19zM614 544h10v2h-10zM671 544h9v2h-9zM709 544h9v2h-9zM784 544h9v2h-9zM331 549h10v2h-10zM624 549h9v2h-9zM284 551h10v2h-10zM331 551h10v2h-10zM633 551h10v2h-10zM652 551h9v2h-9zM746 551h10v2h-10zM765 551h10v2h-10zM784 551h9v2h-9zM152 556h10v2h-10zM171 556h9v2h-9zM190 556h9v2h-9zM218 556h19v2h-19zM265 556h10v2h-10zM303 556h9v2h-9zM331 556h10v2h-10zM360 556h9v2h-9zM378 556h10v2h-10zM416 556h10v2h-10zM454 556h9v2h-9zM690 556h9v2h-9zM737 556h9v2h-9zM152 558h10v2h-10zM171 558h9v2h-9zM199 558h10v2h-10zM218 558h19v2h-19zM256 558h19v2h-19zM322 558h19v2h-19zM360 558h9v2h-9zM397 558h10v2h-10zM501 558h9v2h-9zM548 558h10v2h-10zM652 558h9v2h-9zM690 558h9v2h-9zM284 563h10v2h-10zM378 563h10v2h-10zM416 563h28v2h-28zM454 563h19v2h-19zM539 563h9v2h-9zM586 563h9v2h-9zM614 563h19v2h-19zM652 563h9v2h-9zM727 563h19v2h-19zM775 563h9v2h-9zM793 563h10v2h-10zM841 563h7v2h-7zM152 565h10v2h-10zM209 565h19v2h-19zM303 565h19v2h-19zM360 565h9v2h-9zM397 565h10v2h-10zM444 565h10v2h-10zM473 565h9v2h-9zM520 565h9v2h-9zM577 565h9v2h-9zM699 565h10v2h-10zM756 565h19v2h-19zM831 565h10v2h-10zM152 570h10v2h-10zM237 570h9v2h-9zM350 570h10v2h-10zM369 570h9v2h-9zM388 570h28v2h-28zM463 570h19v2h-19zM548 570h10v2h-10zM595 570h38v2h-38zM643 570h9v2h-9zM737 570h9v2h-9zM765 570h10v2h-10zM784 570h9v2h-9zM812 570h19v2h-19zM841 570h7v2h-7zM162 575h9v2h-9zM237 575h9v2h-9zM303 575h19v2h-19zM331 575h10v2h-10zM350 575h10v2h-10zM388 575h38v2h-38zM473 575h9v2h-9zM529 575h10v2h-10zM548 575h19v2h-19zM614 575h10v2h-10zM633 575h10v2h-10zM652 575h9v2h-9zM671 575h9v2h-9zM699 575h10v2h-10zM718 575h9v2h-9zM756 575h9v2h-9zM812 575h29v2h-29zM162 577h9v2h-9zM209 577h9v2h-9zM275 577h9v2h-9zM322 577h9v2h-9zM350 577h28v2h-28zM388 577h9v2h-9zM529 577h10v2h-10zM709 577h9v2h-9zM756 577h9v2h-9zM784 577h9v2h-9zM812 577h10v2h-10zM180 582h10v2h-10zM256 582h9v2h-9zM312 582h10v2h-10zM397 582h10v2h-10zM426 582h9v2h-9zM492 582h9v2h-9zM605 582h47v2h-47zM661 582h10v2h-10zM690 582h9v2h-9zM709 582h9v2h-9zM737 582h28v2h-28zM784 582h19v2h-19zM812 582h19v2h-19zM133 584h10v2h-10zM180 584h10v2h-10zM209 584h9v2h-9zM256 584h9v2h-9zM294 584h9v2h-9zM322 584h9v2h-9zM360 584h9v2h-9zM473 584h9v2h-9zM520 584h9v2h-9zM548 584h19v2h-19zM680 584h10v2h-10zM709 584h18v2h-18zM737 584h9v2h-9zM765 584h38v2h-38zM831 584h10v2h-10zM143 589h9v2h-9zM180 589h10v2h-10zM246 589h10v2h-10zM284 589h10v2h-10zM388 589h9v2h-9zM407 589h9v2h-9zM473 589h19v2h-19zM633 589h10v2h-10zM661 589h19v2h-19zM793 589h10v2h-10zM822 589h9v2h-9zM162 591h18v2h-18zM256 591h9v2h-9zM284 591h10v2h-10zM360 591h18v2h-18zM444 591h10v2h-10zM473 591h19v2h-19zM529 591h10v2h-10zM558 591h9v2h-9zM671 591h9v2h-9zM699 591h10v2h-10zM746 591h10v2h-10zM784 591h9v2h-9zM822 591h9v2h-9zM237 596h9v2h-9zM294 596h9v2h-9zM350 596h10v2h-10zM397 596h10v2h-10zM463 596h10v2h-10zM520 596h9v2h-9zM643 596h9v2h-9zM812 596h10v2h-10zM133 598h10v2h-10zM209 598h9v2h-9zM256 598h9v2h-9zM284 598h10v2h-10zM388 598h9v2h-9zM426 598h9v2h-9zM482 598h10v2h-10zM529 598h10v2h-10zM595 598h10v2h-10zM624 598h19v2h-19zM661 598h10v2h-10zM133 603h10v2h-10zM237 603h9v2h-9zM294 603h9v2h-9zM312 603h10v2h-10zM360 603h9v2h-9zM407 603h9v2h-9zM463 603h10v2h-10zM624 603h9v2h-9zM680 603h10v2h-10zM322 605h9v2h-9zM350 605h10v2h-10zM369 605h9v2h-9zM397 605h10v2h-10zM426 605h9v2h-9zM473 605h9v2h-9zM520 605h9v2h-9zM548 605h10v2h-10zM624 605h9v2h-9zM661 605h10v2h-10zM360 610h9v2h-9zM397 610h19v2h-19zM444 610h10v2h-10zM463 610h10v2h-10zM605 610h9v2h-9zM624 610h9v2h-9zM671 610h9v2h-9zM237 624h9v4h-9zM312 624h10v4h-10zM473 628h9v4h-9zM699 637h10v6h-10z"/><path fill="#0000bf" d="M331 530h10v2h-10zM180 544h10v2h-10zM331 544h10v2h-10zM360 544h18v2h-18zM407 544h9v2h-9zM444 544h10v2h-10zM520 544h9v2h-9zM624 544h9v2h-9zM775 544h9v2h-9zM812 544h19v2h-19zM190 558h9v2h-9zM303 558h9v2h-9zM416 558h10v2h-10zM454 558h9v2h-9zM539 558h9v2h-9zM661 558h10v2h-10zM171 563h9v2h-9zM190 563h9v2h-9zM218 563h19v2h-19zM246 563h10v2h-10zM303 563h9v2h-9zM331 563h19v2h-19zM501 563h9v2h-9zM577 563h9v2h-9zM643 563h9v2h-9zM690 563h9v2h-9zM765 563h10v2h-10zM228 565h9v2h-9zM331 565h19v2h-19zM378 565h10v2h-10zM435 565h9v2h-9zM454 565h9v2h-9zM492 565h18v2h-18zM539 565h9v2h-9zM614 565h10v2h-10zM633 565h10v2h-10zM718 565h9v2h-9zM803 565h9v2h-9zM162 570h28v2h-28zM218 570h10v2h-10zM331 570h10v2h-10zM454 570h9v2h-9zM577 570h9v2h-9zM652 570h9v2h-9zM690 570h9v2h-9zM718 570h19v2h-19zM228 575h9v2h-9zM246 575h10v2h-10zM284 575h10v2h-10zM378 575h10v2h-10zM426 575h9v2h-9zM454 575h9v2h-9zM586 575h9v2h-9zM624 575h9v2h-9zM643 575h9v2h-9zM709 575h9v2h-9zM727 575h10v2h-10zM784 575h28v2h-28zM841 575h7v2h-7zM133 577h29v2h-29zM265 577h10v2h-10zM331 577h10v2h-10zM426 577h9v2h-9zM454 577h9v2h-9zM492 577h9v2h-9zM510 577h19v2h-19zM567 577h19v2h-19zM605 577h9v2h-9zM624 577h9v2h-9zM652 577h9v2h-9zM690 577h9v2h-9zM737 577h9v2h-9zM793 577h10v2h-10zM831 577h17v2h-17zM143 582h9v2h-9zM190 582h9v2h-9zM209 582h9v2h-9zM294 582h9v2h-9zM322 582h9v2h-9zM341 582h9v2h-9zM369 582h9v2h-9zM482 582h10v2h-10zM567 582h19v2h-19zM595 582h10v2h-10zM652 582h9v2h-9zM671 582h9v2h-9zM803 582h9v2h-9zM199 584h10v2h-10zM228 584h9v2h-9zM275 584h19v2h-19zM369 584h9v2h-9zM388 584h9v2h-9zM435 584h19v2h-19zM567 584h10v2h-10zM633 584h10v2h-10zM652 584h9v2h-9zM171 589h9v2h-9zM199 589h10v2h-10zM256 589h9v2h-9zM275 589h9v2h-9zM294 589h9v2h-9zM312 589h10v2h-10zM397 589h10v2h-10zM426 589h18v2h-18zM463 589h10v2h-10zM520 589h9v2h-9zM558 589h19v2h-19zM652 589h9v2h-9zM709 589h18v2h-18zM756 589h19v2h-19zM143 591h9v2h-9zM180 591h10v2h-10zM228 591h9v2h-9zM312 591h19v2h-19zM426 591h18v2h-18zM492 591h9v2h-9zM520 591h9v2h-9zM548 591h10v2h-10zM567 591h10v2h-10zM586 591h9v2h-9zM605 591h9v2h-9zM624 591h28v2h-28zM718 591h9v2h-9zM775 591h9v2h-9zM793 591h10v2h-10zM812 591h10v2h-10zM831 591h10v2h-10zM143 596h9v2h-9zM162 596h18v2h-18zM209 596h9v2h-9zM256 596h9v2h-9zM360 596h9v2h-9zM388 596h9v2h-9zM444 596h10v2h-10zM482 596h19v2h-19zM510 596h10v2h-10zM548 596h29v2h-29zM633 596h10v2h-10zM661 596h10v2h-10zM680 596h10v2h-10zM699 596h10v2h-10zM737 596h9v2h-9zM793 596h10v2h-10zM143 598h9v2h-9zM171 598h9v2h-9zM199 598h10v2h-10zM246 598h10v2h-10zM369 598h9v2h-9zM397 598h19v2h-19zM444 598h10v2h-10zM492 598h9v2h-9zM643 598h9v2h-9zM709 598h18v2h-18zM737 598h9v2h-9zM756 598h9v2h-9zM784 598h19v2h-19zM831 598h10v2h-10zM143 603h9v2h-9zM162 603h9v2h-9zM256 603h9v2h-9zM275 603h19v2h-19zM322 603h9v2h-9zM369 603h9v2h-9zM444 603h10v2h-10zM520 603h9v2h-9zM558 603h19v2h-19zM586 603h28v2h-28zM709 603h9v2h-9zM737 603h9v2h-9zM793 603h10v2h-10zM822 603h19v2h-19zM143 605h9v2h-9zM162 605h9v2h-9zM180 605h10v2h-10zM246 605h19v2h-19zM294 605h9v2h-9zM312 605h10v2h-10zM388 605h9v2h-9zM407 605h9v2h-9zM435 605h9v2h-9zM510 605h10v2h-10zM567 605h10v2h-10zM671 605h9v2h-9zM718 605h9v2h-9zM746 605h10v2h-10zM784 605h19v2h-19zM812 605h10v2h-10zM162 610h18v2h-18zM246 610h10v2h-10zM369 610h9v2h-9zM388 610h9v2h-9zM548 610h10v2h-10zM595 610h10v2h-10zM633 610h10v2h-10zM661 610h10v2h-10zM709 610h18v2h-18zM793 610h10v2h-10zM822 610h19v2h-19zM652 553h9v3h-9zM218 560h10v3h-10zM246 560h10v3h-10zM303 560h9v3h-9zM331 560h10v3h-10zM378 560h10v3h-10zM416 560h10v3h-10zM265 567h10v3h-10zM303 567h9v3h-9zM378 567h10v3h-10zM435 567h9v3h-9zM482 567h38v3h-38zM614 567h10v3h-10zM661 567h10v3h-10zM841 567h7v3h-7zM133 572h10v3h-10zM218 572h10v3h-10zM303 572h9v3h-9zM331 572h10v3h-10zM444 572h10v3h-10zM501 572h9v3h-9zM614 572h10v3h-10zM690 572h9v3h-9zM727 572h10v3h-10zM793 572h10v3h-10zM171 579h9v3h-9zM228 579h9v3h-9zM265 579h10v3h-10zM388 579h9v3h-9zM426 579h9v3h-9zM501 579h9v3h-9zM520 579h9v3h-9zM567 579h28v3h-28zM633 579h10v3h-10zM652 579h9v3h-9zM671 579h9v3h-9zM746 579h10v3h-10zM775 579h9v3h-9zM803 579h9v3h-9zM841 579h7v3h-7zM171 586h28v3h-28zM209 586h9v3h-9zM237 586h9v3h-9zM294 586h18v3h-18zM369 586h9v3h-9zM397 586h10v3h-10zM426 586h9v3h-9zM510 586h10v3h-10zM558 586h9v3h-9zM624 586h28v3h-28zM671 586h28v3h-28zM803 586h9v3h-9zM822 586h9v3h-9zM143 593h9v3h-9zM246 593h10v3h-10zM275 593h9v3h-9zM397 593h10v3h-10zM444 593h10v3h-10zM492 593h9v3h-9zM520 593h9v3h-9zM558 593h9v3h-9zM586 593h19v3h-19zM633 593h10v3h-10zM737 593h9v3h-9zM812 593h19v3h-19zM133 600h10v3h-10zM162 600h9v3h-9zM180 600h10v3h-10zM237 600h19v3h-19zM294 600h9v3h-9zM360 600h9v3h-9zM435 600h9v3h-9zM463 600h10v3h-10zM558 600h19v3h-19zM605 600h9v3h-9zM624 600h19v3h-19zM718 600h9v3h-9zM737 600h19v3h-19zM784 600h9v3h-9zM822 600h9v3h-9zM133 607h19v3h-19zM199 607h10v3h-10zM350 607h10v3h-10zM407 607h9v3h-9zM463 607h19v3h-19zM492 607h9v3h-9zM595 607h10v3h-10zM624 607h9v3h-9zM643 607h9v3h-9zM718 607h9v3h-9zM775 607h9v3h-9zM793 607h10v3h-10zM831 607h10v3h-10zM143 612h9v3h-9zM199 612h10v3h-10zM256 612h9v3h-9zM284 612h10v3h-10zM312 612h19v3h-19zM360 612h9v3h-9zM426 612h18v3h-18zM510 612h10v3h-10zM567 612h10v3h-10zM661 612h19v3h-19zM709 612h18v3h-18zM746 612h10v3h-10zM784 612h9v3h-9zM133 615h19v3h-19zM162 615h18v3h-18zM199 615h10v3h-10zM275 615h9v3h-9zM322 615h9v3h-9zM360 615h18v3h-18zM435 615h9v3h-9zM473 615h9v3h-9zM492 615h9v3h-9zM633 615h19v3h-19zM671 615h9v3h-9zM746 615h10v3h-10zM171 618h9v3h-9zM199 618h10v3h-10zM397 618h19v3h-19zM482 618h19v3h-19zM520 618h9v3h-9zM586 618h9v3h-9zM633 618h10v3h-10zM756 618h9v3h-9zM793 618h10v3h-10zM831 618h10v3h-10zM444 621h10v3h-10zM473 621h19v3h-19zM529 621h10v3h-10zM680 621h10v3h-10zM737 621h9v3h-9zM822 621h9v3h-9zM133 624h10v4h-10zM275 624h9v4h-9zM388 624h9v4h-9zM463 624h10v4h-10zM586 624h9v4h-9zM661 624h10v4h-10zM171 628h9v4h-9zM199 628h10v4h-10zM360 628h9v4h-9zM463 628h10v4h-10zM162 632h9v5h-9zM284 632h10v5h-10zM624 632h9v5h-9zM661 632h10v5h-10zM237 637h9v6h-9zM284 637h10v6h-10zM737 637h9v6h-9zM237 651h9v10h-9zM784 676h9v8h-9z"/><path fill="#0000ef" d="M143 532h9v3h-9zM180 532h10v3h-10zM218 532h10v3h-10zM256 532h9v3h-9zM294 532h9v3h-9zM331 532h10v3h-10zM369 532h9v3h-9zM407 532h9v3h-9zM444 532h10v3h-10zM520 532h9v3h-9zM586 532h19v3h-19zM624 532h19v3h-19zM671 532h9v3h-9zM709 532h9v3h-9zM737 532h19v3h-19zM784 532h9v3h-9zM378 579h10v3h-10zM539 579h9v3h-9zM539 586h9v3h-9zM228 593h9v3h-9zM331 593h10v3h-10zM378 593h10v3h-10zM539 593h9v3h-9zM652 593h9v3h-9zM690 593h9v3h-9zM765 593h10v3h-10zM803 593h9v3h-9zM143 600h9v3h-9zM218 600h19v3h-19zM256 600h9v3h-9zM303 600h9v3h-9zM331 600h10v3h-10zM529 600h10v3h-10zM284 607h10v3h-10zM303 607h9v3h-9zM322 607h9v3h-9zM378 607h10v3h-10zM577 607h18v3h-18zM228 612h9v3h-9zM246 612h10v3h-10zM303 612h9v3h-9zM529 612h10v3h-10zM624 612h9v3h-9zM643 612h9v3h-9zM756 612h9v3h-9zM822 612h9v3h-9zM841 612h7v3h-7zM520 615h9v3h-9zM595 615h10v3h-10zM690 615h9v3h-9zM812 615h10v3h-10zM143 618h9v3h-9zM294 618h9v3h-9zM312 618h19v3h-19zM444 618h10v3h-10zM803 618h19v3h-19zM294 621h9v3h-9zM360 621h18v3h-18zM435 621h9v3h-9zM558 621h19v3h-19zM586 621h9v3h-9zM690 621h9v3h-9zM765 621h10v3h-10zM831 621h10v3h-10zM303 582h9v2h-9zM218 584h10v2h-10zM331 584h10v2h-10zM416 584h10v2h-10zM577 584h9v2h-9zM690 584h9v2h-9zM152 589h10v2h-10zM190 589h9v2h-9zM228 589h9v2h-9zM265 589h10v2h-10zM369 589h19v2h-19zM454 589h9v2h-9zM690 589h9v2h-9zM727 589h10v2h-10zM190 591h9v2h-9zM378 591h10v2h-10zM501 591h9v2h-9zM690 591h9v2h-9zM803 591h9v2h-9zM190 596h9v2h-9zM218 596h10v2h-10zM246 596h10v2h-10zM265 596h10v2h-10zM303 596h9v2h-9zM341 596h9v2h-9zM378 596h10v2h-10zM435 596h9v2h-9zM501 596h9v2h-9zM614 596h10v2h-10zM803 596h9v2h-9zM228 598h9v2h-9zM303 598h9v2h-9zM322 598h9v2h-9zM454 598h9v2h-9zM501 598h9v2h-9zM539 598h9v2h-9zM577 598h9v2h-9zM614 598h10v2h-10zM727 598h10v2h-10zM765 598h10v2h-10zM822 598h9v2h-9zM246 603h10v2h-10zM303 603h9v2h-9zM341 603h9v2h-9zM492 603h9v2h-9zM539 603h9v2h-9zM652 603h9v2h-9zM727 603h10v2h-10zM841 603h7v2h-7zM152 605h10v2h-10zM218 605h10v2h-10zM378 605h10v2h-10zM605 605h9v2h-9zM652 605h9v2h-9zM765 605h10v2h-10zM803 605h9v2h-9zM265 610h19v2h-19zM294 610h9v2h-9zM331 610h10v2h-10zM378 610h10v2h-10zM558 610h9v2h-9zM614 610h10v2h-10zM756 610h9v2h-9zM803 610h19v2h-19zM841 610h7v2h-7zM199 624h10v4h-10zM284 624h10v4h-10zM369 624h9v4h-9zM690 624h9v4h-9zM737 624h9v4h-9zM237 628h19v4h-19zM350 628h10v4h-10zM397 628h10v4h-10zM435 628h9v4h-9zM548 628h10v4h-10zM595 628h10v4h-10zM624 628h9v4h-9zM652 628h9v4h-9zM737 628h9v4h-9zM765 628h19v4h-19zM133 632h10v5h-10zM171 632h9v5h-9zM209 632h9v5h-9zM322 632h9v5h-9zM388 632h9v5h-9zM426 632h9v5h-9zM510 632h10v5h-10zM699 632h10v5h-10zM841 632h7v5h-7zM162 637h9v6h-9zM275 637h9v6h-9zM360 637h9v6h-9zM463 637h10v6h-10zM577 637h9v6h-9zM661 637h10v6h-10zM133 643h10v8h-10zM312 643h19v8h-19zM350 643h19v8h-19zM548 643h10v8h-10zM614 643h10v8h-10zM765 643h10v8h-10zM180 676h10v8h-10zM199 676h19v8h-19zM294 676h9v8h-9zM322 676h9v8h-9zM397 676h10v8h-10zM529 676h10v8h-10zM595 676h10v8h-10zM643 676h9v8h-9zM671 676h9v8h-9zM718 676h9v8h-9zM737 676h19v8h-19zM171 651h9v10h-9zM209 651h9v10h-9zM275 651h9v10h-9zM312 651h10v10h-10zM397 651h10v10h-10zM426 651h18v10h-18zM473 651h9v10h-9zM661 651h10v10h-10zM775 651h9v10h-9zM812 651h10v10h-10zM133 661h10v15h-10zM199 661h10v15h-10zM322 661h9v15h-9zM463 661h10v15h-10zM586 661h9v15h-9z"/><path fill="#0000df" d="M482 532h10v3h-10zM341 567h9v3h-9zM265 572h10v3h-10zM416 572h10v3h-10zM152 579h10v3h-10zM218 579h10v3h-10zM341 579h9v3h-9zM454 579h9v3h-9zM727 579h10v3h-10zM152 586h10v3h-10zM218 586h10v3h-10zM312 586h10v3h-10zM331 586h19v3h-19zM454 586h9v3h-9zM501 586h9v3h-9zM567 586h10v3h-10zM652 586h9v3h-9zM746 586h19v3h-19zM152 593h10v3h-10zM171 593h19v3h-19zM341 593h9v3h-9zM416 593h10v3h-10zM454 593h9v3h-9zM577 593h9v3h-9zM614 593h19v3h-19zM727 593h10v3h-10zM841 593h7v3h-7zM190 600h9v3h-9zM322 600h9v3h-9zM369 600h9v3h-9zM482 600h10v3h-10zM586 600h19v3h-19zM727 600h10v3h-10zM765 600h19v3h-19zM171 607h9v3h-9zM246 607h10v3h-10zM275 607h9v3h-9zM426 607h9v3h-9zM444 607h10v3h-10zM482 607h10v3h-10zM510 607h10v3h-10zM652 607h9v3h-9zM671 607h9v3h-9zM756 607h9v3h-9zM803 607h9v3h-9zM209 612h9v3h-9zM397 612h10v3h-10zM454 612h9v3h-9zM492 612h9v3h-9zM548 612h10v3h-10zM680 612h10v3h-10zM765 612h10v3h-10zM793 612h10v3h-10zM190 615h9v3h-9zM397 615h19v3h-19zM444 615h10v3h-10zM482 615h10v3h-10zM510 615h10v3h-10zM605 615h9v3h-9zM624 615h9v3h-9zM661 615h10v3h-10zM737 615h9v3h-9zM756 615h19v3h-19zM803 615h9v3h-9zM209 618h9v3h-9zM246 618h10v3h-10zM426 618h9v3h-9zM454 618h9v3h-9zM529 618h10v3h-10zM567 618h10v3h-10zM671 618h28v3h-28zM709 618h9v3h-9zM746 618h10v3h-10zM775 618h18v3h-18zM822 618h9v3h-9zM162 621h9v3h-9zM209 621h9v3h-9zM275 621h19v3h-19zM350 621h10v3h-10zM397 621h19v3h-19zM426 621h9v3h-9zM510 621h10v3h-10zM652 621h9v3h-9zM699 621h28v3h-28zM190 565h9v2h-9zM265 565h10v2h-10zM228 570h9v2h-9zM341 570h9v2h-9zM501 570h9v2h-9zM586 570h9v2h-9zM209 575h9v2h-9zM577 575h9v2h-9zM765 575h10v2h-10zM190 577h9v2h-9zM218 577h10v2h-10zM341 577h9v2h-9zM416 577h10v2h-10zM501 577h9v2h-9zM539 577h9v2h-9zM614 577h10v2h-10zM727 577h10v2h-10zM218 582h19v2h-19zM331 582h10v2h-10zM416 582h10v2h-10zM473 582h9v2h-9zM501 582h9v2h-9zM727 582h10v2h-10zM841 582h7v2h-7zM152 584h10v2h-10zM341 584h9v2h-9zM378 584h10v2h-10zM501 584h9v2h-9zM539 584h9v2h-9zM614 584h10v2h-10zM727 584h10v2h-10zM803 584h9v2h-9zM841 584h7v2h-7zM218 589h10v2h-10zM303 589h9v2h-9zM539 589h9v2h-9zM577 589h9v2h-9zM624 589h9v2h-9zM803 589h9v2h-9zM841 589h7v2h-7zM152 591h10v2h-10zM510 591h10v2h-10zM539 591h9v2h-9zM727 591h10v2h-10zM756 591h9v2h-9zM841 591h7v2h-7zM407 596h9v2h-9zM539 596h9v2h-9zM577 596h9v2h-9zM652 596h9v2h-9zM756 596h37v2h-37zM831 596h17v2h-17zM162 598h9v2h-9zM218 598h10v2h-10zM341 598h9v2h-9zM463 598h10v2h-10zM652 598h9v2h-9zM841 598h7v2h-7zM265 603h10v2h-10zM350 603h10v2h-10zM435 603h9v2h-9zM529 603h10v2h-10zM614 603h10v2h-10zM661 603h10v2h-10zM133 605h10v2h-10zM284 605h10v2h-10zM303 605h9v2h-9zM360 605h9v2h-9zM482 605h10v2h-10zM595 605h10v2h-10zM680 605h19v2h-19zM709 605h9v2h-9zM727 605h10v2h-10zM756 605h9v2h-9zM209 610h9v2h-9zM284 610h10v2h-10zM322 610h9v2h-9zM510 610h10v2h-10zM529 610h10v2h-10zM737 610h9v2h-9zM765 610h10v2h-10zM209 624h9v4h-9zM322 624h9v4h-9zM350 624h10v4h-10zM397 624h10v4h-10zM473 624h9v4h-9zM510 624h10v4h-10zM812 624h10v4h-10zM133 628h10v4h-10zM284 628h10v4h-10zM312 628h10v4h-10zM369 628h9v4h-9zM388 628h9v4h-9zM482 628h10v4h-10zM586 628h9v4h-9zM614 628h10v4h-10zM661 628h10v4h-10zM727 628h10v4h-10zM812 628h10v4h-10zM841 628h7v4h-7zM350 632h10v5h-10zM369 632h9v5h-9zM463 632h10v5h-10zM482 632h10v5h-10zM595 632h10v5h-10zM737 632h9v5h-9zM775 632h9v5h-9zM133 637h10v6h-10zM312 637h10v6h-10zM388 637h9v6h-9zM426 637h9v6h-9zM473 637h9v6h-9zM548 637h10v6h-10zM586 637h9v6h-9zM162 643h9v8h-9zM199 643h19v8h-19zM246 643h10v8h-10zM284 643h10v8h-10zM435 643h9v8h-9zM737 643h9v8h-9zM812 643h10v8h-10zM275 676h9v8h-9zM444 676h10v8h-10zM492 676h9v8h-9zM680 676h10v8h-10zM284 651h10v10h-10zM548 651h10v10h-10zM699 651h10v10h-10zM162 661h9v15h-9zM209 661h9v15h-9zM350 661h10v15h-10zM624 661h9v15h-9zM775 661h9v15h-9z"/><path fill="#0000ff" d="M558 532h9v3h-9zM775 532h9v3h-9zM812 532h19v3h-19zM416 579h10v3h-10zM577 586h9v3h-9zM190 593h9v3h-9zM218 593h10v3h-10zM350 593h10v3h-10zM152 600h10v3h-10zM265 600h10v3h-10zM454 600h9v3h-9zM539 600h9v3h-9zM577 600h9v3h-9zM614 600h10v3h-10zM803 600h9v3h-9zM841 600h7v3h-7zM341 607h9v3h-9zM416 607h10v3h-10zM454 607h9v3h-9zM539 607h9v3h-9zM614 607h10v3h-10zM841 607h7v3h-7zM265 612h10v3h-10zM341 612h9v3h-9zM416 612h10v3h-10zM463 612h10v3h-10zM501 612h9v3h-9zM614 612h10v3h-10zM690 612h9v3h-9zM803 612h19v3h-19zM331 615h19v3h-19zM378 615h10v3h-10zM586 615h9v3h-9zM614 615h10v3h-10zM652 615h9v3h-9zM841 615h7v3h-7zM162 618h9v3h-9zM331 618h10v3h-10zM369 618h9v3h-9zM435 618h9v3h-9zM577 618h9v3h-9zM595 618h10v3h-10zM614 618h10v3h-10zM699 618h10v3h-10zM765 618h10v3h-10zM841 618h7v3h-7zM133 621h10v3h-10zM237 621h9v3h-9zM331 621h10v3h-10zM416 621h10v3h-10zM501 621h9v3h-9zM803 621h19v3h-19zM624 542h9v2h-9zM152 582h10v2h-10zM378 582h10v2h-10zM190 584h9v2h-9zM303 584h9v2h-9zM331 589h19v2h-19zM218 591h10v2h-10zM303 591h9v2h-9zM331 591h10v2h-10zM416 591h10v2h-10zM454 591h9v2h-9zM614 591h10v2h-10zM765 591h10v2h-10zM152 596h10v2h-10zM228 596h9v2h-9zM331 596h10v2h-10zM454 596h9v2h-9zM727 596h10v2h-10zM152 598h10v2h-10zM190 598h9v2h-9zM265 598h10v2h-10zM378 598h10v2h-10zM690 598h9v2h-9zM190 603h9v2h-9zM228 603h9v2h-9zM331 603h10v2h-10zM378 603h10v2h-10zM416 603h10v2h-10zM454 603h9v2h-9zM765 603h10v2h-10zM190 605h9v2h-9zM265 605h10v2h-10zM341 605h9v2h-9zM539 605h9v2h-9zM614 605h10v2h-10zM633 605h10v2h-10zM841 605h7v2h-7zM303 610h9v2h-9zM341 610h9v2h-9zM454 610h9v2h-9zM652 610h9v2h-9zM727 610h10v2h-10zM539 624h9v4h-9zM595 624h10v4h-10zM633 624h10v4h-10zM671 624h9v4h-9zM699 624h10v4h-10zM727 624h10v4h-10zM746 624h10v4h-10zM765 624h10v4h-10zM784 624h9v4h-9zM822 624h9v4h-9zM162 628h9v4h-9zM633 628h10v4h-10zM671 628h9v4h-9zM746 628h10v4h-10zM784 628h9v4h-9zM803 628h9v4h-9zM822 628h9v4h-9zM312 632h10v5h-10zM397 632h10v5h-10zM473 632h9v5h-9zM614 632h10v5h-10zM633 632h10v5h-10zM671 632h9v5h-9zM727 632h10v5h-10zM746 632h10v5h-10zM784 632h9v5h-9zM822 632h9v5h-9zM209 637h9v6h-9zM435 637h9v6h-9zM482 637h10v6h-10zM765 637h19v6h-19zM812 637h10v6h-10zM275 643h9v8h-9zM397 643h10v8h-10zM473 643h9v8h-9zM661 643h10v8h-10zM775 643h9v8h-9zM133 676h10v8h-10zM171 676h9v8h-9zM237 676h19v8h-19zM284 676h10v8h-10zM312 676h10v8h-10zM350 676h10v8h-10zM407 676h9v8h-9zM473 676h19v8h-19zM520 676h9v8h-9zM548 676h10v8h-10zM567 676h10v8h-10zM605 676h9v8h-9zM709 676h9v8h-9zM812 676h29v8h-29zM162 651h9v10h-9zM199 651h10v10h-10zM246 651h10v10h-10zM388 651h9v10h-9zM463 651h10v10h-10zM624 651h9v10h-9zM237 661h9v15h-9zM284 661h10v15h-10zM312 661h10v15h-10zM397 661h10v15h-10zM473 661h9v15h-9zM510 661h10v15h-10zM548 661h10v15h-10zM661 661h10v15h-10zM699 661h10v15h-10zM812 661h10v15h-10z"/><path fill="#0050ff" d="M143 535h9v2h-9zM180 535h10v2h-10zM218 535h10v2h-10zM256 535h9v2h-9zM294 535h9v2h-9zM331 535h10v2h-10zM369 535h9v2h-9zM407 535h9v2h-9zM444 535h10v2h-10zM482 535h10v2h-10zM520 535h9v2h-9zM558 535h9v2h-9zM595 535h10v2h-10zM633 535h10v2h-10zM671 535h9v2h-9zM709 535h9v2h-9zM746 535h10v2h-10zM775 535h18v2h-18zM624 537h9v2h-9zM586 539h9v3h-9zM624 539h9v3h-9zM265 621h10v3h-10zM218 628h10v4h-10zM256 628h9v4h-9zM190 632h9v5h-9zM218 632h10v5h-10zM256 632h9v5h-9zM746 637h10v6h-10zM822 637h9v6h-9zM482 643h10v8h-10zM501 643h9v8h-9zM265 676h10v8h-10zM331 676h10v8h-10zM416 676h10v8h-10zM454 676h9v8h-9zM501 676h9v8h-9zM501 651h9v10h-9zM539 651h9v10h-9z"/><path fill="#0040ff" d="M586 535h9v2h-9zM624 535h9v2h-9zM256 618h9v3h-9zM228 621h9v3h-9zM378 621h10v3h-10zM190 624h9v4h-9zM228 624h9v4h-9zM256 624h9v4h-9zM303 624h9v4h-9zM341 624h9v4h-9zM407 624h19v4h-19zM492 624h9v4h-9zM643 624h9v4h-9zM680 624h10v4h-10zM718 624h9v4h-9zM793 624h10v4h-10zM831 624h10v4h-10zM190 628h9v4h-9zM228 628h9v4h-9zM303 628h9v4h-9zM341 628h9v4h-9zM407 628h19v4h-19zM492 628h9v4h-9zM643 628h9v4h-9zM680 628h10v4h-10zM718 628h9v4h-9zM793 628h10v4h-10zM831 628h10v4h-10zM152 632h10v5h-10zM228 632h9v5h-9zM303 632h9v5h-9zM341 632h9v5h-9zM378 632h10v5h-10zM407 632h19v5h-19zM492 632h18v5h-18zM643 632h9v5h-9zM680 632h10v5h-10zM718 632h9v5h-9zM793 632h10v5h-10zM831 632h10v5h-10zM539 637h9v6h-9zM633 637h10v6h-10zM671 637h9v6h-9zM690 637h9v6h-9zM784 637h9v6h-9zM727 651h10v10h-10zM577 661h9v15h-9zM152 676h10v8h-10zM218 676h10v8h-10zM577 676h9v8h-9zM803 676h9v8h-9zM841 676h7v8h-7z"/><path fill="#0060ff" d="M737 535h9v2h-9zM812 535h19v2h-19zM586 537h9v2h-9zM143 539h9v3h-9zM180 539h10v3h-10zM218 539h10v3h-10zM256 539h9v3h-9zM294 539h9v3h-9zM331 539h10v3h-10zM369 539h9v3h-9zM407 539h9v3h-9zM444 539h10v3h-10zM482 539h10v3h-10zM520 539h9v3h-9zM558 539h9v3h-9zM595 539h10v3h-10zM633 539h10v3h-10zM671 539h9v3h-9zM709 539h9v3h-9zM746 539h10v3h-10zM775 539h18v3h-18zM265 618h10v3h-10zM294 637h9v6h-9zM501 637h9v6h-9zM595 643h10v8h-10zM228 676h9v8h-9zM303 676h9v8h-9zM482 651h10v10h-10zM633 661h10v15h-10zM671 661h9v15h-9zM784 661h9v15h-9z"/><path fill="#0070ff" d="M143 537h9v2h-9zM180 537h10v2h-10zM218 537h10v2h-10zM256 537h9v2h-9zM294 537h9v2h-9zM331 537h10v2h-10zM369 537h9v2h-9zM407 537h9v2h-9zM444 537h10v2h-10zM482 537h10v2h-10zM520 537h9v2h-9zM558 537h9v2h-9zM595 537h10v2h-10zM633 537h10v2h-10zM671 537h9v2h-9zM709 537h9v2h-9zM737 537h19v2h-19zM775 537h18v2h-18zM812 537h19v2h-19zM737 539h9v3h-9zM812 539h19v3h-19zM558 637h9v6h-9zM369 643h9v8h-9zM369 651h9v10h-9zM595 651h10v10h-10zM746 661h10v15h-10zM822 661h9v15h-9z"/><path fill="#0010ff" d="M143 542h9v2h-9zM256 542h9v2h-9zM294 542h9v2h-9zM331 542h10v2h-10zM369 542h9v2h-9zM407 542h9v2h-9zM444 542h10v2h-10zM482 542h10v2h-10zM586 542h9v2h-9zM633 542h10v2h-10zM671 542h9v2h-9zM746 542h10v2h-10zM454 584h9v2h-9zM416 589h10v2h-10zM577 591h9v2h-9zM416 596h10v2h-10zM595 596h10v2h-10zM331 598h10v2h-10zM416 598h10v2h-10zM218 603h10v2h-10zM501 603h9v2h-9zM577 603h9v2h-9zM416 605h10v2h-10zM454 605h9v2h-9zM501 605h9v2h-9zM577 605h9v2h-9zM152 610h10v2h-10zM190 610h9v2h-9zM218 610h19v2h-19zM416 610h10v2h-10zM539 610h9v2h-9zM577 610h9v2h-9zM228 586h9v3h-9zM265 593h10v3h-10zM378 600h10v3h-10zM501 600h9v3h-9zM652 600h9v3h-9zM152 607h10v3h-10zM218 607h19v3h-19zM331 607h10v3h-10zM369 607h9v3h-9zM690 607h9v3h-9zM190 612h9v3h-9zM539 612h9v3h-9zM652 612h9v3h-9zM228 615h9v3h-9zM265 615h10v3h-10zM303 615h9v3h-9zM416 615h10v3h-10zM539 615h9v3h-9zM577 615h9v3h-9zM180 618h10v3h-10zM341 618h9v3h-9zM416 618h10v3h-10zM501 618h9v3h-9zM539 618h9v3h-9zM652 618h9v3h-9zM180 621h10v3h-10zM577 621h9v3h-9zM614 621h10v3h-10zM246 624h10v4h-10zM294 624h9v4h-9zM501 624h9v4h-9zM558 624h9v4h-9zM577 624h9v4h-9zM614 624h10v4h-10zM652 624h9v4h-9zM294 628h9v4h-9zM558 628h9v4h-9zM577 628h9v4h-9zM690 628h9v4h-9zM294 632h9v5h-9zM558 632h9v5h-9zM765 632h10v5h-10zM246 637h10v6h-10zM510 637h10v6h-10zM727 637h10v6h-10zM388 643h9v8h-9zM426 643h9v8h-9zM463 643h10v8h-10zM690 643h9v8h-9zM162 676h9v8h-9zM256 676h9v8h-9zM426 676h9v8h-9zM463 676h10v8h-10zM586 676h9v8h-9zM633 676h10v8h-10zM661 676h10v8h-10zM699 676h10v8h-10zM756 676h9v8h-9zM775 676h9v8h-9zM793 676h10v8h-10zM322 651h9v10h-9zM350 651h10v10h-10zM586 651h9v10h-9zM246 661h10v15h-10zM275 661h9v15h-9zM388 661h9v15h-9zM482 661h10v15h-10zM803 661h9v15h-9z"/><path fill="#0020ff" d="M180 542h10v2h-10zM218 542h10v2h-10zM520 542h9v2h-9zM558 542h9v2h-9zM595 542h10v2h-10zM709 542h9v2h-9zM737 542h9v2h-9zM775 542h18v2h-18zM812 542h19v2h-19zM341 591h9v2h-9zM152 603h10v2h-10zM341 600h9v3h-9zM416 600h10v3h-10zM190 607h9v3h-9zM265 607h10v3h-10zM727 607h10v3h-10zM765 607h10v3h-10zM152 612h10v3h-10zM218 612h10v3h-10zM331 612h10v3h-10zM378 612h10v3h-10zM577 612h9v3h-9zM727 612h10v3h-10zM152 615h10v3h-10zM454 615h9v3h-9zM152 618h10v3h-10zM190 618h9v3h-9zM228 618h9v3h-9zM303 618h9v3h-9zM378 618h10v3h-10zM143 621h9v3h-9zM341 621h9v3h-9zM539 621h9v3h-9zM841 621h7v3h-7zM180 624h10v4h-10zM378 624h10v4h-10zM444 624h19v4h-19zM520 624h9v4h-9zM567 624h10v4h-10zM605 624h9v4h-9zM803 624h9v4h-9zM841 624h7v4h-7zM143 628h9v4h-9zM180 628h10v4h-10zM444 628h19v4h-19zM501 628h9v4h-9zM520 628h9v4h-9zM539 628h9v4h-9zM567 628h10v4h-10zM605 628h9v4h-9zM180 632h10v5h-10zM444 632h10v5h-10zM520 632h9v5h-9zM567 632h10v5h-10zM605 632h9v5h-9zM652 632h9v5h-9zM690 632h9v5h-9zM803 632h9v5h-9zM350 637h10v6h-10zM369 637h9v6h-9zM595 637h10v6h-10zM652 637h9v6h-9zM803 637h9v6h-9zM841 637h7v6h-7zM539 643h9v8h-9zM577 643h18v8h-18zM699 643h10v8h-10zM727 643h10v8h-10zM803 643h9v8h-9zM841 643h7v8h-7zM143 676h9v8h-9zM369 676h9v8h-9zM388 676h9v8h-9zM558 676h9v8h-9zM614 676h19v8h-19zM510 651h10v10h-10zM614 651h10v10h-10zM652 651h9v10h-9zM690 651h9v10h-9zM737 651h9v10h-9zM765 651h10v10h-10zM803 651h9v10h-9zM841 651h7v10h-7zM360 661h9v15h-9zM426 661h9v15h-9zM652 661h9v15h-9zM737 661h9v15h-9zM841 661h7v15h-7z"/><path fill="#0000cf" d="M143 544h9v2h-9zM633 544h10v2h-10zM152 563h10v2h-10zM416 565h10v2h-10zM190 570h9v2h-9zM265 570h10v2h-10zM303 570h9v2h-9zM378 570h10v2h-10zM416 570h10v2h-10zM435 570h9v2h-9zM699 570h10v2h-10zM803 570h9v2h-9zM133 575h10v2h-10zM152 575h10v2h-10zM218 575h10v2h-10zM265 575h10v2h-10zM341 575h9v2h-9zM180 577h10v2h-10zM228 577h9v2h-9zM303 577h9v2h-9zM378 577h10v2h-10zM661 577h10v2h-10zM680 577h10v2h-10zM718 577h9v2h-9zM765 577h19v2h-19zM803 577h9v2h-9zM133 582h10v2h-10zM162 582h9v2h-9zM265 582h19v2h-19zM454 582h9v2h-9zM510 582h10v2h-10zM539 582h28v2h-28zM680 582h10v2h-10zM699 582h10v2h-10zM775 582h9v2h-9zM265 584h10v2h-10zM312 584h10v2h-10zM350 584h10v2h-10zM397 584h10v2h-10zM482 584h10v2h-10zM510 584h10v2h-10zM586 584h9v2h-9zM605 584h9v2h-9zM756 584h9v2h-9zM350 589h10v2h-10zM444 589h10v2h-10zM501 589h19v2h-19zM548 589h10v2h-10zM605 589h19v2h-19zM643 589h9v2h-9zM737 589h9v2h-9zM784 589h9v2h-9zM812 589h10v2h-10zM831 589h10v2h-10zM133 591h10v2h-10zM209 591h9v2h-9zM246 591h10v2h-10zM265 591h19v2h-19zM350 591h10v2h-10zM463 591h10v2h-10zM652 591h19v2h-19zM680 591h10v2h-10zM709 591h9v2h-9zM180 596h10v2h-10zM199 596h10v2h-10zM275 596h9v2h-9zM312 596h10v2h-10zM369 596h9v2h-9zM426 596h9v2h-9zM473 596h9v2h-9zM529 596h10v2h-10zM605 596h9v2h-9zM624 596h9v2h-9zM690 596h9v2h-9zM294 598h9v2h-9zM350 598h19v2h-19zM473 598h9v2h-9zM510 598h19v2h-19zM548 598h10v2h-10zM586 598h9v2h-9zM605 598h9v2h-9zM671 598h19v2h-19zM699 598h10v2h-10zM775 598h9v2h-9zM803 598h9v2h-9zM171 603h9v2h-9zM209 603h9v2h-9zM388 603h9v2h-9zM426 603h9v2h-9zM482 603h10v2h-10zM510 603h10v2h-10zM548 603h10v2h-10zM643 603h9v2h-9zM671 603h9v2h-9zM690 603h19v2h-19zM718 603h9v2h-9zM746 603h10v2h-10zM775 603h18v2h-18zM803 603h19v2h-19zM199 605h19v2h-19zM237 605h9v2h-9zM275 605h9v2h-9zM444 605h10v2h-10zM492 605h9v2h-9zM558 605h9v2h-9zM586 605h9v2h-9zM643 605h9v2h-9zM699 605h10v2h-10zM737 605h9v2h-9zM775 605h9v2h-9zM822 605h19v2h-19zM133 610h19v2h-19zM180 610h10v2h-10zM199 610h10v2h-10zM237 610h9v2h-9zM256 610h9v2h-9zM312 610h10v2h-10zM350 610h10v2h-10zM426 610h18v2h-18zM473 610h28v2h-28zM520 610h9v2h-9zM567 610h10v2h-10zM586 610h9v2h-9zM643 610h9v2h-9zM690 610h19v2h-19zM746 610h10v2h-10zM775 610h18v2h-18zM454 560h9v3h-9zM218 567h10v3h-10zM331 567h10v3h-10zM360 567h9v3h-9zM539 567h9v3h-9zM690 567h9v3h-9zM143 572h19v3h-19zM341 572h9v3h-9zM360 572h9v3h-9zM378 572h10v3h-10zM397 572h10v3h-10zM454 572h9v3h-9zM539 572h9v3h-9zM577 572h9v3h-9zM605 572h9v3h-9zM699 572h10v3h-10zM765 572h10v3h-10zM803 572h9v3h-9zM841 572h7v3h-7zM275 579h19v3h-19zM303 579h9v3h-9zM331 579h10v3h-10zM397 579h10v3h-10zM548 579h19v3h-19zM614 579h10v3h-10zM690 579h9v3h-9zM765 579h10v3h-10zM256 586h19v3h-19zM360 586h9v3h-9zM378 586h10v3h-10zM407 586h19v3h-19zM548 586h10v3h-10zM727 586h19v3h-19zM793 586h10v3h-10zM831 586h17v3h-17zM162 593h9v3h-9zM407 593h9v3h-9zM463 593h10v3h-10zM501 593h9v3h-9zM643 593h9v3h-9zM661 593h29v3h-29zM718 593h9v3h-9zM756 593h9v3h-9zM171 600h9v3h-9zM199 600h10v3h-10zM397 600h10v3h-10zM510 600h19v3h-19zM643 600h9v3h-9zM690 600h9v3h-9zM756 600h9v3h-9zM793 600h10v3h-10zM180 607h10v3h-10zM237 607h9v3h-9zM312 607h10v3h-10zM360 607h9v3h-9zM388 607h9v3h-9zM435 607h9v3h-9zM520 607h19v3h-19zM548 607h10v3h-10zM567 607h10v3h-10zM605 607h9v3h-9zM680 607h10v3h-10zM699 607h10v3h-10zM737 607h19v3h-19zM812 607h19v3h-19zM133 612h10v3h-10zM162 612h28v3h-28zM237 612h9v3h-9zM275 612h9v3h-9zM350 612h10v3h-10zM369 612h9v3h-9zM388 612h9v3h-9zM444 612h10v3h-10zM482 612h10v3h-10zM520 612h9v3h-9zM558 612h9v3h-9zM595 612h19v3h-19zM775 612h9v3h-9zM180 615h10v3h-10zM209 615h9v3h-9zM237 615h28v3h-28zM294 615h9v3h-9zM312 615h10v3h-10zM350 615h10v3h-10zM426 615h9v3h-9zM463 615h10v3h-10zM529 615h10v3h-10zM548 615h29v3h-29zM699 615h38v3h-38zM784 615h19v3h-19zM822 615h19v3h-19zM133 618h10v3h-10zM350 618h19v3h-19zM463 618h19v3h-19zM548 618h10v3h-10zM605 618h9v3h-9zM624 618h9v3h-9zM661 618h10v3h-10zM718 618h28v3h-28zM199 621h10v3h-10zM246 621h10v3h-10zM312 621h19v3h-19zM463 621h10v3h-10zM520 621h9v3h-9zM548 621h10v3h-10zM624 621h9v3h-9zM643 621h9v3h-9zM671 621h9v3h-9zM746 621h19v3h-19zM775 621h28v3h-28zM162 624h18v4h-18zM360 624h9v4h-9zM426 624h18v4h-18zM482 624h10v4h-10zM548 624h10v4h-10zM624 624h9v4h-9zM775 624h9v4h-9zM209 628h9v4h-9zM275 628h9v4h-9zM322 628h9v4h-9zM426 628h9v4h-9zM510 628h10v4h-10zM699 628h10v4h-10zM199 632h10v5h-10zM237 632h19v5h-19zM275 632h9v5h-9zM360 632h9v5h-9zM435 632h9v5h-9zM548 632h10v5h-10zM586 632h9v5h-9zM812 632h10v5h-10zM171 637h9v6h-9zM199 637h10v6h-10zM322 637h9v6h-9zM397 637h10v6h-10zM624 637h9v6h-9zM171 643h9v8h-9zM237 643h9v8h-9zM510 643h10v8h-10zM624 643h9v8h-9zM435 676h9v8h-9zM510 676h10v8h-10zM133 651h10v10h-10zM360 651h9v10h-9zM171 661h9v15h-9zM435 661h9v15h-9z"/><path fill="#0030ff" d="M303 593h9v3h-9zM501 607h9v3h-9zM218 615h10v3h-10zM501 615h9v3h-9zM218 618h10v3h-10zM152 621h10v3h-10zM190 621h9v3h-9zM218 621h10v3h-10zM256 621h9v3h-9zM303 621h9v3h-9zM454 621h9v3h-9zM727 621h10v3h-10zM228 605h9v2h-9zM331 605h10v2h-10zM501 610h9v2h-9zM143 624h19v4h-19zM218 624h10v4h-10zM331 624h10v4h-10zM529 624h10v4h-10zM709 624h9v4h-9zM756 624h9v4h-9zM152 628h10v4h-10zM331 628h10v4h-10zM378 628h10v4h-10zM529 628h10v4h-10zM709 628h9v4h-9zM756 628h9v4h-9zM143 632h9v5h-9zM331 632h10v5h-10zM454 632h9v5h-9zM529 632h19v5h-19zM577 632h9v5h-9zM709 632h9v5h-9zM756 632h9v5h-9zM614 637h10v6h-10zM652 643h9v8h-9zM190 676h9v8h-9zM341 676h9v8h-9zM360 676h9v8h-9zM378 676h10v8h-10zM539 676h9v8h-9zM652 676h9v8h-9zM690 676h9v8h-9zM727 676h10v8h-10zM765 676h10v8h-10zM577 651h9v10h-9zM369 661h9v15h-9zM501 661h9v15h-9zM539 661h9v15h-9zM595 661h10v15h-10zM614 661h10v15h-10zM690 661h9v15h-9zM727 661h10v15h-10zM765 661h10v15h-10z"/><path fill="#0080ff" d="M265 624h10v4h-10zM143 637h9v6h-9zM180 637h10v6h-10zM218 637h10v6h-10zM256 637h9v6h-9zM378 637h10v6h-10zM444 637h19v6h-19zM520 637h9v6h-9zM567 637h10v6h-10zM605 637h9v6h-9zM294 661h9v15h-9z"/><path fill="#008fff" d="M265 628h10v4h-10zM671 651h9v10h-9zM558 661h9v15h-9z"/><path fill="#009fff" d="M265 632h10v5h-10zM152 637h10v6h-10zM331 637h10v6h-10zM529 637h10v6h-10zM709 637h9v6h-9zM756 637h9v6h-9zM784 643h9v8h-9zM143 661h9v15h-9zM180 661h10v15h-10zM218 661h10v15h-10zM256 661h9v15h-9zM378 661h10v15h-10zM444 661h19v15h-19zM520 661h9v15h-9zM567 661h10v15h-10zM605 661h9v15h-9z"/><path fill="#00afff" d="M190 637h9v6h-9zM228 637h9v6h-9zM303 637h9v6h-9zM341 637h9v6h-9zM407 637h19v6h-19zM492 637h9v6h-9zM643 637h9v6h-9zM680 637h10v6h-10zM718 637h9v6h-9zM793 637h10v6h-10zM831 637h10v6h-10zM633 643h10v8h-10zM671 643h9v8h-9zM746 643h10v8h-10zM633 651h10v10h-10zM822 651h9v10h-9z"/><path fill="#00cfff" d="M265 637h10v6h-10zM294 651h9v10h-9zM190 661h9v15h-9zM303 661h9v15h-9zM341 661h9v15h-9zM407 661h19v15h-19zM492 661h9v15h-9zM643 661h9v15h-9zM680 661h10v15h-10zM718 661h9v15h-9zM756 661h9v15h-9zM793 661h10v15h-10zM831 661h10v15h-10z"/><path fill="#00ffff" d="M143 643h9v8h-9zM378 643h10v8h-10zM444 643h10v8h-10zM567 643h10v8h-10zM143 651h9v10h-9zM605 651h9v10h-9zM265 661h10v15h-10z"/><path fill="#40ffbf" d="M152 643h10v8h-10zM331 643h10v8h-10zM407 643h9v8h-9zM709 643h9v8h-9zM756 643h9v8h-9zM831 643h10v8h-10zM331 651h10v10h-10zM407 651h9v10h-9zM643 651h9v10h-9zM680 651h10v10h-10zM709 651h9v10h-9zM831 651h10v10h-10z"/><path fill="#10ffef" d="M180 643h10v8h-10zM218 643h10v8h-10zM529 643h10v8h-10zM558 643h9v8h-9zM378 651h10v10h-10zM444 651h19v10h-19zM520 651h9v10h-9zM567 651h10v10h-10z"/><path fill="#50ffaf" d="M190 643h9v8h-9zM303 643h9v8h-9zM341 643h9v8h-9zM416 643h10v8h-10zM643 643h9v8h-9zM228 651h9v10h-9zM303 651h9v10h-9zM756 651h9v10h-9z"/><path fill="#60ff9f" d="M228 643h9v8h-9zM718 643h9v8h-9zM793 643h10v8h-10zM190 651h9v10h-9zM341 651h9v10h-9zM492 651h9v10h-9z"/><path fill="#00efff" d="M256 643h9v8h-9zM454 643h9v8h-9zM180 651h10v10h-10zM256 651h9v10h-9zM558 651h9v10h-9z"/><path fill="#70ff8f" d="M265 643h10v8h-10zM265 651h10v10h-10zM793 651h10v10h-10z"/><path fill="#00bfff" d="M294 643h9v8h-9zM822 643h9v8h-9zM746 651h10v10h-10zM784 651h9v10h-9zM152 661h10v15h-10zM331 661h10v15h-10zM529 661h10v15h-10zM709 661h9v15h-9z"/><path fill="#30ffcf" d="M492 643h9v8h-9zM680 643h10v8h-10zM152 651h10v10h-10zM416 651h10v10h-10zM529 651h10v10h-10z"/><path fill="#20ffdf" d="M520 643h9v8h-9zM605 643h9v8h-9zM218 651h10v10h-10zM718 651h9v10h-9z"/><path fill="#00dfff" d="M228 661h9v15h-9z"/></g>
<g stroke="#262626" stroke-width="1" fill="none" shape-rendering="crispEdges">
<path d="M849.5 422.0V683.6M133.5 683.5h-4.5M849.5 683.5h4.5M133.5 679.5h-4.5M849.5 679.5h4.5M133.5 675.5h-4.5M849.5 675.5h4.5M133.5 671.5h-4.5M849.5 671.5h4.5M133.5 668.5h-8.0M849.5 668.5h8.0M133.5 647.5h-4.5M849.5 647.5h4.5M133.5 635.5h-4.5M849.5 635.5h4.5M133.5 627.5h-4.5M849.5 627.5h4.5M133.5 620.5h-4.5M849.5 620.5h4.5M133.5 615.5h-4.5M849.5 615.5h4.5M133.5 610.5h-4.5M849.5 610.5h4.5M133.5 606.5h-4.5M849.5 606.5h4.5M133.5 603.5h-4.5M849.5 603.5h4.5M133.5 600.5h-8.0M849.5 600.5h8.0M133.5 579.5h-4.5M849.5 579.5h4.5M133.5 567.5h-4.5M849.5 567.5h4.5M133.5 558.5h-4.5M849.5 558.5h4.5M133.5 552.5h-4.5M849.5 552.5h4.5M133.5 546.5h-4.5M849.5 546.5h4.5M133.5 542.5h-4.5M849.5 542.5h4.5M133.5 538.5h-4.5M849.5 538.5h4.5M133.5 534.5h-4.5M849.5 534.5h4.5M133.5 531.5h-8.0M849.5 531.5h8.0M133.5 511.5h-4.5M849.5 511.5h4.5M133.5 499.5h-4.5M849.5 499.5h4.5M133.5 490.5h-4.5M849.5 490.5h4.5M133.5 483.5h-4.5M849.5 483.5h4.5M133.5 478.5h-4.5M849.5 478.5h4.5M133.5 473.5h-4.5M849.5 473.5h4.5M133.5 469.5h-4.5M849.5 469.5h4.5M133.5 466.5h-4.5M849.5 466.5h4.5M133.5 463.5h-8.0M849.5 463.5h8.0M133.5 442.5h-4.5M849.5 442.5h4.5M133.5 430.5h-4.5M849.5 430.5h4.5M133.5 422.5h-4.5M849.5 422.5h4.5M133.5 422.0v-8.2M133.5 683.6v7.8M250.5 422.0v-8.2M250.5 683.6v7.8M368.5 422.0v-8.2M368.5 683.6v7.8M486.5 422.0v-8.2M486.5 683.6v7.8M604.5 422.0v-8.2M604.5 683.6v7.8M722.5 422.0v-8.2M722.5 683.6v7.8M840.5 422.0v-8.2M840.5 683.6v7.8"/>
</g>
<text x="90.2" y="469.1" font-size="17.50" textLength="56.2" lengthAdjust="spacingAndGlyphs" text-anchor="middle" fill="#262626">10000</text>
<text x="90.2" y="537.6" font-size="17.50" textLength="44.2" lengthAdjust="spacingAndGlyphs" text-anchor="middle" fill="#262626">1000</text>
<text x="90.2" y="605.8" font-size="17.50" textLength="33.4" lengthAdjust="spacingAndGlyphs" text-anchor="middle" fill="#262626">100</text>
<text x="90.2" y="674.3" font-size="17.50" textLength="21.6" lengthAdjust="spacingAndGlyphs" text-anchor="middle" fill="#262626">10</text>
<text x="133.3" y="715.2" font-size="17.50" textLength="50.8" lengthAdjust="spacingAndGlyphs" text-anchor="middle" fill="#262626">04:00</text>
<text x="251.2" y="715.2" font-size="17.50" textLength="50.8" lengthAdjust="spacingAndGlyphs" text-anchor="middle" fill="#262626">04:10</text>
<text x="369.1" y="715.2" font-size="17.50" textLength="50.8" lengthAdjust="spacingAndGlyphs" text-anchor="middle" fill="#262626">04:20</text>
<text x="486.9" y="715.2" font-size="17.50" textLength="50.8" lengthAdjust="spacingAndGlyphs" text-anchor="middle" fill="#262626">04:30</text>
<text x="604.8" y="715.2" font-size="17.50" textLength="50.8" lengthAdjust="spacingAndGlyphs" text-anchor="middle" fill="#262626">04:40</text>
<text x="722.7" y="715.2" font-size="17.50" textLength="50.8" lengthAdjust="spacingAndGlyphs" text-anchor="middle" fill="#262626">04:50</text>
<text x="840.6" y="715.2" font-size="17.50" textLength="50.8" lengthAdjust="spacingAndGlyphs" text-anchor="middle" fill="#262626">05:00</text>
<text x="491.3" y="739.9" font-size="19.50" textLength="48.3" lengthAdjust="spacingAndGlyphs" text-anchor="middle" fill="#262626">Time</text>
<text x="52.2" y="552.8" font-size="19.50" textLength="116.0" lengthAdjust="spacingAndGlyphs" text-anchor="middle" fill="#262626" transform="rotate(-90 52.2 552.8)">Energy (eV)</text>
<text x="837.5" y="410.8" font-size="17.50" textLength="97.8" lengthAdjust="spacingAndGlyphs" text-anchor="start" fill="#000">Log counts</text>
<defs><linearGradient id="jet1" x1="0" y1="1" x2="0" y2="0"><stop offset="0.0078" stop-color="#00008f"/><stop offset="0.0234" stop-color="#00009f"/><stop offset="0.0391" stop-color="#0000af"/><stop offset="0.0547" stop-color="#0000bf"/><stop offset="0.0703" stop-color="#0000cf"/><stop offset="0.0859" stop-color="#0000df"/><stop offset="0.1016" stop-color="#0000ef"/><stop offset="0.1172" stop-color="#0000ff"/><stop offset="0.1328" stop-color="#0010ff"/><stop offset="0.1484" stop-color="#0020ff"/><stop offset="0.1641" stop-color="#0030ff"/><stop offset="0.1797" stop-color="#0040ff"/><stop offset="0.1953" stop-color="#0050ff"/><stop offset="0.2109" stop-color="#0060ff"/><stop offset="0.2266" stop-color="#0070ff"/><stop offset="0.2422" stop-color="#0080ff"/><stop offset="0.2578" stop-color="#008fff"/><stop offset="0.2734" stop-color="#009fff"/><stop offset="0.2891" stop-color="#00afff"/><stop offset="0.3047" stop-color="#00bfff"/><stop offset="0.3203" stop-color="#00cfff"/><stop offset="0.3359" stop-color="#00dfff"/><stop offset="0.3516" stop-color="#00efff"/><stop offset="0.3672" stop-color="#00ffff"/><stop offset="0.3828" stop-color="#10ffef"/><stop offset="0.3984" stop-color="#20ffdf"/><stop offset="0.4141" stop-color="#30ffcf"/><stop offset="0.4297" stop-color="#40ffbf"/><stop offset="0.4453" stop-color="#50ffaf"/><stop offset="0.4609" stop-color="#60ff9f"/><stop offset="0.4766" stop-color="#70ff8f"/><stop offset="0.4922" stop-color="#80ff80"/><stop offset="0.5078" stop-color="#8fff70"/><stop offset="0.5234" stop-color="#9fff60"/><stop offset="0.5391" stop-color="#afff50"/><stop offset="0.5547" stop-color="#bfff40"/><stop offset="0.5703" stop-color="#cfff30"/><stop offset="0.5859" stop-color="#dfff20"/><stop offset="0.6016" stop-color="#efff10"/><stop offset="0.6172" stop-color="#ffff00"/><stop offset="0.6328" stop-color="#ffef00"/><stop offset="0.6484" stop-color="#ffdf00"/><stop offset="0.6641" stop-color="#ffcf00"/><stop offset="0.6797" stop-color="#ffbf00"/><stop offset="0.6953" stop-color="#ffaf00"/><stop offset="0.7109" stop-color="#ff9f00"/><stop offset="0.7266" stop-color="#ff8f00"/><stop offset="0.7422" stop-color="#ff8000"/><stop offset="0.7578" stop-color="#ff7000"/><stop offset="0.7734" stop-color="#ff6000"/><stop offset="0.7891" stop-color="#ff5000"/><stop offset="0.8047" stop-color="#ff4000"/><stop offset="0.8203" stop-color="#ff3000"/><stop offset="0.8359" stop-color="#ff2000"/><stop offset="0.8516" stop-color="#ff1000"/><stop offset="0.8672" stop-color="#ff0000"/><stop offset="0.8828" stop-color="#ef0000"/><stop offset="0.8984" stop-color="#df0000"/><stop offset="0.9141" stop-color="#cf0000"/><stop offset="0.9297" stop-color="#bf0000"/><stop offset="0.9453" stop-color="#af0000"/><stop offset="0.9609" stop-color="#9f0000"/><stop offset="0.9766" stop-color="#8f0000"/><stop offset="0.9922" stop-color="#800000"/></linearGradient></defs><rect x="874.4" y="422.0" width="23.4" height="261.6" fill="url(#jet1)"/>
<rect x="874.4" y="422.0" width="23.4" height="261.6" fill="none" stroke="#262626" stroke-width="1"/>
<path d="M897.8 631.5h-3M897.8 578.5h-3M897.8 526.5h-3M897.8 474.5h-3" stroke="#262626" stroke-width="1" shape-rendering="crispEdges"/>
<text x="905.0" y="689.9" font-size="17.50" textLength="9.5" lengthAdjust="spacingAndGlyphs" text-anchor="start" fill="#262626">0</text>
<text x="905.0" y="637.6" font-size="17.50" textLength="9.5" lengthAdjust="spacingAndGlyphs" text-anchor="start" fill="#262626">1</text>
<text x="905.0" y="585.3" font-size="17.50" textLength="9.5" lengthAdjust="spacingAndGlyphs" text-anchor="start" fill="#262626">2</text>
<text x="905.0" y="532.9" font-size="17.50" textLength="9.5" lengthAdjust="spacingAndGlyphs" text-anchor="start" fill="#262626">3</text>
<text x="905.0" y="480.6" font-size="17.50" textLength="9.5" lengthAdjust="spacingAndGlyphs" text-anchor="start" fill="#262626">4</text>
<text x="905.0" y="428.3" font-size="17.50" textLength="9.5" lengthAdjust="spacingAndGlyphs" text-anchor="start" fill="#262626">5</text>
<text x="492.4" y="24.9" font-size="19.50" textLength="259.8" lengthAdjust="spacingAndGlyphs" text-anchor="middle" fill="#000" font-weight="bold" stroke="#000" stroke-width="0.55">RPCICA160516T04.PNG</text>
<text x="492.4" y="48.3" font-size="19.50" textLength="175.6" lengthAdjust="spacingAndGlyphs" text-anchor="middle" fill="#000" font-weight="bold" stroke="#000" stroke-width="0.55">Solar Wind Ions</text>
<text x="491.9" y="413.0" font-size="19.50" textLength="161.8" lengthAdjust="spacingAndGlyphs" text-anchor="middle" fill="#000" font-weight="bold" stroke="#000" stroke-width="0.55">Cometary Ions</text>
</svg></body></html>
